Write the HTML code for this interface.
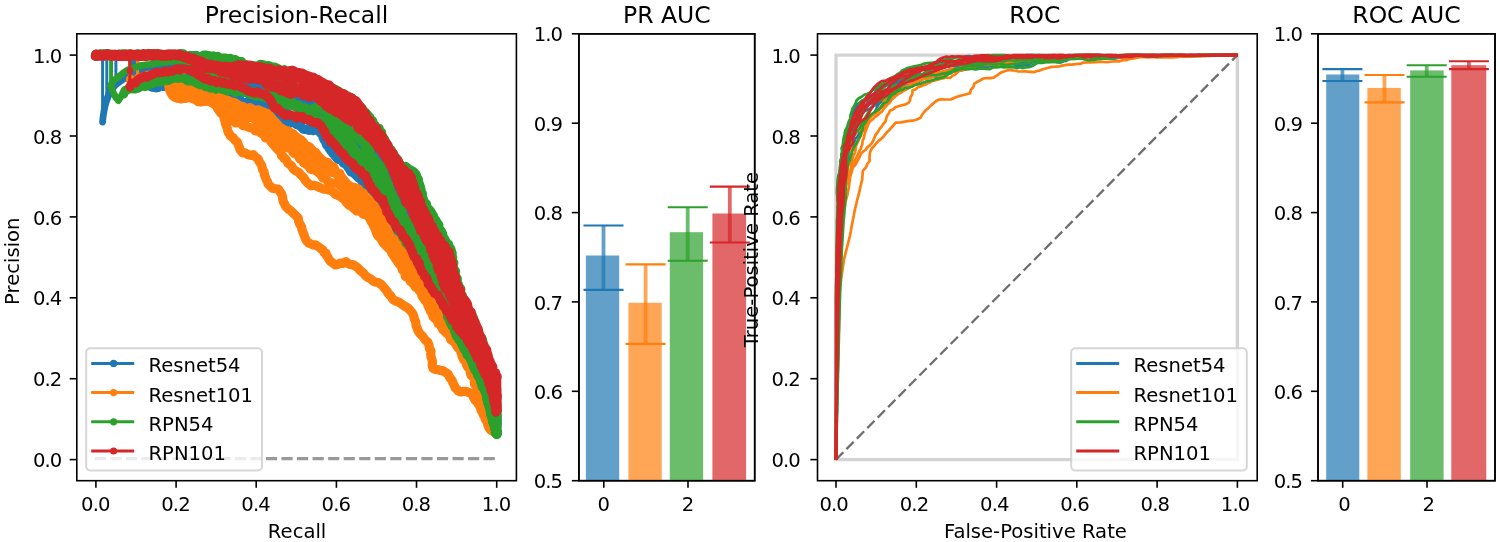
<!DOCTYPE html>
<html lang="en"><head><meta charset="utf-8"><title>PR / ROC curves</title>
<style>html,body{margin:0;padding:0;background:#fff}svg{display:block}</style></head>
<body>
<svg width="1500" height="542" viewBox="0 0 1500 542" font-family="'DejaVu Sans','Liberation Sans',sans-serif" font-size="19.6" fill="#000">
<rect width="1500" height="542" fill="#fff"/>
<filter id="soft" x="0" y="0" width="100%" height="100%" filterUnits="userSpaceOnUse" color-interpolation-filters="sRGB"><feGaussianBlur stdDeviation="0.55"/></filter>
<g filter="url(#soft)">
<rect width="1500" height="542" fill="#fff"/>
<clipPath id="c1"><rect x="76.8" y="33.8" width="439.59999999999997" height="446.9"/></clipPath>
<g clip-path="url(#c1)">
<line x1="94.85" y1="458.6" x2="496.7" y2="458.6" stroke="#999" stroke-width="3.4" stroke-dasharray="11.2 4.35"/>
<g fill="none" stroke="#1f77b4" stroke-linejoin="round" stroke-linecap="round">
<path stroke-width="3" d="M95.9 55.1 L96.4 56.3 L98.1 55.4 L101.5 55.0 L104.0 55.7 L105.6 56.1 L108.5 54.1 L111.0 56.0 L113.4 55.1 L115.8 56.1 L118.7 54.3 L120.7 54.7 L124.1 55.6 L125.3 56.2 L127.7 55.3 L130.8 57.1 L132.0 57.7 L133.4 61.7 L135.1 62.8 L135.5 66.2 L137.6 67.2 L139.0 71.6 L139.5 72.0 L141.2 75.5 L141.7 75.9 L143.1 79.0 L144.2 80.4 L145.9 82.6 L146.6 85.2 L149.2 85.9 L151.4 87.0 L154.0 87.4 L156.3 87.8 L158.2 87.5 L160.4 84.7 L163.4 86.5 L166.5 86.1 L168.4 85.3 L171.0 82.9 L173.6 84.5 L175.8 84.1 L178.0 83.3 L180.8 84.1 L183.4 83.0 L185.1 83.6 L188.7 84.6 L190.5 83.8 L193.4 84.8 L196.1 87.9 L197.9 88.1 L201.2 89.4 L203.7 89.8 L205.5 90.4 L209.1 88.5 L211.6 90.3 L212.8 90.6 L216.4 93.9 L217.8 95.1 L221.1 97.8 L223.1 97.6 L225.5 95.8 L227.9 95.7 L231.1 95.1 L232.9 95.2 L235.3 96.3 L238.1 98.8 L240.4 100.4 L243.3 102.8 L245.9 103.2 L248.4 101.4 L251.0 101.3 L252.9 101.5 L256.2 104.6 L258.2 104.0 L260.8 104.8 L263.7 105.2 L265.4 106.4 L268.5 105.9 L271.4 110.1 L273.2 112.8 L275.3 113.9 L275.8 115.3 L277.2 117.8 L278.8 120.2 L280.3 121.5 L283.9 124.4 L286.0 124.0 L288.2 124.2 L291.0 122.4 L292.9 121.8 L296.5 124.4 L297.7 124.6 L300.9 126.7 L303.2 129.2 L305.7 129.4 L309.1 130.3 L310.9 129.8 L313.2 130.6 L316.3 129.7 L318.2 130.2 L320.7 133.3 L322.2 133.9 L323.1 137.6 L324.1 139.7 L325.2 140.8 L326.5 144.9 L327.8 145.8 L329.0 148.1 L331.3 151.4 L334.0 154.7 L336.0 157.1 L337.8 159.3 L340.8 159.4 L343.8 163.4 L345.7 163.9 L349.0 168.5 L351.1 172.1 L352.7 172.4 L355.3 174.6 L358.7 178.1 L360.3 178.8 L362.9 182.1 L366.2 185.8 L366.5 187.8 L367.5 188.3 L368.0 189.9 L370.0 194.0 L370.4 194.0 L370.4 196.0 L371.9 199.6 L372.7 201.2 L376.2 202.0 L378.3 205.5 L381.0 205.8 L384.0 208.3 L384.4 210.5 L386.6 214.5 L387.4 215.8 L387.0 216.9 L388.2 220.4 L388.5 222.9 L390.5 224.3 L390.1 227.3 L392.0 229.9 L393.5 233.1 L394.5 235.4 L396.6 237.1 L398.6 238.1 L400.7 240.2 L404.0 244.1 L405.1 245.8 L406.7 247.2 L406.9 249.5 L408.0 251.3 L408.7 254.0 L410.0 254.6 L411.6 256.1 L412.4 259.9 L412.0 262.0 L413.5 264.4 L414.8 265.8 L416.6 267.6 L417.6 269.7 L418.1 271.8 L420.2 274.4 L421.3 275.6 L422.5 278.3 L422.8 279.6 L425.0 280.9 L426.1 283.1 L426.9 287.3 L429.1 290.0 L429.5 291.9 L431.4 295.4 L431.7 297.7 L432.4 300.0 L433.4 299.9 L435.0 301.7 L436.2 303.2 L439.2 305.3 L441.3 304.2 L443.6 304.5 L445.5 307.3 L446.4 309.2 L447.8 313.0 L449.8 312.8 L450.0 316.0 L451.2 318.7 L451.5 321.3 L452.1 321.3 L453.9 323.3 L453.7 326.3 L454.8 327.5 L456.6 330.3 L457.6 332.5 L459.0 335.2 L460.3 338.6 L461.6 341.4 L462.4 343.2 L464.0 345.5 L464.0 349.3 L466.4 351.3 L467.5 352.9 L468.3 357.3 L470.4 360.5 L470.4 362.9 L471.8 364.3 L472.0 365.6 L473.4 368.6 L474.3 371.3 L476.0 375.2 L477.3 376.4 L479.0 379.7 L480.4 383.9 L480.3 385.5 L482.9 387.8 L483.5 390.4 L483.5 392.3 L484.5 394.7 L486.1 397.7 L487.4 400.3 L487.4 403.3 L488.6 404.6 L489.8 407.3 L489.8 409.5 L490.6 412.8 L491.3 414.9 L491.9 414.4 L493.5 417.0 L494.7 419.6 L496.4 423.8 L497.0 426.2 L496.7 424.0"/>
<path stroke-width="9.2" d="M96.4 56.3h0L98.1 55.4L101.5 55.0L104.0 55.7L105.6 56.1L108.5 54.1L111.0 56.0L113.4 55.1L115.8 56.1L118.7 54.3L120.7 54.7L124.1 55.6L125.3 56.2L127.7 55.3L130.8 57.1L132.0 57.7L133.4 61.7L135.1 62.8L135.5 66.2L137.6 67.2L139.0 71.6L139.5 72.0L141.2 75.5L141.7 75.9L143.1 79.0L144.2 80.4L145.9 82.6L146.6 85.2L149.2 85.9L151.4 87.0L154.0 87.4L156.3 87.8L158.2 87.5L160.4 84.7L163.4 86.5L166.5 86.1L168.4 85.3L171.0 82.9L173.6 84.5L175.8 84.1L178.0 83.3L180.8 84.1L183.4 83.0L185.1 83.6L188.7 84.6L190.5 83.8L193.4 84.8L196.1 87.9L197.9 88.1L201.2 89.4L203.7 89.8L205.5 90.4L209.1 88.5L211.6 90.3L212.8 90.6L216.4 93.9L217.8 95.1L221.1 97.8L223.1 97.6L225.5 95.8L227.9 95.7L231.1 95.1L232.9 95.2L235.3 96.3L238.1 98.8L240.4 100.4L243.3 102.8L245.9 103.2L248.4 101.4L251.0 101.3L252.9 101.5L256.2 104.6L258.2 104.0L260.8 104.8L263.7 105.2L265.4 106.4L268.5 105.9L271.4 110.1L273.2 112.8L275.3 113.9L275.8 115.3L277.2 117.8L278.8 120.2L280.3 121.5L283.9 124.4L286.0 124.0L288.2 124.2L291.0 122.4L292.9 121.8L296.5 124.4L297.7 124.6L300.9 126.7L303.2 129.2L305.7 129.4L309.1 130.3L310.9 129.8L313.2 130.6L316.3 129.7L318.2 130.2L320.7 133.3L322.2 133.9L323.1 137.6L324.1 139.7L325.2 140.8L326.5 144.9L327.8 145.8L329.0 148.1L331.3 151.4L334.0 154.7L336.0 157.1L337.8 159.3L340.8 159.4L343.8 163.4L345.7 163.9L349.0 168.5L351.1 172.1L352.7 172.4L355.3 174.6L358.7 178.1L360.3 178.8L362.9 182.1L366.2 185.8L366.5 187.8L367.5 188.3L368.0 189.9L370.0 194.0L370.4 194.0L370.4 196.0L371.9 199.6L372.7 201.2L376.2 202.0L378.3 205.5L381.0 205.8L384.0 208.3L384.4 210.5L386.6 214.5L387.4 215.8L387.0 216.9L388.2 220.4L388.5 222.9L390.5 224.3L390.1 227.3L392.0 229.9L393.5 233.1L394.5 235.4L396.6 237.1L398.6 238.1L400.7 240.2L404.0 244.1L405.1 245.8L406.7 247.2L406.9 249.5L408.0 251.3L408.7 254.0L410.0 254.6L411.6 256.1L412.4 259.9L412.0 262.0L413.5 264.4L414.8 265.8L416.6 267.6L417.6 269.7L418.1 271.8L420.2 274.4L421.3 275.6L422.5 278.3L422.8 279.6L425.0 280.9L426.1 283.1L426.9 287.3L429.1 290.0L429.5 291.9L431.4 295.4L431.7 297.7L432.4 300.0L433.4 299.9L435.0 301.7L436.2 303.2L439.2 305.3L441.3 304.2L443.6 304.5L445.5 307.3L446.4 309.2L447.8 313.0L449.8 312.8L450.0 316.0L451.2 318.7L451.5 321.3L452.1 321.3L453.9 323.3L453.7 326.3L454.8 327.5L456.6 330.3L457.6 332.5L459.0 335.2L460.3 338.6L461.6 341.4L462.4 343.2L464.0 345.5L464.0 349.3L466.4 351.3L467.5 352.9L468.3 357.3L470.4 360.5L470.4 362.9L471.8 364.3L472.0 365.6L473.4 368.6L474.3 371.3L476.0 375.2L477.3 376.4L479.0 379.7L480.4 383.9L480.3 385.5L482.9 387.8L483.5 390.4L483.5 392.3L484.5 394.7L486.1 397.7L487.4 400.3L487.4 403.3L488.6 404.6L489.8 407.3L489.8 409.5L490.6 412.8L491.3 414.9L491.9 414.4L493.5 417.0L494.7 419.6L496.4 423.8L497.0 426.2L496.7 424.0"/>
<path stroke-width="3" d="M95.9 55.1 L99.2 55.1 L102.6 55.1 L105.9 55.1 L109.2 55.1 L112.6 55.1 L115.9 55.1 L115.9 80.0 L120.0 76.0 L122.7 74.7 L125.3 73.3 L128.0 72.0 L131.0 71.0 L134.0 70.0 L137.0 69.0 L140.0 68.0 L143.3 67.5 L146.7 67.0 L150.0 66.5 L153.3 66.0 L156.7 65.5 L160.0 65.0 L163.2 64.8 L166.5 64.5 L169.8 64.2 L173.0 64.0 L176.2 63.8 L179.5 63.5 L182.8 63.2 L186.0 63.0 L190.1 59.4 L191.7 58.6 L194.5 61.6 L196.9 63.5 L199.6 65.0 L202.5 64.8 L205.7 65.7 L207.8 65.6 L210.5 68.9 L211.9 70.0 L214.6 70.6 L217.3 74.4 L220.7 77.1 L223.3 77.4 L225.2 76.9 L227.9 78.9 L229.8 81.6 L232.1 82.3 L233.2 83.8 L235.1 87.0 L237.0 88.9 L240.1 90.7 L242.4 91.6 L244.2 91.0 L247.4 93.0 L250.4 95.6 L253.0 97.7 L254.4 100.0 L257.3 100.3 L260.4 99.4 L262.8 100.0 L264.9 98.8 L268.2 100.9 L268.3 101.3 L269.3 103.7 L270.6 106.3 L272.4 107.1 L275.0 111.1 L277.1 109.6 L279.7 109.9 L283.1 111.3 L284.9 110.8 L286.8 112.7 L290.5 116.4 L292.0 117.9 L294.3 117.8 L297.2 116.1 L300.4 117.0 L302.5 116.1 L305.3 118.6 L307.8 120.3 L310.6 122.2 L312.1 124.0 L314.5 122.8 L317.8 124.4 L319.7 122.6 L321.5 124.8 L322.3 128.4 L323.6 129.9 L324.3 133.7 L327.0 137.4 L326.9 139.1 L328.7 140.5 L330.3 143.4 L333.0 144.1 L335.7 145.9 L337.5 145.0 L340.0 147.1 L341.5 150.4 L342.6 152.8 L343.0 154.0 L345.5 154.3 L347.2 157.1 L350.1 160.4 L352.3 160.9 L354.8 161.6 L357.2 164.2 L358.7 163.3 L359.4 166.8 L361.8 168.6 L362.0 171.3 L364.1 171.2 L364.8 174.6 L365.5 175.1 L367.3 179.3 L369.5 179.8 L370.6 183.0 L371.8 184.1 L373.2 185.8 L375.7 187.6 L375.8 189.1 L377.5 190.3 L378.6 192.9 L380.1 194.3 L380.9 197.2 L382.5 199.1 L384.0 201.1 L385.0 204.0 L386.7 207.3 L387.9 209.1 L388.4 212.0 L390.0 212.5 L390.9 214.6 L392.8 217.8 L393.7 219.7 L394.6 221.0 L396.0 223.0 L397.3 226.7 L399.1 227.8 L399.6 231.8 L401.5 233.6 L402.7 235.7 L404.6 236.6 L407.3 238.0 L410.7 241.4 L411.5 244.4 L413.0 244.4 L413.5 246.7 L415.5 250.8 L416.2 252.8 L417.1 256.0 L418.7 259.1 L419.7 261.1 L419.9 262.0 L421.0 266.1 L422.0 266.5 L423.4 270.4 L425.6 270.6 L426.8 273.6 L427.4 273.3 L429.2 275.8 L429.4 279.1 L431.2 280.4 L432.6 282.7 L433.0 285.9 L434.8 287.7 L437.3 292.4 L439.7 294.0 L442.7 293.4 L444.3 294.5 L446.4 295.9 L447.0 299.7 L449.4 301.1 L450.1 305.0 L450.6 306.2 L451.4 310.3 L452.7 312.6 L452.5 314.1 L453.5 316.9 L454.2 320.4 L454.4 322.8 L455.4 324.9 L456.3 326.7 L457.3 327.6 L459.2 332.3 L459.6 334.9 L461.2 337.5 L461.8 338.1 L463.3 340.7 L465.4 343.3 L466.3 344.6 L468.0 346.4 L468.4 351.0 L469.9 354.6 L470.2 355.4 L471.2 356.4 L471.9 358.8 L473.1 361.8 L474.2 363.4 L475.3 366.1 L477.0 367.9 L477.5 371.4 L478.6 374.8 L479.5 377.3 L481.0 378.5 L482.7 381.6 L483.0 382.5 L484.9 385.4 L484.4 388.4 L485.9 389.9 L486.4 393.7 L487.2 395.0 L489.0 397.4 L489.0 399.4 L490.3 403.3 L490.7 405.1 L491.2 408.7 L492.4 411.3 L493.1 413.2 L493.4 414.0 L495.7 417.3 L496.1 419.0 L496.7 420.4 L496.7 424.0"/>
<path stroke-width="6.8" d="M99.2 55.1h0L102.6 55.1L105.9 55.1L109.2 55.1L112.6 55.1L115.9 55.1M115.9 80.0h0L120.0 76.0L122.7 74.7L125.3 73.3L128.0 72.0L131.0 71.0L134.0 70.0L137.0 69.0L140.0 68.0L143.3 67.5L146.7 67.0L150.0 66.5L153.3 66.0L156.7 65.5L160.0 65.0L163.2 64.8L166.5 64.5L169.8 64.2L173.0 64.0L176.2 63.8L179.5 63.5L182.8 63.2L186.0 63.0"/>
<path stroke-width="9.2" d="M190.1 59.4h0L191.7 58.6L194.5 61.6L196.9 63.5L199.6 65.0L202.5 64.8L205.7 65.7L207.8 65.6L210.5 68.9L211.9 70.0L214.6 70.6L217.3 74.4L220.7 77.1L223.3 77.4L225.2 76.9L227.9 78.9L229.8 81.6L232.1 82.3L233.2 83.8L235.1 87.0L237.0 88.9L240.1 90.7L242.4 91.6L244.2 91.0L247.4 93.0L250.4 95.6L253.0 97.7L254.4 100.0L257.3 100.3L260.4 99.4L262.8 100.0L264.9 98.8L268.2 100.9L268.3 101.3L269.3 103.7L270.6 106.3L272.4 107.1L275.0 111.1L277.1 109.6L279.7 109.9L283.1 111.3L284.9 110.8L286.8 112.7L290.5 116.4L292.0 117.9L294.3 117.8L297.2 116.1L300.4 117.0L302.5 116.1L305.3 118.6L307.8 120.3L310.6 122.2L312.1 124.0L314.5 122.8L317.8 124.4L319.7 122.6L321.5 124.8L322.3 128.4L323.6 129.9L324.3 133.7L327.0 137.4L326.9 139.1L328.7 140.5L330.3 143.4L333.0 144.1L335.7 145.9L337.5 145.0L340.0 147.1L341.5 150.4L342.6 152.8L343.0 154.0L345.5 154.3L347.2 157.1L350.1 160.4L352.3 160.9L354.8 161.6L357.2 164.2L358.7 163.3L359.4 166.8L361.8 168.6L362.0 171.3L364.1 171.2L364.8 174.6L365.5 175.1L367.3 179.3L369.5 179.8L370.6 183.0L371.8 184.1L373.2 185.8L375.7 187.6L375.8 189.1L377.5 190.3L378.6 192.9L380.1 194.3L380.9 197.2L382.5 199.1L384.0 201.1L385.0 204.0L386.7 207.3L387.9 209.1L388.4 212.0L390.0 212.5L390.9 214.6L392.8 217.8L393.7 219.7L394.6 221.0L396.0 223.0L397.3 226.7L399.1 227.8L399.6 231.8L401.5 233.6L402.7 235.7L404.6 236.6L407.3 238.0L410.7 241.4L411.5 244.4L413.0 244.4L413.5 246.7L415.5 250.8L416.2 252.8L417.1 256.0L418.7 259.1L419.7 261.1L419.9 262.0L421.0 266.1L422.0 266.5L423.4 270.4L425.6 270.6L426.8 273.6L427.4 273.3L429.2 275.8L429.4 279.1L431.2 280.4L432.6 282.7L433.0 285.9L434.8 287.7L437.3 292.4L439.7 294.0L442.7 293.4L444.3 294.5L446.4 295.9L447.0 299.7L449.4 301.1L450.1 305.0L450.6 306.2L451.4 310.3L452.7 312.6L452.5 314.1L453.5 316.9L454.2 320.4L454.4 322.8L455.4 324.9L456.3 326.7L457.3 327.6L459.2 332.3L459.6 334.9L461.2 337.5L461.8 338.1L463.3 340.7L465.4 343.3L466.3 344.6L468.0 346.4L468.4 351.0L469.9 354.6L470.2 355.4L471.2 356.4L471.9 358.8L473.1 361.8L474.2 363.4L475.3 366.1L477.0 367.9L477.5 371.4L478.6 374.8L479.5 377.3L481.0 378.5L482.7 381.6L483.0 382.5L484.9 385.4L484.4 388.4L485.9 389.9L486.4 393.7L487.2 395.0L489.0 397.4L489.0 399.4L490.3 403.3L490.7 405.1L491.2 408.7L492.4 411.3L493.1 413.2L493.4 414.0L495.7 417.3L496.1 419.0L496.7 420.4L496.7 424.0"/>
<path stroke-width="3" d="M95.9 55.1 L102.6 55.1 L102.6 122.0 L103.2 116.0 L104.2 110.0 L105.4 104.5 L106.8 99.5 L108.5 95.0 L110.5 91.0 L113.0 87.5 L116.0 84.5 L119.0 82.3 L122.0 80.2 L125.0 78.0 L128.2 76.5 L131.5 75.0 L134.8 73.5 L138.0 72.0 L141.1 71.4 L144.3 70.9 L147.4 70.3 L150.6 69.7 L153.7 69.1 L156.9 68.6 L160.0 68.0 L163.2 67.8 L166.5 67.5 L169.8 67.2 L173.0 67.0 L176.2 66.8 L179.5 66.5 L182.8 66.2 L186.0 66.0 L190.0 72.3 L191.9 72.2 L195.3 73.7 L197.7 75.2 L200.1 74.8 L202.4 77.2 L205.1 77.8 L207.3 77.4 L210.7 78.6 L212.7 76.8 L215.2 76.6 L218.2 79.2 L220.4 77.8 L223.0 78.3 L225.5 80.2 L226.7 82.3 L229.9 83.2 L232.8 83.4 L235.6 83.3 L238.1 84.2 L239.3 84.5 L241.8 84.1 L245.2 84.4 L247.0 85.3 L249.7 87.6 L253.1 88.4 L255.8 88.4 L258.0 89.0 L260.7 91.2 L262.9 90.1 L264.4 92.0 L267.6 91.7 L270.6 91.3 L272.8 93.1 L275.4 94.3 L277.0 96.8 L279.7 97.8 L283.0 98.6 L285.3 100.5 L287.1 101.5 L290.7 103.1 L292.5 104.5 L294.3 106.1 L297.9 107.4 L299.8 106.6 L302.3 108.8 L305.2 108.8 L307.5 108.8 L310.7 110.2 L312.5 111.3 L314.5 111.1 L317.3 111.5 L319.4 110.2 L322.7 113.5 L323.6 115.3 L324.6 116.5 L325.5 119.2 L327.1 121.0 L328.8 122.4 L330.2 123.0 L332.9 126.2 L335.6 130.2 L337.8 132.7 L339.9 134.3 L343.2 134.8 L344.4 137.0 L347.5 137.8 L349.6 141.3 L352.3 141.5 L354.5 145.2 L357.0 147.8 L358.8 149.3 L360.0 151.9 L360.5 153.6 L362.0 152.8 L364.2 155.9 L365.1 156.6 L366.7 158.8 L367.9 160.5 L368.9 163.6 L369.8 165.1 L370.6 167.1 L372.8 167.5 L375.1 170.5 L376.9 172.4 L380.6 172.6 L382.1 175.4 L383.4 178.0 L385.0 180.9 L385.9 184.4 L387.3 188.1 L388.7 188.4 L388.7 190.2 L389.7 192.4 L391.6 197.2 L393.3 198.6 L393.0 202.4 L394.9 205.2 L396.1 205.6 L396.8 209.2 L398.8 209.6 L399.9 212.1 L403.0 214.1 L404.5 215.9 L408.1 217.9 L410.3 221.0 L411.2 222.8 L412.1 224.6 L414.3 225.2 L414.8 229.3 L417.0 229.0 L417.7 232.6 L418.9 234.4 L418.6 236.1 L420.3 239.4 L420.4 241.5 L421.9 243.9 L421.8 245.7 L423.5 248.9 L424.7 250.5 L426.5 253.1 L428.0 255.3 L428.8 258.7 L429.4 260.7 L430.6 263.3 L431.8 264.9 L433.5 265.5 L434.8 268.3 L437.4 269.9 L440.0 273.2 L443.2 276.4 L444.9 278.6 L447.0 281.6 L447.7 285.7 L448.6 288.1 L449.7 289.0 L450.1 292.2 L452.3 293.8 L452.4 297.6 L452.8 298.3 L453.8 301.4 L455.1 305.0 L454.6 306.5 L455.7 307.4 L456.6 312.0 L457.2 313.4 L458.7 314.0 L459.8 316.2 L459.7 319.7 L460.1 320.9 L461.1 323.2 L461.7 324.4 L463.3 326.8 L464.4 329.7 L466.3 332.3 L468.0 335.7 L468.4 337.9 L470.5 340.0 L471.6 343.0 L473.2 346.6 L473.9 350.6 L474.4 351.4 L476.6 355.6 L477.8 357.6 L478.7 360.1 L479.9 363.1 L481.0 365.2 L481.3 368.1 L481.9 370.5 L483.3 371.4 L483.6 374.5 L485.0 377.3 L485.6 379.0 L487.3 381.0 L488.3 385.1 L489.1 387.9 L488.8 390.2 L490.2 391.3 L491.4 394.6 L491.7 396.6 L491.2 399.6 L492.0 400.2 L493.5 402.8 L494.1 407.0 L494.4 409.6 L495.2 412.2 L496.9 415.8 L496.7 418.5 L496.7 421.3 L496.7 424.0"/>
<path stroke-width="6.8" d="M102.6 55.1h0M102.6 122.0h0L103.2 116.0L104.2 110.0L105.4 104.5L106.8 99.5L108.5 95.0L110.5 91.0L113.0 87.5L116.0 84.5L119.0 82.3L122.0 80.2L125.0 78.0L128.2 76.5L131.5 75.0L134.8 73.5L138.0 72.0L141.1 71.4L144.3 70.9L147.4 70.3L150.6 69.7L153.7 69.1L156.9 68.6L160.0 68.0L163.2 67.8L166.5 67.5L169.8 67.2L173.0 67.0L176.2 66.8L179.5 66.5L182.8 66.2L186.0 66.0"/>
<path stroke-width="9.2" d="M190.0 72.3h0L191.9 72.2L195.3 73.7L197.7 75.2L200.1 74.8L202.4 77.2L205.1 77.8L207.3 77.4L210.7 78.6L212.7 76.8L215.2 76.6L218.2 79.2L220.4 77.8L223.0 78.3L225.5 80.2L226.7 82.3L229.9 83.2L232.8 83.4L235.6 83.3L238.1 84.2L239.3 84.5L241.8 84.1L245.2 84.4L247.0 85.3L249.7 87.6L253.1 88.4L255.8 88.4L258.0 89.0L260.7 91.2L262.9 90.1L264.4 92.0L267.6 91.7L270.6 91.3L272.8 93.1L275.4 94.3L277.0 96.8L279.7 97.8L283.0 98.6L285.3 100.5L287.1 101.5L290.7 103.1L292.5 104.5L294.3 106.1L297.9 107.4L299.8 106.6L302.3 108.8L305.2 108.8L307.5 108.8L310.7 110.2L312.5 111.3L314.5 111.1L317.3 111.5L319.4 110.2L322.7 113.5L323.6 115.3L324.6 116.5L325.5 119.2L327.1 121.0L328.8 122.4L330.2 123.0L332.9 126.2L335.6 130.2L337.8 132.7L339.9 134.3L343.2 134.8L344.4 137.0L347.5 137.8L349.6 141.3L352.3 141.5L354.5 145.2L357.0 147.8L358.8 149.3L360.0 151.9L360.5 153.6L362.0 152.8L364.2 155.9L365.1 156.6L366.7 158.8L367.9 160.5L368.9 163.6L369.8 165.1L370.6 167.1L372.8 167.5L375.1 170.5L376.9 172.4L380.6 172.6L382.1 175.4L383.4 178.0L385.0 180.9L385.9 184.4L387.3 188.1L388.7 188.4L388.7 190.2L389.7 192.4L391.6 197.2L393.3 198.6L393.0 202.4L394.9 205.2L396.1 205.6L396.8 209.2L398.8 209.6L399.9 212.1L403.0 214.1L404.5 215.9L408.1 217.9L410.3 221.0L411.2 222.8L412.1 224.6L414.3 225.2L414.8 229.3L417.0 229.0L417.7 232.6L418.9 234.4L418.6 236.1L420.3 239.4L420.4 241.5L421.9 243.9L421.8 245.7L423.5 248.9L424.7 250.5L426.5 253.1L428.0 255.3L428.8 258.7L429.4 260.7L430.6 263.3L431.8 264.9L433.5 265.5L434.8 268.3L437.4 269.9L440.0 273.2L443.2 276.4L444.9 278.6L447.0 281.6L447.7 285.7L448.6 288.1L449.7 289.0L450.1 292.2L452.3 293.8L452.4 297.6L452.8 298.3L453.8 301.4L455.1 305.0L454.6 306.5L455.7 307.4L456.6 312.0L457.2 313.4L458.7 314.0L459.8 316.2L459.7 319.7L460.1 320.9L461.1 323.2L461.7 324.4L463.3 326.8L464.4 329.7L466.3 332.3L468.0 335.7L468.4 337.9L470.5 340.0L471.6 343.0L473.2 346.6L473.9 350.6L474.4 351.4L476.6 355.6L477.8 357.6L478.7 360.1L479.9 363.1L481.0 365.2L481.3 368.1L481.9 370.5L483.3 371.4L483.6 374.5L485.0 377.3L485.6 379.0L487.3 381.0L488.3 385.1L489.1 387.9L488.8 390.2L490.2 391.3L491.4 394.6L491.7 396.6L491.2 399.6L492.0 400.2L493.5 402.8L494.1 407.0L494.4 409.6L495.2 412.2L496.9 415.8L496.7 418.5L496.7 421.3L496.7 424.0"/>
<path stroke-width="3" d="M95.9 55.1 L99.5 55.1 L103.2 55.1 L106.8 55.1 L106.8 100.0 L107.9 97.3 L108.9 94.7 L110.0 92.0 L112.0 89.0 L114.0 86.0 L116.0 83.0 L118.5 81.2 L121.0 79.5 L123.5 77.8 L126.0 76.0 L128.8 74.8 L131.6 73.6 L134.4 72.4 L137.2 71.2 L140.0 70.0 L143.3 69.3 L146.7 68.7 L150.0 68.0 L153.3 67.3 L156.7 66.7 L160.0 66.0 L163.2 65.8 L166.5 65.5 L169.8 65.2 L173.0 65.0 L176.2 64.8 L179.5 64.5 L182.8 64.2 L186.0 64.0 L189.5 69.7 L193.2 69.3 L195.8 68.6 L198.0 68.5 L200.4 70.2 L203.2 71.1 L205.6 70.0 L207.9 70.7 L209.7 70.6 L213.0 72.2 L215.5 72.5 L217.0 72.4 L220.1 73.9 L222.2 74.8 L224.5 77.1 L227.1 77.6 L229.7 77.4 L232.2 75.7 L234.8 75.4 L237.4 77.4 L239.2 80.0 L242.3 79.2 L245.7 80.6 L247.1 80.3 L249.4 82.1 L252.6 81.7 L254.6 81.7 L258.2 83.0 L260.8 85.5 L261.9 86.3 L264.3 86.1 L268.0 85.8 L270.1 85.8 L272.0 85.0 L274.6 85.2 L277.0 87.4 L280.1 89.6 L282.7 91.9 L285.7 94.6 L287.6 94.7 L290.7 95.9 L291.9 96.6 L295.3 99.3 L297.7 100.2 L300.7 102.3 L302.4 102.8 L305.4 102.9 L306.9 103.2 L310.5 101.2 L312.8 101.8 L314.4 99.3 L317.5 100.5 L320.7 103.7 L321.2 105.0 L322.7 105.2 L324.5 107.0 L324.3 109.4 L326.7 112.5 L329.9 116.2 L332.4 117.6 L335.4 118.8 L337.1 120.6 L340.0 123.6 L342.7 126.9 L344.7 129.5 L348.3 129.8 L349.7 130.1 L351.9 130.9 L354.9 134.1 L357.8 136.5 L360.5 138.3 L361.4 138.4 L362.3 140.6 L363.9 142.1 L365.1 144.8 L366.2 147.0 L366.9 149.8 L369.2 151.5 L369.4 153.5 L371.8 156.2 L372.9 155.5 L375.6 159.6 L375.9 161.8 L378.0 163.3 L378.4 164.2 L379.8 165.2 L381.7 167.8 L382.2 169.4 L384.4 171.6 L385.6 173.7 L387.0 174.3 L387.4 177.6 L389.1 180.3 L390.2 180.7 L391.5 182.5 L392.8 185.3 L393.0 185.3 L395.6 186.3 L396.7 188.3 L397.7 192.3 L398.3 193.7 L399.6 197.0 L401.3 199.3 L402.2 201.9 L404.5 204.4 L405.7 205.0 L406.3 207.0 L407.3 209.7 L409.5 211.9 L412.9 215.5 L414.2 216.3 L417.5 220.9 L417.8 222.9 L419.0 224.3 L420.7 225.3 L420.6 228.1 L421.1 231.0 L422.8 234.3 L423.2 237.7 L425.0 238.9 L426.7 242.5 L427.1 244.6 L429.2 244.3 L429.2 247.5 L431.8 247.1 L432.9 250.4 L434.0 252.1 L435.8 252.4 L436.8 255.6 L437.2 256.6 L439.0 259.2 L440.1 259.9 L440.9 263.0 L441.9 266.3 L444.4 266.9 L445.3 270.2 L445.7 273.4 L447.9 275.1 L448.1 277.6 L450.4 280.7 L451.3 282.2 L451.1 285.1 L453.1 286.9 L452.5 291.1 L453.1 293.6 L453.7 295.2 L455.3 299.5 L455.7 300.9 L455.9 303.1 L457.1 306.8 L458.7 309.1 L459.2 311.1 L459.4 312.6 L460.5 314.6 L462.0 316.8 L462.2 319.2 L464.3 322.8 L465.0 324.7 L466.9 328.5 L467.4 329.9 L469.3 331.2 L469.6 332.9 L471.3 337.0 L472.0 338.4 L474.5 341.1 L474.8 344.7 L476.9 346.4 L476.9 349.9 L478.7 352.8 L479.4 353.3 L480.0 355.4 L480.7 358.2 L482.3 361.7 L483.2 362.9 L484.1 364.6 L484.8 368.5 L485.6 370.5 L486.6 371.9 L487.2 376.5 L487.3 379.0 L487.9 381.5 L489.1 383.3 L489.5 387.0 L491.0 387.4 L492.0 390.1 L491.7 392.8 L492.6 396.4 L493.8 398.0 L493.5 398.9 L493.7 402.2 L495.1 404.3 L496.3 406.4 L495.9 408.7 L496.2 412.3 L496.7 414.6 L496.7 417.0 L496.7 419.3 L496.7 421.7 L496.7 424.0"/>
<path stroke-width="6.8" d="M99.5 55.1h0L103.2 55.1L106.8 55.1M106.8 100.0h0L107.9 97.3L108.9 94.7L110.0 92.0L112.0 89.0L114.0 86.0L116.0 83.0L118.5 81.2L121.0 79.5L123.5 77.8L126.0 76.0L128.8 74.8L131.6 73.6L134.4 72.4L137.2 71.2L140.0 70.0L143.3 69.3L146.7 68.7L150.0 68.0L153.3 67.3L156.7 66.7L160.0 66.0L163.2 65.8L166.5 65.5L169.8 65.2L173.0 65.0L176.2 64.8L179.5 64.5L182.8 64.2L186.0 64.0"/>
<path stroke-width="9.2" d="M189.5 69.7h0L193.2 69.3L195.8 68.6L198.0 68.5L200.4 70.2L203.2 71.1L205.6 70.0L207.9 70.7L209.7 70.6L213.0 72.2L215.5 72.5L217.0 72.4L220.1 73.9L222.2 74.8L224.5 77.1L227.1 77.6L229.7 77.4L232.2 75.7L234.8 75.4L237.4 77.4L239.2 80.0L242.3 79.2L245.7 80.6L247.1 80.3L249.4 82.1L252.6 81.7L254.6 81.7L258.2 83.0L260.8 85.5L261.9 86.3L264.3 86.1L268.0 85.8L270.1 85.8L272.0 85.0L274.6 85.2L277.0 87.4L280.1 89.6L282.7 91.9L285.7 94.6L287.6 94.7L290.7 95.9L291.9 96.6L295.3 99.3L297.7 100.2L300.7 102.3L302.4 102.8L305.4 102.9L306.9 103.2L310.5 101.2L312.8 101.8L314.4 99.3L317.5 100.5L320.7 103.7L321.2 105.0L322.7 105.2L324.5 107.0L324.3 109.4L326.7 112.5L329.9 116.2L332.4 117.6L335.4 118.8L337.1 120.6L340.0 123.6L342.7 126.9L344.7 129.5L348.3 129.8L349.7 130.1L351.9 130.9L354.9 134.1L357.8 136.5L360.5 138.3L361.4 138.4L362.3 140.6L363.9 142.1L365.1 144.8L366.2 147.0L366.9 149.8L369.2 151.5L369.4 153.5L371.8 156.2L372.9 155.5L375.6 159.6L375.9 161.8L378.0 163.3L378.4 164.2L379.8 165.2L381.7 167.8L382.2 169.4L384.4 171.6L385.6 173.7L387.0 174.3L387.4 177.6L389.1 180.3L390.2 180.7L391.5 182.5L392.8 185.3L393.0 185.3L395.6 186.3L396.7 188.3L397.7 192.3L398.3 193.7L399.6 197.0L401.3 199.3L402.2 201.9L404.5 204.4L405.7 205.0L406.3 207.0L407.3 209.7L409.5 211.9L412.9 215.5L414.2 216.3L417.5 220.9L417.8 222.9L419.0 224.3L420.7 225.3L420.6 228.1L421.1 231.0L422.8 234.3L423.2 237.7L425.0 238.9L426.7 242.5L427.1 244.6L429.2 244.3L429.2 247.5L431.8 247.1L432.9 250.4L434.0 252.1L435.8 252.4L436.8 255.6L437.2 256.6L439.0 259.2L440.1 259.9L440.9 263.0L441.9 266.3L444.4 266.9L445.3 270.2L445.7 273.4L447.9 275.1L448.1 277.6L450.4 280.7L451.3 282.2L451.1 285.1L453.1 286.9L452.5 291.1L453.1 293.6L453.7 295.2L455.3 299.5L455.7 300.9L455.9 303.1L457.1 306.8L458.7 309.1L459.2 311.1L459.4 312.6L460.5 314.6L462.0 316.8L462.2 319.2L464.3 322.8L465.0 324.7L466.9 328.5L467.4 329.9L469.3 331.2L469.6 332.9L471.3 337.0L472.0 338.4L474.5 341.1L474.8 344.7L476.9 346.4L476.9 349.9L478.7 352.8L479.4 353.3L480.0 355.4L480.7 358.2L482.3 361.7L483.2 362.9L484.1 364.6L484.8 368.5L485.6 370.5L486.6 371.9L487.2 376.5L487.3 379.0L487.9 381.5L489.1 383.3L489.5 387.0L491.0 387.4L492.0 390.1L491.7 392.8L492.6 396.4L493.8 398.0L493.5 398.9L493.7 402.2L495.1 404.3L496.3 406.4L495.9 408.7L496.2 412.3L496.7 414.6L496.7 417.0L496.7 419.3L496.7 421.7L496.7 424.0"/>
<path stroke-width="3" d="M95.9 55.1 L95.7 55.8 L99.0 54.4 L101.3 54.9 L103.5 55.2 L105.2 54.0 L108.7 55.6 L110.7 56.2 L113.9 54.6 L115.2 55.2 L118.6 54.4 L120.2 55.1 L122.7 55.7 L126.1 54.5 L128.3 54.4 L130.4 54.3 L133.9 55.0 L136.2 54.7 L138.9 55.3 L141.1 54.8 L143.5 54.3 L146.6 55.5 L148.5 55.5 L150.3 54.7 L153.0 56.0 L155.1 54.9 L159.0 55.7 L161.2 54.4 L163.0 55.4 L165.6 55.5 L168.2 55.6 L171.0 56.0 L174.2 55.3 L176.7 54.8 L179.0 55.3 L181.0 56.5 L183.8 56.5 L185.4 57.7 L188.5 57.5 L190.9 55.5 L193.8 56.0 L195.9 55.4 L198.0 57.4 L201.3 57.7 L203.3 58.6 L206.2 58.1 L208.5 60.2 L211.3 60.2 L213.1 61.5 L215.3 62.3 L218.8 63.7 L220.4 64.7 L222.8 65.4 L225.4 64.3 L228.0 66.1 L230.5 67.8 L234.1 67.1 L236.3 69.4 L238.5 69.5 L241.6 72.5 L242.6 71.8 L245.6 72.0 L248.3 74.3 L250.2 74.5 L253.1 72.6 L256.5 73.6 L258.0 73.7 L260.7 74.2 L262.9 75.1 L266.0 76.1 L268.1 77.3 L271.3 78.8 L273.2 80.2 L276.4 80.0 L278.4 80.0 L280.3 82.2 L283.6 81.4 L286.6 84.6 L287.7 85.2 L290.5 85.9 L293.9 86.3 L295.9 88.0 L297.9 88.8 L300.8 90.5 L302.9 90.5 L305.2 90.0 L307.8 90.3 L310.9 91.0 L313.9 91.4 L316.1 94.1 L317.8 93.4 L321.3 95.4 L324.1 97.1 L325.7 100.9 L328.2 103.2 L331.5 103.3 L333.5 107.0 L335.3 108.5 L338.8 109.8 L341.1 109.8 L344.1 111.5 L346.3 114.6 L348.1 115.8 L350.8 117.3 L352.7 119.1 L355.7 120.3 L358.4 122.1 L360.6 123.6 L362.7 126.3 L364.0 129.3 L366.2 130.2 L367.9 134.0 L369.1 134.2 L370.0 138.2 L371.1 138.8 L372.8 142.0 L373.5 145.1 L374.3 144.8 L376.6 147.2 L376.4 148.4 L379.2 151.6 L380.4 152.9 L384.0 157.0 L384.8 157.3 L385.8 161.1 L386.4 161.4 L387.7 164.6 L389.0 166.2 L391.4 167.4 L391.4 169.3 L393.4 170.7 L394.1 172.6 L396.4 173.6 L397.7 176.3 L398.0 177.9 L399.6 181.0 L401.0 183.7 L402.2 184.3 L404.2 185.2 L405.1 187.9 L408.1 189.8 L410.8 192.2 L414.1 196.0 L416.5 199.3 L417.5 201.3 L418.1 203.2 L418.6 204.9 L419.8 207.7 L419.8 208.8 L421.4 212.2 L422.3 212.7 L421.7 214.9 L423.1 218.8 L423.6 221.1 L424.7 223.2 L426.6 226.1 L427.4 228.3 L428.4 231.1 L429.8 231.7 L430.8 234.7 L432.0 237.1 L433.2 238.7 L434.5 240.4 L436.6 241.3 L436.4 244.6 L438.2 245.5 L439.8 246.8 L440.5 247.4 L442.7 251.3 L443.1 251.6 L444.4 252.0 L446.5 255.6 L446.7 256.2 L448.7 259.8 L449.6 261.1 L450.5 264.6 L452.0 267.2 L451.3 268.9 L453.2 271.6 L452.8 272.4 L452.7 276.4 L453.2 279.2 L454.7 281.0 L455.5 284.9 L455.6 285.4 L456.0 288.9 L456.3 293.1 L457.9 293.9 L458.0 297.3 L459.3 300.0 L460.0 304.0 L460.4 306.6 L461.5 309.5 L463.3 310.2 L463.6 312.0 L464.5 316.0 L466.1 317.9 L466.4 319.8 L468.5 322.3 L469.3 325.7 L471.5 327.8 L471.8 330.4 L473.1 333.3 L474.1 334.5 L475.8 338.8 L476.6 339.6 L477.8 342.4 L479.4 345.7 L481.3 348.6 L481.7 350.9 L483.0 354.6 L483.3 357.1 L483.8 359.8 L485.1 361.5 L485.7 363.0 L486.2 367.1 L487.3 369.2 L488.3 371.3 L488.6 372.8 L489.4 376.6 L490.3 377.3 L491.2 380.9 L490.9 383.0 L491.7 387.0 L492.9 388.3 L493.0 390.7 L493.7 393.7 L495.1 397.7 L495.6 400.8 L496.1 401.7 L496.0 405.5 L496.7 408.2 L496.7 410.8 L496.7 413.5 L496.7 416.1 L496.7 418.7 L496.7 421.4 L496.7 424.0"/>
<path stroke-width="9.2" d="M95.7 55.8h0L99.0 54.4L101.3 54.9L103.5 55.2L105.2 54.0L108.7 55.6L110.7 56.2L113.9 54.6L115.2 55.2L118.6 54.4L120.2 55.1L122.7 55.7L126.1 54.5L128.3 54.4L130.4 54.3L133.9 55.0L136.2 54.7L138.9 55.3L141.1 54.8L143.5 54.3L146.6 55.5L148.5 55.5L150.3 54.7L153.0 56.0L155.1 54.9L159.0 55.7L161.2 54.4L163.0 55.4L165.6 55.5L168.2 55.6L171.0 56.0L174.2 55.3L176.7 54.8L179.0 55.3L181.0 56.5L183.8 56.5L185.4 57.7L188.5 57.5L190.9 55.5L193.8 56.0L195.9 55.4L198.0 57.4L201.3 57.7L203.3 58.6L206.2 58.1L208.5 60.2L211.3 60.2L213.1 61.5L215.3 62.3L218.8 63.7L220.4 64.7L222.8 65.4L225.4 64.3L228.0 66.1L230.5 67.8L234.1 67.1L236.3 69.4L238.5 69.5L241.6 72.5L242.6 71.8L245.6 72.0L248.3 74.3L250.2 74.5L253.1 72.6L256.5 73.6L258.0 73.7L260.7 74.2L262.9 75.1L266.0 76.1L268.1 77.3L271.3 78.8L273.2 80.2L276.4 80.0L278.4 80.0L280.3 82.2L283.6 81.4L286.6 84.6L287.7 85.2L290.5 85.9L293.9 86.3L295.9 88.0L297.9 88.8L300.8 90.5L302.9 90.5L305.2 90.0L307.8 90.3L310.9 91.0L313.9 91.4L316.1 94.1L317.8 93.4L321.3 95.4L324.1 97.1L325.7 100.9L328.2 103.2L331.5 103.3L333.5 107.0L335.3 108.5L338.8 109.8L341.1 109.8L344.1 111.5L346.3 114.6L348.1 115.8L350.8 117.3L352.7 119.1L355.7 120.3L358.4 122.1L360.6 123.6L362.7 126.3L364.0 129.3L366.2 130.2L367.9 134.0L369.1 134.2L370.0 138.2L371.1 138.8L372.8 142.0L373.5 145.1L374.3 144.8L376.6 147.2L376.4 148.4L379.2 151.6L380.4 152.9L384.0 157.0L384.8 157.3L385.8 161.1L386.4 161.4L387.7 164.6L389.0 166.2L391.4 167.4L391.4 169.3L393.4 170.7L394.1 172.6L396.4 173.6L397.7 176.3L398.0 177.9L399.6 181.0L401.0 183.7L402.2 184.3L404.2 185.2L405.1 187.9L408.1 189.8L410.8 192.2L414.1 196.0L416.5 199.3L417.5 201.3L418.1 203.2L418.6 204.9L419.8 207.7L419.8 208.8L421.4 212.2L422.3 212.7L421.7 214.9L423.1 218.8L423.6 221.1L424.7 223.2L426.6 226.1L427.4 228.3L428.4 231.1L429.8 231.7L430.8 234.7L432.0 237.1L433.2 238.7L434.5 240.4L436.6 241.3L436.4 244.6L438.2 245.5L439.8 246.8L440.5 247.4L442.7 251.3L443.1 251.6L444.4 252.0L446.5 255.6L446.7 256.2L448.7 259.8L449.6 261.1L450.5 264.6L452.0 267.2L451.3 268.9L453.2 271.6L452.8 272.4L452.7 276.4L453.2 279.2L454.7 281.0L455.5 284.9L455.6 285.4L456.0 288.9L456.3 293.1L457.9 293.9L458.0 297.3L459.3 300.0L460.0 304.0L460.4 306.6L461.5 309.5L463.3 310.2L463.6 312.0L464.5 316.0L466.1 317.9L466.4 319.8L468.5 322.3L469.3 325.7L471.5 327.8L471.8 330.4L473.1 333.3L474.1 334.5L475.8 338.8L476.6 339.6L477.8 342.4L479.4 345.7L481.3 348.6L481.7 350.9L483.0 354.6L483.3 357.1L483.8 359.8L485.1 361.5L485.7 363.0L486.2 367.1L487.3 369.2L488.3 371.3L488.6 372.8L489.4 376.6L490.3 377.3L491.2 380.9L490.9 383.0L491.7 387.0L492.9 388.3L493.0 390.7L493.7 393.7L495.1 397.7L495.6 400.8L496.1 401.7L496.0 405.5L496.7 408.2L496.7 410.8L496.7 413.5L496.7 416.1L496.7 418.7L496.7 421.4L496.7 424.0"/>
</g>
<g fill="none" stroke="#ff7f0e" stroke-linejoin="round" stroke-linecap="round">
<path stroke-width="3" d="M95.9 55.1 L99.3 55.1 L102.6 55.1 L106.0 55.1 L109.3 55.1 L112.7 55.1 L116.1 55.1 L119.4 55.1 L122.8 55.1 L126.1 55.1 L129.5 55.1 L129.5 80.0 L130.8 79.5 L133.1 80.3 L135.9 80.6 L137.6 79.6 L140.8 79.8 L143.1 78.2 L145.3 76.5 L147.6 77.1 L150.1 76.0 L152.9 74.8 L155.4 75.4 L157.8 73.6 L160.6 73.9 L163.0 72.8 L165.9 72.5 L166.0 74.8 L167.2 77.2 L168.1 79.7 L168.9 82.0 L168.6 85.2 L169.0 87.1 L169.7 90.2 L170.8 92.1 L172.8 96.0 L175.7 97.6 L178.2 98.4 L180.4 96.2 L183.2 95.3 L185.1 93.9 L187.9 92.6 L190.4 94.7 L193.1 96.6 L195.8 98.2 L197.8 101.7 L200.8 102.0 L203.3 101.3 L205.8 101.4 L207.6 100.9 L210.1 101.6 L212.8 100.4 L215.5 102.2 L218.2 105.6 L220.8 108.2 L222.8 109.8 L223.8 113.2 L223.9 115.2 L224.2 118.6 L225.0 121.1 L225.3 122.9 L226.1 125.8 L227.1 127.4 L227.6 129.8 L228.3 132.6 L229.3 133.5 L230.3 135.8 L233.3 137.8 L235.1 140.4 L237.2 142.0 L238.3 144.7 L239.3 147.4 L240.4 150.2 L242.6 152.9 L245.1 152.9 L248.2 154.7 L250.8 155.4 L253.4 154.6 L255.0 156.5 L258.3 159.1 L259.3 161.8 L260.2 163.0 L261.7 165.5 L262.1 167.2 L262.8 170.1 L264.1 172.1 L264.5 174.7 L265.5 177.3 L266.2 179.6 L267.3 181.1 L268.1 183.9 L270.5 186.5 L272.5 188.2 L275.7 188.8 L278.3 189.1 L280.3 192.2 L281.6 194.0 L282.6 196.9 L282.6 198.4 L283.4 201.7 L284.5 203.7 L285.4 205.9 L288.4 209.2 L290.6 210.6 L292.8 212.8 L295.4 215.2 L297.2 217.0 L298.3 218.2 L298.5 220.8 L299.3 223.2 L301.0 226.0 L301.8 227.4 L301.9 229.3 L302.8 231.7 L303.9 234.4 L304.8 237.2 L305.6 239.1 L307.0 241.4 L308.2 242.7 L310.5 243.7 L312.6 244.8 L315.6 244.8 L318.3 246.7 L320.8 248.6 L323.0 250.1 L324.0 252.6 L326.0 253.2 L326.3 255.3 L327.9 257.4 L328.9 259.4 L330.3 261.2 L332.8 263.0 L335.2 265.0 L338.1 264.2 L340.1 263.1 L343.2 263.3 L345.9 261.7 L347.9 263.3 L350.5 264.6 L352.8 264.6 L355.9 266.4 L358.1 268.1 L360.6 270.9 L363.4 273.0 L365.3 275.4 L367.5 277.2 L370.9 279.0 L372.9 281.0 L375.2 282.0 L378.1 282.5 L380.9 284.2 L383.2 286.7 L385.2 289.0 L387.2 291.6 L388.0 293.2 L389.7 295.0 L390.5 295.5 L393.0 299.7 L395.7 301.0 L398.3 301.8 L400.6 303.4 L402.7 304.8 L405.0 306.4 L408.1 308.1 L410.9 311.1 L412.7 313.6 L413.9 316.5 L414.2 318.8 L415.7 321.8 L416.1 325.8 L417.5 328.8 L417.7 330.2 L419.5 333.0 L420.4 333.9 L422.9 336.6 L425.6 340.5 L427.7 342.0 L429.0 345.0 L429.4 348.4 L431.0 351.1 L430.7 354.1 L431.0 356.7 L431.9 359.3 L432.5 361.8 L432.2 365.2 L433.0 368.4 L435.1 369.4 L438.2 369.6 L440.1 370.4 L443.2 370.9 L445.5 372.5 L448.1 374.0 L448.9 376.0 L450.5 378.6 L452.2 380.6 L452.8 382.5 L454.4 385.7 L455.3 388.1 L457.2 389.3 L458.4 391.0 L460.6 392.0 L462.7 391.4 L466.0 391.3 L467.8 392.3 L470.7 393.0 L472.2 394.6 L472.5 395.2 L473.8 397.9 L475.0 400.1 L476.9 401.6 L478.3 403.9 L479.7 405.9 L480.6 408.3 L481.5 411.0 L482.5 412.6 L483.7 415.7 L484.7 416.4 L485.3 419.4 L486.6 420.7 L487.4 423.2 L488.0 425.4 L489.2 428.2 L490.9 430.1 L493.2 431.3 L495.2 431.8 L497.0 433.5 L496.7 434.0"/>
<path stroke-width="6.8" d="M99.3 55.1h0L102.6 55.1L106.0 55.1L109.3 55.1L112.7 55.1L116.1 55.1L119.4 55.1L122.8 55.1L126.1 55.1L129.5 55.1M129.5 80.0h0"/>
<path stroke-width="9.2" d="M130.8 79.5h0L133.1 80.3L135.9 80.6L137.6 79.6L140.8 79.8L143.1 78.2L145.3 76.5L147.6 77.1L150.1 76.0L152.9 74.8L155.4 75.4L157.8 73.6L160.6 73.9L163.0 72.8L165.9 72.5L166.0 74.8L167.2 77.2L168.1 79.7L168.9 82.0L168.6 85.2L169.0 87.1L169.7 90.2L170.8 92.1L172.8 96.0L175.7 97.6L178.2 98.4L180.4 96.2L183.2 95.3L185.1 93.9L187.9 92.6L190.4 94.7L193.1 96.6L195.8 98.2L197.8 101.7L200.8 102.0L203.3 101.3L205.8 101.4L207.6 100.9L210.1 101.6L212.8 100.4L215.5 102.2L218.2 105.6L220.8 108.2L222.8 109.8L223.8 113.2L223.9 115.2L224.2 118.6L225.0 121.1L225.3 122.9L226.1 125.8L227.1 127.4L227.6 129.8L228.3 132.6L229.3 133.5L230.3 135.8L233.3 137.8L235.1 140.4L237.2 142.0L238.3 144.7L239.3 147.4L240.4 150.2L242.6 152.9L245.1 152.9L248.2 154.7L250.8 155.4L253.4 154.6L255.0 156.5L258.3 159.1L259.3 161.8L260.2 163.0L261.7 165.5L262.1 167.2L262.8 170.1L264.1 172.1L264.5 174.7L265.5 177.3L266.2 179.6L267.3 181.1L268.1 183.9L270.5 186.5L272.5 188.2L275.7 188.8L278.3 189.1L280.3 192.2L281.6 194.0L282.6 196.9L282.6 198.4L283.4 201.7L284.5 203.7L285.4 205.9L288.4 209.2L290.6 210.6L292.8 212.8L295.4 215.2L297.2 217.0L298.3 218.2L298.5 220.8L299.3 223.2L301.0 226.0L301.8 227.4L301.9 229.3L302.8 231.7L303.9 234.4L304.8 237.2L305.6 239.1L307.0 241.4L308.2 242.7L310.5 243.7L312.6 244.8L315.6 244.8L318.3 246.7L320.8 248.6L323.0 250.1L324.0 252.6L326.0 253.2L326.3 255.3L327.9 257.4L328.9 259.4L330.3 261.2L332.8 263.0L335.2 265.0L338.1 264.2L340.1 263.1L343.2 263.3L345.9 261.7L347.9 263.3L350.5 264.6L352.8 264.6L355.9 266.4L358.1 268.1L360.6 270.9L363.4 273.0L365.3 275.4L367.5 277.2L370.9 279.0L372.9 281.0L375.2 282.0L378.1 282.5L380.9 284.2L383.2 286.7L385.2 289.0L387.2 291.6L388.0 293.2L389.7 295.0L390.5 295.5L393.0 299.7L395.7 301.0L398.3 301.8L400.6 303.4L402.7 304.8L405.0 306.4L408.1 308.1L410.9 311.1L412.7 313.6L413.9 316.5L414.2 318.8L415.7 321.8L416.1 325.8L417.5 328.8L417.7 330.2L419.5 333.0L420.4 333.9L422.9 336.6L425.6 340.5L427.7 342.0L429.0 345.0L429.4 348.4L431.0 351.1L430.7 354.1L431.0 356.7L431.9 359.3L432.5 361.8L432.2 365.2L433.0 368.4L435.1 369.4L438.2 369.6L440.1 370.4L443.2 370.9L445.5 372.5L448.1 374.0L448.9 376.0L450.5 378.6L452.2 380.6L452.8 382.5L454.4 385.7L455.3 388.1L457.2 389.3L458.4 391.0L460.6 392.0L462.7 391.4L466.0 391.3L467.8 392.3L470.7 393.0L472.2 394.6L472.5 395.2L473.8 397.9L475.0 400.1L476.9 401.6L478.3 403.9L479.7 405.9L480.6 408.3L481.5 411.0L482.5 412.6L483.7 415.7L484.7 416.4L485.3 419.4L486.6 420.7L487.4 423.2L488.0 425.4L489.2 428.2L490.9 430.1L493.2 431.3L495.2 431.8L497.0 433.5L496.7 434.0"/>
<path stroke-width="3" d="M95.9 55.1 L99.1 55.1 L102.3 55.1 L105.5 55.1 L108.7 55.1 L111.9 55.1 L115.1 55.1 L118.3 55.1 L121.5 55.1 L124.7 55.1 L127.9 55.1 L131.1 55.1 L134.3 55.1 L137.5 55.1 L137.5 79.0 L137.7 78.6 L140.4 78.7 L144.0 78.2 L146.5 75.8 L147.7 75.2 L151.5 76.6 L153.5 74.5 L156.6 73.7 L158.2 72.9 L161.8 73.6 L163.9 74.3 L166.1 74.5 L167.3 76.8 L168.4 77.1 L168.9 80.0 L168.7 82.8 L170.3 84.5 L169.9 87.2 L171.3 90.7 L171.3 93.2 L173.9 94.2 L175.9 96.6 L178.8 98.3 L180.7 99.0 L183.9 98.3 L185.9 98.4 L187.8 97.2 L190.7 97.3 L192.8 99.0 L196.4 98.9 L198.0 99.4 L201.5 99.4 L203.1 99.5 L205.8 99.0 L208.0 100.8 L211.2 102.2 L213.0 103.3 L216.0 105.5 L218.2 109.5 L221.0 113.2 L223.6 115.3 L226.1 118.5 L228.3 117.5 L231.7 120.7 L232.9 120.2 L235.6 122.9 L237.9 122.5 L241.0 123.6 L243.1 125.7 L245.5 125.6 L248.1 127.0 L250.7 127.9 L253.3 128.0 L255.2 130.8 L258.9 131.6 L260.2 132.6 L264.1 135.0 L265.5 137.9 L269.1 138.3 L271.0 141.9 L272.9 143.9 L276.2 147.7 L278.7 150.5 L280.8 152.0 L281.5 155.6 L284.1 157.3 L284.1 158.4 L285.5 158.8 L288.0 163.1 L291.5 165.9 L293.3 169.0 L295.6 170.8 L298.8 172.6 L300.8 174.9 L304.0 177.8 L305.4 180.6 L308.7 183.9 L311.0 185.9 L313.9 185.2 L316.1 186.0 L318.1 186.7 L320.3 187.8 L324.1 189.2 L325.4 188.7 L328.6 190.2 L330.3 190.0 L333.6 192.4 L335.3 194.3 L338.1 195.5 L341.0 196.9 L344.2 199.2 L345.9 201.8 L349.0 205.2 L351.4 206.1 L353.8 208.4 L356.7 211.0 L358.9 210.4 L361.1 212.1 L363.1 214.0 L365.6 214.8 L368.5 215.8 L370.1 219.2 L371.8 222.6 L372.7 223.3 L373.8 226.6 L375.4 229.1 L375.8 230.8 L377.2 234.6 L378.2 235.9 L381.0 238.7 L383.0 242.6 L385.8 245.6 L388.5 248.1 L390.4 249.8 L392.3 254.0 L393.2 254.2 L394.5 257.2 L396.0 259.4 L396.5 259.7 L398.0 262.4 L399.6 264.5 L401.7 266.6 L402.4 270.1 L403.7 271.2 L405.3 272.7 L405.3 276.4 L408.6 278.0 L410.3 281.2 L413.3 283.7 L415.7 287.4 L417.0 287.3 L419.1 288.6 L419.4 290.8 L421.8 291.4 L421.8 295.7 L422.8 297.2 L425.2 300.6 L426.5 301.8 L427.9 305.0 L429.0 307.9 L430.4 310.1 L430.6 311.4 L432.2 312.9 L433.0 316.7 L434.9 318.4 L435.5 319.1 L437.2 319.8 L438.1 323.6 L440.1 324.1 L441.2 326.7 L443.0 327.6 L442.8 329.9 L444.2 329.9 L445.4 332.2 L447.4 333.7 L448.5 334.5 L450.1 337.1 L450.7 339.5 L452.9 341.2 L454.3 340.6 L455.8 344.5 L458.1 348.0 L460.4 348.6 L461.0 352.9 L462.4 353.8 L462.0 356.1 L463.5 359.2 L463.8 360.0 L465.9 361.5 L466.2 363.8 L467.6 366.9 L469.2 368.5 L470.3 370.8 L470.3 372.7 L471.2 375.5 L473.4 377.4 L473.8 378.6 L474.4 382.0 L474.5 384.2 L475.9 385.7 L477.3 388.9 L477.1 389.6 L477.8 392.3 L479.5 396.5 L480.9 398.6 L480.4 400.7 L482.2 402.2 L483.4 404.9 L482.9 406.3 L483.8 409.8 L485.4 412.9 L485.2 413.2 L487.6 416.5 L487.3 420.7 L487.9 423.2 L490.0 424.8 L490.3 425.6 L491.2 429.4 L493.9 431.6 L495.4 433.2 L496.9 433.5 L496.7 434.0"/>
<path stroke-width="6.8" d="M99.1 55.1h0L102.3 55.1L105.5 55.1L108.7 55.1L111.9 55.1L115.1 55.1L118.3 55.1L121.5 55.1L124.7 55.1L127.9 55.1L131.1 55.1L134.3 55.1L137.5 55.1M137.5 79.0h0"/>
<path stroke-width="9.2" d="M137.7 78.6h0L140.4 78.7L144.0 78.2L146.5 75.8L147.7 75.2L151.5 76.6L153.5 74.5L156.6 73.7L158.2 72.9L161.8 73.6L163.9 74.3L166.1 74.5L167.3 76.8L168.4 77.1L168.9 80.0L168.7 82.8L170.3 84.5L169.9 87.2L171.3 90.7L171.3 93.2L173.9 94.2L175.9 96.6L178.8 98.3L180.7 99.0L183.9 98.3L185.9 98.4L187.8 97.2L190.7 97.3L192.8 99.0L196.4 98.9L198.0 99.4L201.5 99.4L203.1 99.5L205.8 99.0L208.0 100.8L211.2 102.2L213.0 103.3L216.0 105.5L218.2 109.5L221.0 113.2L223.6 115.3L226.1 118.5L228.3 117.5L231.7 120.7L232.9 120.2L235.6 122.9L237.9 122.5L241.0 123.6L243.1 125.7L245.5 125.6L248.1 127.0L250.7 127.9L253.3 128.0L255.2 130.8L258.9 131.6L260.2 132.6L264.1 135.0L265.5 137.9L269.1 138.3L271.0 141.9L272.9 143.9L276.2 147.7L278.7 150.5L280.8 152.0L281.5 155.6L284.1 157.3L284.1 158.4L285.5 158.8L288.0 163.1L291.5 165.9L293.3 169.0L295.6 170.8L298.8 172.6L300.8 174.9L304.0 177.8L305.4 180.6L308.7 183.9L311.0 185.9L313.9 185.2L316.1 186.0L318.1 186.7L320.3 187.8L324.1 189.2L325.4 188.7L328.6 190.2L330.3 190.0L333.6 192.4L335.3 194.3L338.1 195.5L341.0 196.9L344.2 199.2L345.9 201.8L349.0 205.2L351.4 206.1L353.8 208.4L356.7 211.0L358.9 210.4L361.1 212.1L363.1 214.0L365.6 214.8L368.5 215.8L370.1 219.2L371.8 222.6L372.7 223.3L373.8 226.6L375.4 229.1L375.8 230.8L377.2 234.6L378.2 235.9L381.0 238.7L383.0 242.6L385.8 245.6L388.5 248.1L390.4 249.8L392.3 254.0L393.2 254.2L394.5 257.2L396.0 259.4L396.5 259.7L398.0 262.4L399.6 264.5L401.7 266.6L402.4 270.1L403.7 271.2L405.3 272.7L405.3 276.4L408.6 278.0L410.3 281.2L413.3 283.7L415.7 287.4L417.0 287.3L419.1 288.6L419.4 290.8L421.8 291.4L421.8 295.7L422.8 297.2L425.2 300.6L426.5 301.8L427.9 305.0L429.0 307.9L430.4 310.1L430.6 311.4L432.2 312.9L433.0 316.7L434.9 318.4L435.5 319.1L437.2 319.8L438.1 323.6L440.1 324.1L441.2 326.7L443.0 327.6L442.8 329.9L444.2 329.9L445.4 332.2L447.4 333.7L448.5 334.5L450.1 337.1L450.7 339.5L452.9 341.2L454.3 340.6L455.8 344.5L458.1 348.0L460.4 348.6L461.0 352.9L462.4 353.8L462.0 356.1L463.5 359.2L463.8 360.0L465.9 361.5L466.2 363.8L467.6 366.9L469.2 368.5L470.3 370.8L470.3 372.7L471.2 375.5L473.4 377.4L473.8 378.6L474.4 382.0L474.5 384.2L475.9 385.7L477.3 388.9L477.1 389.6L477.8 392.3L479.5 396.5L480.9 398.6L480.4 400.7L482.2 402.2L483.4 404.9L482.9 406.3L483.8 409.8L485.4 412.9L485.2 413.2L487.6 416.5L487.3 420.7L487.9 423.2L490.0 424.8L490.3 425.6L491.2 429.4L493.9 431.6L495.4 433.2L496.9 433.5L496.7 434.0"/>
<path stroke-width="3" d="M95.9 55.1 L99.1 55.1 L102.3 55.1 L105.5 55.1 L108.7 55.1 L111.9 55.1 L115.1 55.1 L118.3 55.1 L121.5 55.1 L124.7 55.1 L127.9 55.1 L131.1 55.1 L134.3 55.1 L137.5 55.1 L137.5 79.0 L138.6 80.5 L141.2 77.6 L143.6 77.1 L146.0 77.3 L147.8 76.3 L150.7 76.0 L154.0 75.0 L156.2 74.0 L158.1 74.0 L161.1 72.9 L163.9 73.4 L165.8 72.6 L167.8 76.2 L169.2 76.5 L168.7 79.9 L169.4 82.8 L171.3 83.8 L173.4 86.2 L175.5 86.9 L178.9 89.4 L181.1 89.4 L183.1 90.9 L185.3 92.9 L188.6 94.6 L191.1 95.3 L193.5 94.8 L195.7 95.2 L199.2 95.7 L200.2 95.7 L203.0 96.5 L206.0 96.5 L209.2 97.6 L210.4 96.7 L213.8 99.9 L216.2 101.3 L217.8 102.9 L221.5 105.2 L222.8 106.2 L226.6 109.7 L228.0 111.8 L231.7 113.9 L233.7 115.3 L235.4 115.5 L239.0 115.8 L240.4 117.5 L243.8 115.3 L245.3 116.9 L249.2 117.6 L251.6 117.1 L253.6 118.4 L255.7 120.2 L258.4 121.8 L261.2 124.9 L264.1 126.5 L265.3 127.9 L268.6 129.8 L271.0 129.7 L273.8 132.6 L276.8 136.5 L277.9 137.9 L278.2 139.9 L281.3 142.2 L283.1 144.5 L286.3 145.9 L288.0 148.0 L291.2 148.4 L293.1 152.5 L295.6 154.2 L298.2 155.1 L299.7 158.7 L301.4 158.1 L302.6 161.1 L303.5 162.7 L306.0 164.1 L308.8 166.3 L310.7 169.5 L313.6 169.7 L316.3 170.8 L318.3 172.5 L320.3 173.9 L322.8 177.8 L326.6 179.1 L328.0 181.5 L330.7 182.8 L333.7 183.2 L336.4 182.9 L339.0 184.7 L341.4 187.1 L343.1 188.1 L345.8 190.0 L347.8 193.1 L348.5 194.2 L351.6 195.8 L353.3 199.6 L356.1 200.9 L358.1 201.5 L361.3 202.9 L364.2 205.7 L366.7 205.8 L368.5 208.2 L369.5 210.5 L371.0 215.2 L372.7 216.1 L373.2 219.9 L374.1 221.9 L376.6 222.0 L378.0 225.3 L378.3 226.5 L381.2 229.2 L382.8 231.7 L383.2 231.0 L385.2 234.2 L386.2 234.3 L386.6 238.2 L388.3 238.9 L390.5 240.2 L391.2 242.0 L392.3 245.5 L393.0 247.4 L395.5 249.7 L396.5 252.1 L397.6 253.1 L399.0 255.9 L400.0 257.5 L400.5 258.6 L402.0 261.7 L403.9 261.9 L405.5 262.9 L405.3 265.2 L407.8 269.3 L410.8 270.6 L412.8 272.6 L413.7 274.0 L414.7 277.1 L415.7 277.8 L417.2 278.8 L417.9 281.7 L420.2 283.3 L420.3 286.5 L421.7 288.7 L422.8 290.5 L424.2 291.6 L425.9 295.1 L427.1 296.1 L428.3 298.3 L429.4 301.0 L430.5 300.5 L433.6 303.8 L435.1 304.6 L436.3 307.0 L437.9 308.7 L438.4 310.7 L439.8 312.7 L441.3 315.0 L442.6 316.9 L443.4 319.7 L445.1 321.9 L445.9 322.5 L446.6 324.5 L448.0 326.4 L450.0 328.5 L451.6 329.8 L453.1 332.6 L455.4 336.8 L457.4 337.3 L459.0 340.0 L459.6 342.2 L461.2 344.1 L461.2 346.1 L463.4 348.3 L463.7 349.7 L464.8 353.9 L465.0 354.8 L466.0 356.7 L466.8 359.1 L468.8 362.7 L470.5 366.4 L471.6 368.8 L472.8 369.1 L472.9 374.3 L475.3 376.0 L476.2 378.1 L477.1 380.2 L478.6 383.3 L479.2 387.8 L481.1 390.8 L481.5 392.1 L482.3 394.8 L483.0 396.4 L484.4 397.7 L484.5 400.3 L486.0 403.4 L486.4 404.2 L487.4 408.3 L488.1 410.3 L488.4 411.1 L490.1 414.4 L489.8 416.6 L491.7 418.6 L491.9 420.9 L492.7 422.1 L494.1 425.6 L494.1 427.0 L494.7 430.8 L496.5 431.5 L496.9 433.7 L496.7 434.0"/>
<path stroke-width="6.8" d="M99.1 55.1h0L102.3 55.1L105.5 55.1L108.7 55.1L111.9 55.1L115.1 55.1L118.3 55.1L121.5 55.1L124.7 55.1L127.9 55.1L131.1 55.1L134.3 55.1L137.5 55.1M137.5 79.0h0"/>
<path stroke-width="9.2" d="M138.6 80.5h0L141.2 77.6L143.6 77.1L146.0 77.3L147.8 76.3L150.7 76.0L154.0 75.0L156.2 74.0L158.1 74.0L161.1 72.9L163.9 73.4L165.8 72.6L167.8 76.2L169.2 76.5L168.7 79.9L169.4 82.8L171.3 83.8L173.4 86.2L175.5 86.9L178.9 89.4L181.1 89.4L183.1 90.9L185.3 92.9L188.6 94.6L191.1 95.3L193.5 94.8L195.7 95.2L199.2 95.7L200.2 95.7L203.0 96.5L206.0 96.5L209.2 97.6L210.4 96.7L213.8 99.9L216.2 101.3L217.8 102.9L221.5 105.2L222.8 106.2L226.6 109.7L228.0 111.8L231.7 113.9L233.7 115.3L235.4 115.5L239.0 115.8L240.4 117.5L243.8 115.3L245.3 116.9L249.2 117.6L251.6 117.1L253.6 118.4L255.7 120.2L258.4 121.8L261.2 124.9L264.1 126.5L265.3 127.9L268.6 129.8L271.0 129.7L273.8 132.6L276.8 136.5L277.9 137.9L278.2 139.9L281.3 142.2L283.1 144.5L286.3 145.9L288.0 148.0L291.2 148.4L293.1 152.5L295.6 154.2L298.2 155.1L299.7 158.7L301.4 158.1L302.6 161.1L303.5 162.7L306.0 164.1L308.8 166.3L310.7 169.5L313.6 169.7L316.3 170.8L318.3 172.5L320.3 173.9L322.8 177.8L326.6 179.1L328.0 181.5L330.7 182.8L333.7 183.2L336.4 182.9L339.0 184.7L341.4 187.1L343.1 188.1L345.8 190.0L347.8 193.1L348.5 194.2L351.6 195.8L353.3 199.6L356.1 200.9L358.1 201.5L361.3 202.9L364.2 205.7L366.7 205.8L368.5 208.2L369.5 210.5L371.0 215.2L372.7 216.1L373.2 219.9L374.1 221.9L376.6 222.0L378.0 225.3L378.3 226.5L381.2 229.2L382.8 231.7L383.2 231.0L385.2 234.2L386.2 234.3L386.6 238.2L388.3 238.9L390.5 240.2L391.2 242.0L392.3 245.5L393.0 247.4L395.5 249.7L396.5 252.1L397.6 253.1L399.0 255.9L400.0 257.5L400.5 258.6L402.0 261.7L403.9 261.9L405.5 262.9L405.3 265.2L407.8 269.3L410.8 270.6L412.8 272.6L413.7 274.0L414.7 277.1L415.7 277.8L417.2 278.8L417.9 281.7L420.2 283.3L420.3 286.5L421.7 288.7L422.8 290.5L424.2 291.6L425.9 295.1L427.1 296.1L428.3 298.3L429.4 301.0L430.5 300.5L433.6 303.8L435.1 304.6L436.3 307.0L437.9 308.7L438.4 310.7L439.8 312.7L441.3 315.0L442.6 316.9L443.4 319.7L445.1 321.9L445.9 322.5L446.6 324.5L448.0 326.4L450.0 328.5L451.6 329.8L453.1 332.6L455.4 336.8L457.4 337.3L459.0 340.0L459.6 342.2L461.2 344.1L461.2 346.1L463.4 348.3L463.7 349.7L464.8 353.9L465.0 354.8L466.0 356.7L466.8 359.1L468.8 362.7L470.5 366.4L471.6 368.8L472.8 369.1L472.9 374.3L475.3 376.0L476.2 378.1L477.1 380.2L478.6 383.3L479.2 387.8L481.1 390.8L481.5 392.1L482.3 394.8L483.0 396.4L484.4 397.7L484.5 400.3L486.0 403.4L486.4 404.2L487.4 408.3L488.1 410.3L488.4 411.1L490.1 414.4L489.8 416.6L491.7 418.6L491.9 420.9L492.7 422.1L494.1 425.6L494.1 427.0L494.7 430.8L496.5 431.5L496.9 433.7L496.7 434.0"/>
<path stroke-width="3" d="M95.9 55.1 L99.3 55.1 L102.6 55.1 L106.0 55.1 L109.3 55.1 L112.7 55.1 L116.1 55.1 L119.4 55.1 L122.8 55.1 L126.1 55.1 L129.5 55.1 L129.5 80.0 L138.5 78.3 L141.7 78.6 L144.1 76.4 L146.5 76.7 L148.1 76.0 L150.3 75.9 L153.1 75.8 L155.5 75.2 L158.7 74.7 L161.7 73.2 L163.8 73.1 L166.6 74.0 L168.9 75.2 L169.4 77.9 L171.7 79.9 L173.2 81.3 L176.3 83.0 L179.0 83.3 L180.8 85.3 L183.7 85.5 L186.6 85.2 L187.7 87.6 L190.4 90.1 L192.9 92.0 L195.6 91.7 L198.9 94.8 L200.9 95.8 L203.6 97.3 L206.0 96.9 L208.4 97.1 L211.3 96.8 L213.8 99.5 L216.4 98.7 L218.3 98.1 L220.4 100.4 L224.1 102.9 L225.5 104.8 L229.0 105.9 L231.6 106.5 L233.2 108.1 L236.4 108.0 L238.2 109.0 L240.8 108.0 L243.1 108.9 L246.3 110.1 L248.8 112.3 L250.2 115.3 L253.2 115.6 L256.7 116.0 L257.8 117.2 L260.5 120.1 L263.5 119.4 L265.6 122.0 L268.0 123.1 L271.6 124.6 L273.1 125.7 L275.4 126.4 L278.7 126.9 L281.1 130.1 L282.6 132.5 L284.1 134.0 L284.3 134.6 L286.3 137.8 L287.8 139.4 L290.7 141.3 L294.1 142.7 L296.4 144.4 L298.2 145.7 L300.8 147.9 L302.3 150.1 L303.0 152.1 L304.2 152.5 L306.5 155.9 L307.0 157.4 L307.8 158.9 L310.5 158.6 L313.9 160.3 L316.4 161.2 L317.9 163.5 L320.4 165.6 L323.3 168.2 L326.0 170.4 L329.0 169.5 L331.7 172.3 L333.6 172.2 L335.5 173.2 L338.1 175.7 L339.9 178.0 L341.4 180.5 L342.8 181.2 L344.0 184.2 L345.0 185.2 L346.3 187.3 L348.8 190.4 L350.4 191.3 L353.9 191.6 L356.2 194.4 L358.8 195.9 L361.0 198.8 L363.9 200.2 L366.0 202.7 L368.6 204.8 L370.5 207.2 L374.1 210.1 L376.6 214.0 L376.9 215.1 L377.7 217.8 L380.0 217.6 L381.0 220.6 L382.5 222.6 L384.1 226.1 L384.1 229.0 L386.6 230.0 L387.6 233.6 L389.1 233.7 L390.3 236.4 L391.5 239.7 L393.4 242.9 L395.2 244.9 L396.7 245.7 L397.6 248.1 L398.3 249.8 L399.8 251.2 L400.6 255.1 L402.8 256.6 L403.8 258.1 L404.9 260.0 L405.2 261.0 L409.2 262.7 L410.9 264.6 L413.1 269.1 L414.0 270.6 L416.5 272.3 L416.9 274.2 L418.3 274.7 L420.5 276.7 L421.3 277.4 L421.5 279.8 L422.9 283.2 L424.4 285.4 L426.3 285.3 L427.6 287.4 L428.5 288.5 L430.3 292.1 L431.1 293.5 L432.0 294.0 L433.2 297.4 L434.8 298.0 L435.6 300.9 L436.5 302.1 L438.4 304.6 L440.4 306.7 L441.4 310.6 L442.0 311.7 L444.3 313.7 L444.6 316.2 L445.6 317.8 L447.0 318.0 L448.2 320.3 L450.3 322.3 L450.5 325.1 L452.6 326.3 L454.0 327.7 L454.9 332.2 L456.4 334.6 L456.6 336.9 L458.1 340.0 L459.6 342.2 L461.1 345.1 L462.9 346.7 L463.1 348.8 L464.1 352.6 L466.7 352.7 L467.0 356.5 L469.1 358.4 L470.5 358.6 L470.3 360.3 L472.3 362.1 L473.1 365.7 L475.0 367.4 L475.4 370.5 L476.6 372.8 L477.9 377.5 L480.3 378.5 L481.5 383.5 L482.5 385.0 L484.0 387.3 L484.0 392.5 L485.6 395.3 L487.2 395.3 L487.0 399.2 L487.9 401.6 L489.4 403.0 L489.7 405.6 L491.0 409.2 L491.3 411.8 L490.9 414.8 L492.7 416.2 L493.0 418.5 L493.9 420.9 L493.8 423.2 L494.3 424.2 L495.4 428.7 L496.3 429.3 L496.7 432.9 L496.7 434.0"/>
<path stroke-width="6.8" d="M99.3 55.1h0L102.6 55.1L106.0 55.1L109.3 55.1L112.7 55.1L116.1 55.1L119.4 55.1L122.8 55.1L126.1 55.1L129.5 55.1M129.5 80.0h0"/>
<path stroke-width="9.2" d="M138.5 78.3h0L141.7 78.6L144.1 76.4L146.5 76.7L148.1 76.0L150.3 75.9L153.1 75.8L155.5 75.2L158.7 74.7L161.7 73.2L163.8 73.1L166.6 74.0L168.9 75.2L169.4 77.9L171.7 79.9L173.2 81.3L176.3 83.0L179.0 83.3L180.8 85.3L183.7 85.5L186.6 85.2L187.7 87.6L190.4 90.1L192.9 92.0L195.6 91.7L198.9 94.8L200.9 95.8L203.6 97.3L206.0 96.9L208.4 97.1L211.3 96.8L213.8 99.5L216.4 98.7L218.3 98.1L220.4 100.4L224.1 102.9L225.5 104.8L229.0 105.9L231.6 106.5L233.2 108.1L236.4 108.0L238.2 109.0L240.8 108.0L243.1 108.9L246.3 110.1L248.8 112.3L250.2 115.3L253.2 115.6L256.7 116.0L257.8 117.2L260.5 120.1L263.5 119.4L265.6 122.0L268.0 123.1L271.6 124.6L273.1 125.7L275.4 126.4L278.7 126.9L281.1 130.1L282.6 132.5L284.1 134.0L284.3 134.6L286.3 137.8L287.8 139.4L290.7 141.3L294.1 142.7L296.4 144.4L298.2 145.7L300.8 147.9L302.3 150.1L303.0 152.1L304.2 152.5L306.5 155.9L307.0 157.4L307.8 158.9L310.5 158.6L313.9 160.3L316.4 161.2L317.9 163.5L320.4 165.6L323.3 168.2L326.0 170.4L329.0 169.5L331.7 172.3L333.6 172.2L335.5 173.2L338.1 175.7L339.9 178.0L341.4 180.5L342.8 181.2L344.0 184.2L345.0 185.2L346.3 187.3L348.8 190.4L350.4 191.3L353.9 191.6L356.2 194.4L358.8 195.9L361.0 198.8L363.9 200.2L366.0 202.7L368.6 204.8L370.5 207.2L374.1 210.1L376.6 214.0L376.9 215.1L377.7 217.8L380.0 217.6L381.0 220.6L382.5 222.6L384.1 226.1L384.1 229.0L386.6 230.0L387.6 233.6L389.1 233.7L390.3 236.4L391.5 239.7L393.4 242.9L395.2 244.9L396.7 245.7L397.6 248.1L398.3 249.8L399.8 251.2L400.6 255.1L402.8 256.6L403.8 258.1L404.9 260.0L405.2 261.0L409.2 262.7L410.9 264.6L413.1 269.1L414.0 270.6L416.5 272.3L416.9 274.2L418.3 274.7L420.5 276.7L421.3 277.4L421.5 279.8L422.9 283.2L424.4 285.4L426.3 285.3L427.6 287.4L428.5 288.5L430.3 292.1L431.1 293.5L432.0 294.0L433.2 297.4L434.8 298.0L435.6 300.9L436.5 302.1L438.4 304.6L440.4 306.7L441.4 310.6L442.0 311.7L444.3 313.7L444.6 316.2L445.6 317.8L447.0 318.0L448.2 320.3L450.3 322.3L450.5 325.1L452.6 326.3L454.0 327.7L454.9 332.2L456.4 334.6L456.6 336.9L458.1 340.0L459.6 342.2L461.1 345.1L462.9 346.7L463.1 348.8L464.1 352.6L466.7 352.7L467.0 356.5L469.1 358.4L470.5 358.6L470.3 360.3L472.3 362.1L473.1 365.7L475.0 367.4L475.4 370.5L476.6 372.8L477.9 377.5L480.3 378.5L481.5 383.5L482.5 385.0L484.0 387.3L484.0 392.5L485.6 395.3L487.2 395.3L487.0 399.2L487.9 401.6L489.4 403.0L489.7 405.6L491.0 409.2L491.3 411.8L490.9 414.8L492.7 416.2L493.0 418.5L493.9 420.9L493.8 423.2L494.3 424.2L495.4 428.7L496.3 429.3L496.7 432.9L496.7 434.0"/>
<path stroke-width="3" d="M95.9 55.1 L99.3 55.1 L102.6 55.1 L106.0 55.1 L109.3 55.1 L112.7 55.1 L116.1 55.1 L119.4 55.1 L122.8 55.1 L126.1 55.1 L129.5 55.1 L129.5 80.0 L130.5 79.6 L133.8 81.1 L135.3 81.4 L138.7 79.2 L140.7 80.2 L142.8 78.9 L146.0 76.4 L147.4 77.2 L150.4 75.4 L152.9 75.9 L156.1 75.8 L158.4 73.3 L160.3 72.5 L162.5 73.1 L165.0 73.2 L167.4 73.4 L170.4 72.5 L173.3 74.4 L174.8 77.5 L178.4 79.4 L180.2 79.6 L183.3 81.0 L186.2 84.0 L188.1 84.1 L190.2 86.6 L193.7 87.7 L195.6 89.2 L198.7 92.6 L201.0 94.0 L202.5 92.9 L204.8 93.9 L207.3 93.4 L210.0 95.8 L213.5 94.7 L216.2 95.0 L217.4 96.5 L221.0 97.0 L223.5 99.3 L226.0 99.7 L227.3 100.1 L230.8 102.0 L233.4 102.1 L235.2 103.0 L238.5 105.1 L240.0 106.1 L242.3 106.3 L245.1 108.0 L248.3 108.6 L250.0 107.6 L253.2 109.8 L254.7 110.6 L258.6 109.9 L260.5 111.2 L263.7 112.0 L265.5 113.4 L268.0 113.6 L270.6 117.0 L272.7 119.5 L275.1 121.8 L278.4 125.6 L280.4 127.7 L282.4 128.7 L285.9 131.0 L287.8 130.8 L291.2 133.1 L293.2 133.6 L294.9 135.7 L297.9 138.1 L300.8 139.7 L303.1 141.8 L304.9 144.9 L308.1 146.3 L310.0 147.4 L313.3 151.4 L315.8 152.5 L318.0 155.9 L320.7 158.4 L322.4 160.1 L324.7 161.7 L328.1 162.4 L330.4 166.1 L333.6 166.7 L335.5 170.8 L337.4 173.6 L339.9 173.7 L340.0 174.7 L342.6 178.3 L345.8 182.3 L348.1 184.9 L350.4 186.3 L352.2 186.9 L354.8 187.5 L358.5 189.0 L360.2 191.9 L363.0 192.8 L364.9 196.9 L366.6 196.9 L368.0 199.1 L370.0 199.9 L370.0 201.5 L371.8 205.4 L373.4 204.7 L375.6 208.3 L378.7 211.9 L379.4 212.3 L380.4 214.6 L381.6 217.5 L382.4 220.0 L385.0 222.7 L385.5 226.4 L387.2 229.1 L387.8 231.8 L388.8 234.4 L389.7 236.1 L391.2 238.0 L393.4 238.7 L396.1 241.3 L398.7 246.1 L400.7 248.5 L403.7 250.1 L406.1 251.6 L408.4 256.0 L409.7 256.2 L409.8 258.8 L411.9 260.8 L412.5 262.0 L415.0 262.7 L416.0 266.1 L417.0 266.2 L417.9 267.9 L418.7 268.4 L420.2 270.3 L422.4 272.7 L423.6 275.1 L424.9 277.9 L425.8 278.8 L426.4 281.2 L427.7 284.0 L428.5 285.6 L430.2 287.2 L431.8 290.8 L433.8 291.4 L435.0 295.0 L435.5 296.1 L436.3 298.9 L438.0 301.1 L439.9 302.9 L440.8 304.9 L441.2 306.7 L442.3 308.1 L445.0 310.6 L444.9 312.8 L446.1 315.2 L447.6 316.2 L449.5 320.0 L449.7 321.5 L451.9 322.9 L452.9 323.7 L454.0 327.2 L455.2 330.5 L456.5 332.3 L458.5 334.4 L459.2 335.9 L461.0 337.1 L461.3 339.1 L463.0 342.5 L465.0 346.1 L465.4 347.3 L466.1 350.2 L468.0 351.0 L469.8 352.9 L470.0 356.3 L472.5 357.6 L472.6 361.5 L474.0 364.0 L474.7 364.4 L476.5 368.3 L477.4 370.2 L479.9 373.6 L481.0 373.8 L481.7 377.0 L482.4 379.7 L484.6 383.4 L484.9 385.4 L486.1 389.8 L488.4 391.5 L489.2 395.1 L488.5 395.6 L489.0 398.9 L490.1 400.9 L490.9 403.3 L490.7 406.0 L492.2 406.7 L492.0 409.3 L492.9 412.4 L493.5 415.3 L494.2 417.4 L494.1 420.8 L495.0 421.4 L494.4 425.3 L494.8 427.6 L496.8 429.7 L497.4 432.4 L496.7 434.0"/>
<path stroke-width="6.8" d="M99.3 55.1h0L102.6 55.1L106.0 55.1L109.3 55.1L112.7 55.1L116.1 55.1L119.4 55.1L122.8 55.1L126.1 55.1L129.5 55.1M129.5 80.0h0"/>
<path stroke-width="9.2" d="M130.5 79.6h0L133.8 81.1L135.3 81.4L138.7 79.2L140.7 80.2L142.8 78.9L146.0 76.4L147.4 77.2L150.4 75.4L152.9 75.9L156.1 75.8L158.4 73.3L160.3 72.5L162.5 73.1L165.0 73.2L167.4 73.4L170.4 72.5L173.3 74.4L174.8 77.5L178.4 79.4L180.2 79.6L183.3 81.0L186.2 84.0L188.1 84.1L190.2 86.6L193.7 87.7L195.6 89.2L198.7 92.6L201.0 94.0L202.5 92.9L204.8 93.9L207.3 93.4L210.0 95.8L213.5 94.7L216.2 95.0L217.4 96.5L221.0 97.0L223.5 99.3L226.0 99.7L227.3 100.1L230.8 102.0L233.4 102.1L235.2 103.0L238.5 105.1L240.0 106.1L242.3 106.3L245.1 108.0L248.3 108.6L250.0 107.6L253.2 109.8L254.7 110.6L258.6 109.9L260.5 111.2L263.7 112.0L265.5 113.4L268.0 113.6L270.6 117.0L272.7 119.5L275.1 121.8L278.4 125.6L280.4 127.7L282.4 128.7L285.9 131.0L287.8 130.8L291.2 133.1L293.2 133.6L294.9 135.7L297.9 138.1L300.8 139.7L303.1 141.8L304.9 144.9L308.1 146.3L310.0 147.4L313.3 151.4L315.8 152.5L318.0 155.9L320.7 158.4L322.4 160.1L324.7 161.7L328.1 162.4L330.4 166.1L333.6 166.7L335.5 170.8L337.4 173.6L339.9 173.7L340.0 174.7L342.6 178.3L345.8 182.3L348.1 184.9L350.4 186.3L352.2 186.9L354.8 187.5L358.5 189.0L360.2 191.9L363.0 192.8L364.9 196.9L366.6 196.9L368.0 199.1L370.0 199.9L370.0 201.5L371.8 205.4L373.4 204.7L375.6 208.3L378.7 211.9L379.4 212.3L380.4 214.6L381.6 217.5L382.4 220.0L385.0 222.7L385.5 226.4L387.2 229.1L387.8 231.8L388.8 234.4L389.7 236.1L391.2 238.0L393.4 238.7L396.1 241.3L398.7 246.1L400.7 248.5L403.7 250.1L406.1 251.6L408.4 256.0L409.7 256.2L409.8 258.8L411.9 260.8L412.5 262.0L415.0 262.7L416.0 266.1L417.0 266.2L417.9 267.9L418.7 268.4L420.2 270.3L422.4 272.7L423.6 275.1L424.9 277.9L425.8 278.8L426.4 281.2L427.7 284.0L428.5 285.6L430.2 287.2L431.8 290.8L433.8 291.4L435.0 295.0L435.5 296.1L436.3 298.9L438.0 301.1L439.9 302.9L440.8 304.9L441.2 306.7L442.3 308.1L445.0 310.6L444.9 312.8L446.1 315.2L447.6 316.2L449.5 320.0L449.7 321.5L451.9 322.9L452.9 323.7L454.0 327.2L455.2 330.5L456.5 332.3L458.5 334.4L459.2 335.9L461.0 337.1L461.3 339.1L463.0 342.5L465.0 346.1L465.4 347.3L466.1 350.2L468.0 351.0L469.8 352.9L470.0 356.3L472.5 357.6L472.6 361.5L474.0 364.0L474.7 364.4L476.5 368.3L477.4 370.2L479.9 373.6L481.0 373.8L481.7 377.0L482.4 379.7L484.6 383.4L484.9 385.4L486.1 389.8L488.4 391.5L489.2 395.1L488.5 395.6L489.0 398.9L490.1 400.9L490.9 403.3L490.7 406.0L492.2 406.7L492.0 409.3L492.9 412.4L493.5 415.3L494.2 417.4L494.1 420.8L495.0 421.4L494.4 425.3L494.8 427.6L496.8 429.7L497.4 432.4L496.7 434.0"/>
</g>
<g fill="none" stroke="#2ca02c" stroke-linejoin="round" stroke-linecap="round">
<path stroke-width="3" d="M95.9 55.1 L99.0 55.1 L102.1 55.1 L105.3 55.1 L108.4 55.1 L111.5 55.1 L111.5 88.0 L113.0 92.0 L115.5 97.0 L118.4 100.6 L121.0 96.0 L123.6 94.0 L125.3 90.3 L128.2 89.3 L131.1 88.4 L133.0 88.9 L135.1 89.0 L137.8 88.1 L140.6 86.6 L142.8 85.3 L145.0 86.5 L147.7 85.3 L149.9 84.2 L152.8 83.3 L155.2 81.5 L157.7 81.2 L159.9 81.9 L162.7 80.4 L166.1 80.7 L168.6 80.4 L169.9 78.3 L172.3 78.8 L175.8 77.4 L177.9 78.4 L180.8 77.7 L183.5 78.4 L185.7 78.5 L187.4 80.8 L190.9 80.8 L192.3 80.2 L195.0 81.9 L197.7 83.7 L199.8 84.7 L203.2 85.0 L206.0 86.7 L208.3 86.5 L210.4 88.2 L212.8 86.9 L216.0 89.2 L217.7 87.4 L221.1 89.0 L222.3 88.3 L224.9 90.1 L227.5 90.9 L230.9 89.4 L233.3 90.7 L235.9 92.2 L237.7 90.4 L241.2 91.2 L243.7 91.6 L245.9 91.8 L248.2 90.9 L249.8 91.9 L252.9 92.1 L256.2 92.2 L258.4 93.3 L260.8 96.5 L262.6 96.9 L266.2 97.9 L268.1 97.3 L269.8 98.0 L272.9 98.4 L275.2 99.1 L278.3 101.3 L280.1 101.0 L283.0 102.3 L286.2 102.8 L287.7 104.7 L289.9 104.4 L292.7 105.7 L295.6 106.4 L297.5 107.5 L300.7 108.7 L303.4 112.0 L304.9 113.0 L307.8 115.1 L309.8 117.3 L312.5 120.0 L315.4 119.6 L317.7 121.4 L320.3 121.6 L322.3 122.9 L326.3 126.9 L327.4 129.3 L331.2 131.8 L331.1 133.1 L332.9 133.8 L335.6 136.3 L338.7 140.8 L340.7 144.1 L343.2 145.2 L343.9 146.7 L344.8 150.0 L347.3 150.5 L347.5 153.1 L349.8 155.5 L350.0 156.7 L353.5 159.0 L355.2 159.9 L358.5 162.3 L360.3 164.8 L362.8 167.1 L365.1 166.6 L368.1 170.7 L369.7 172.4 L371.1 174.6 L371.7 175.2 L372.5 176.4 L374.4 177.8 L375.8 179.9 L376.7 184.2 L377.4 183.9 L379.2 186.7 L380.8 188.6 L381.9 193.0 L382.6 193.9 L382.7 196.6 L383.9 198.1 L384.4 200.1 L385.8 203.2 L387.4 204.4 L387.7 208.0 L389.3 210.5 L390.0 212.6 L391.5 216.3 L393.7 220.1 L394.8 222.7 L396.2 224.2 L397.2 224.9 L398.3 228.5 L398.9 230.6 L401.2 232.6 L402.0 234.1 L402.8 237.6 L403.5 237.9 L405.8 240.6 L406.1 243.1 L407.8 244.7 L409.1 246.2 L410.6 247.5 L412.4 249.9 L416.1 253.5 L417.4 256.7 L420.1 257.3 L421.8 259.7 L423.0 262.5 L423.8 264.9 L424.9 267.2 L426.9 268.6 L427.9 271.1 L429.2 275.8 L430.6 278.0 L432.2 279.1 L433.8 283.3 L433.6 286.2 L435.3 287.1 L437.5 290.7 L438.4 292.2 L439.7 294.6 L440.1 298.0 L441.0 301.4 L442.6 303.4 L444.6 306.7 L446.1 310.1 L446.9 312.0 L447.8 314.8 L447.5 316.5 L448.6 318.6 L449.9 320.8 L449.9 321.7 L452.1 326.0 L453.3 326.5 L454.4 329.0 L455.6 333.2 L456.1 335.7 L458.3 336.2 L458.8 338.8 L461.0 341.2 L461.1 341.7 L462.4 345.6 L463.8 347.0 L465.2 349.3 L466.6 350.2 L468.6 353.5 L469.5 356.7 L471.2 357.0 L471.5 360.0 L473.0 364.4 L474.7 365.0 L475.0 369.8 L477.0 371.7 L478.0 374.0 L479.8 377.5 L481.1 381.1 L481.1 383.2 L482.6 387.5 L484.4 388.0 L485.0 391.5 L486.1 394.3 L486.6 396.0 L486.6 398.8 L487.7 399.6 L488.6 404.5 L488.5 404.8 L490.1 407.6 L490.1 410.7 L490.8 413.5 L491.8 417.2 L493.1 417.5 L493.1 422.0 L494.2 424.4 L494.5 426.4 L494.7 427.9 L496.0 431.8 L497.4 432.6 L496.7 434.0"/>
<path stroke-width="6.8" d="M99.0 55.1h0L102.1 55.1L105.3 55.1L108.4 55.1L111.5 55.1M111.5 88.0h0L113.0 92.0L115.5 97.0L118.4 100.6L121.0 96.0"/>
<path stroke-width="9.2" d="M123.6 94.0h0L125.3 90.3L128.2 89.3L131.1 88.4L133.0 88.9L135.1 89.0L137.8 88.1L140.6 86.6L142.8 85.3L145.0 86.5L147.7 85.3L149.9 84.2L152.8 83.3L155.2 81.5L157.7 81.2L159.9 81.9L162.7 80.4L166.1 80.7L168.6 80.4L169.9 78.3L172.3 78.8L175.8 77.4L177.9 78.4L180.8 77.7L183.5 78.4L185.7 78.5L187.4 80.8L190.9 80.8L192.3 80.2L195.0 81.9L197.7 83.7L199.8 84.7L203.2 85.0L206.0 86.7L208.3 86.5L210.4 88.2L212.8 86.9L216.0 89.2L217.7 87.4L221.1 89.0L222.3 88.3L224.9 90.1L227.5 90.9L230.9 89.4L233.3 90.7L235.9 92.2L237.7 90.4L241.2 91.2L243.7 91.6L245.9 91.8L248.2 90.9L249.8 91.9L252.9 92.1L256.2 92.2L258.4 93.3L260.8 96.5L262.6 96.9L266.2 97.9L268.1 97.3L269.8 98.0L272.9 98.4L275.2 99.1L278.3 101.3L280.1 101.0L283.0 102.3L286.2 102.8L287.7 104.7L289.9 104.4L292.7 105.7L295.6 106.4L297.5 107.5L300.7 108.7L303.4 112.0L304.9 113.0L307.8 115.1L309.8 117.3L312.5 120.0L315.4 119.6L317.7 121.4L320.3 121.6L322.3 122.9L326.3 126.9L327.4 129.3L331.2 131.8L331.1 133.1L332.9 133.8L335.6 136.3L338.7 140.8L340.7 144.1L343.2 145.2L343.9 146.7L344.8 150.0L347.3 150.5L347.5 153.1L349.8 155.5L350.0 156.7L353.5 159.0L355.2 159.9L358.5 162.3L360.3 164.8L362.8 167.1L365.1 166.6L368.1 170.7L369.7 172.4L371.1 174.6L371.7 175.2L372.5 176.4L374.4 177.8L375.8 179.9L376.7 184.2L377.4 183.9L379.2 186.7L380.8 188.6L381.9 193.0L382.6 193.9L382.7 196.6L383.9 198.1L384.4 200.1L385.8 203.2L387.4 204.4L387.7 208.0L389.3 210.5L390.0 212.6L391.5 216.3L393.7 220.1L394.8 222.7L396.2 224.2L397.2 224.9L398.3 228.5L398.9 230.6L401.2 232.6L402.0 234.1L402.8 237.6L403.5 237.9L405.8 240.6L406.1 243.1L407.8 244.7L409.1 246.2L410.6 247.5L412.4 249.9L416.1 253.5L417.4 256.7L420.1 257.3L421.8 259.7L423.0 262.5L423.8 264.9L424.9 267.2L426.9 268.6L427.9 271.1L429.2 275.8L430.6 278.0L432.2 279.1L433.8 283.3L433.6 286.2L435.3 287.1L437.5 290.7L438.4 292.2L439.7 294.6L440.1 298.0L441.0 301.4L442.6 303.4L444.6 306.7L446.1 310.1L446.9 312.0L447.8 314.8L447.5 316.5L448.6 318.6L449.9 320.8L449.9 321.7L452.1 326.0L453.3 326.5L454.4 329.0L455.6 333.2L456.1 335.7L458.3 336.2L458.8 338.8L461.0 341.2L461.1 341.7L462.4 345.6L463.8 347.0L465.2 349.3L466.6 350.2L468.6 353.5L469.5 356.7L471.2 357.0L471.5 360.0L473.0 364.4L474.7 365.0L475.0 369.8L477.0 371.7L478.0 374.0L479.8 377.5L481.1 381.1L481.1 383.2L482.6 387.5L484.4 388.0L485.0 391.5L486.1 394.3L486.6 396.0L486.6 398.8L487.7 399.6L488.6 404.5L488.5 404.8L490.1 407.6L490.1 410.7L490.8 413.5L491.8 417.2L493.1 417.5L493.1 422.0L494.2 424.4L494.5 426.4L494.7 427.9L496.0 431.8L497.4 432.6L496.7 434.0"/>
<path stroke-width="3" d="M95.9 55.1 L95.9 54.8 L98.0 54.4 L100.7 54.2 L102.6 56.1 L105.8 55.0 L108.5 54.6 L110.4 54.0 L113.1 54.6 L116.3 55.2 L119.1 54.7 L121.6 55.3 L122.7 54.3 L126.0 56.4 L128.2 55.8 L130.8 56.1 L132.7 55.1 L136.5 54.5 L138.0 53.9 L140.4 54.5 L143.7 54.4 L145.7 54.3 L148.6 56.0 L151.1 54.3 L153.8 56.3 L156.1 54.0 L158.9 56.0 L160.7 54.1 L162.9 55.1 L166.5 55.4 L169.1 54.3 L170.6 56.1 L173.6 56.0 L176.2 56.6 L177.7 57.6 L180.2 58.9 L183.1 59.3 L186.1 59.4 L188.3 59.4 L191.6 61.5 L194.2 61.2 L196.1 64.1 L198.1 63.7 L200.4 65.3 L203.8 66.6 L206.4 69.0 L208.5 71.1 L211.0 73.0 L213.6 73.7 L216.3 74.9 L218.7 77.5 L221.3 77.4 L223.8 80.1 L225.8 79.2 L228.4 81.9 L230.3 80.7 L233.4 83.7 L236.3 84.6 L239.2 86.1 L241.3 87.8 L242.7 89.9 L245.2 92.6 L248.5 93.4 L251.6 94.8 L252.9 94.4 L256.3 96.0 L257.9 93.2 L261.3 93.3 L264.2 93.5 L266.1 93.0 L268.9 93.6 L270.6 95.7 L272.8 96.9 L275.2 98.5 L278.2 101.0 L280.2 101.9 L283.3 104.3 L286.6 104.6 L288.0 104.3 L290.5 105.0 L293.0 104.6 L296.3 105.8 L298.1 107.0 L300.5 106.5 L302.9 108.3 L306.5 108.3 L308.8 111.6 L310.6 112.4 L313.4 115.9 L315.4 117.2 L318.6 118.2 L321.0 120.6 L322.9 122.0 L325.7 122.7 L329.0 122.0 L331.5 125.0 L333.1 123.6 L335.3 127.5 L337.6 129.1 L340.4 130.9 L341.5 131.0 L343.7 132.4 L344.4 136.5 L346.2 138.3 L347.9 138.0 L348.0 141.9 L349.9 141.6 L350.9 143.8 L353.3 146.2 L355.2 150.7 L358.1 152.3 L360.3 152.9 L362.8 154.3 L365.4 156.6 L366.6 158.4 L368.4 158.3 L369.4 161.1 L371.6 162.5 L371.7 166.1 L374.0 167.5 L374.3 168.3 L375.5 170.2 L376.4 173.7 L378.3 176.1 L379.4 177.4 L381.2 181.8 L381.8 183.7 L382.9 187.0 L384.0 188.4 L384.1 189.5 L384.9 193.2 L385.7 193.7 L387.0 196.0 L389.2 198.4 L389.8 203.5 L390.5 205.2 L392.0 206.7 L392.9 208.8 L395.2 212.4 L396.5 212.4 L397.5 214.7 L398.6 216.9 L399.4 219.6 L400.1 220.7 L402.7 221.7 L403.5 224.7 L404.2 225.7 L406.3 226.9 L407.5 229.0 L408.4 231.7 L409.9 233.1 L411.1 235.9 L411.7 238.4 L413.0 241.5 L414.6 243.4 L415.9 245.1 L416.7 246.5 L419.1 249.8 L419.7 252.1 L421.4 253.7 L421.6 257.8 L423.3 260.0 L425.2 263.3 L426.5 263.7 L427.0 268.1 L428.9 268.7 L429.1 271.2 L430.3 273.7 L432.6 276.3 L433.3 277.4 L434.5 282.0 L436.2 282.8 L437.1 286.2 L438.8 286.9 L439.9 290.2 L440.9 292.7 L441.5 295.1 L442.4 296.4 L442.9 300.0 L443.5 301.3 L445.4 303.8 L445.6 306.0 L447.3 308.1 L447.8 312.5 L447.9 313.8 L449.7 316.8 L449.9 317.8 L450.8 321.1 L452.1 323.0 L452.4 326.1 L453.9 327.5 L454.5 330.8 L456.6 332.5 L457.9 336.4 L458.2 338.8 L459.4 339.5 L461.3 342.5 L462.2 344.8 L464.0 347.5 L463.9 349.0 L465.8 350.7 L467.7 352.6 L468.4 355.9 L469.6 357.1 L470.9 360.1 L472.4 362.2 L473.2 362.6 L474.9 366.5 L476.3 369.6 L476.6 370.9 L477.7 375.3 L479.0 376.3 L481.3 380.4 L481.5 383.6 L483.7 386.0 L484.0 389.4 L485.8 392.0 L487.3 395.1 L487.7 395.8 L487.5 399.3 L487.6 403.0 L488.7 403.7 L489.4 406.3 L490.8 409.7 L490.9 411.9 L490.8 414.3 L492.7 418.4 L493.3 419.7 L492.9 422.0 L494.1 425.1 L494.6 427.7 L495.4 429.7 L496.4 431.6 L497.4 432.5 L496.7 432.0"/>
<path stroke-width="9.2" d="M95.9 54.8h0L98.0 54.4L100.7 54.2L102.6 56.1L105.8 55.0L108.5 54.6L110.4 54.0L113.1 54.6L116.3 55.2L119.1 54.7L121.6 55.3L122.7 54.3L126.0 56.4L128.2 55.8L130.8 56.1L132.7 55.1L136.5 54.5L138.0 53.9L140.4 54.5L143.7 54.4L145.7 54.3L148.6 56.0L151.1 54.3L153.8 56.3L156.1 54.0L158.9 56.0L160.7 54.1L162.9 55.1L166.5 55.4L169.1 54.3L170.6 56.1L173.6 56.0L176.2 56.6L177.7 57.6L180.2 58.9L183.1 59.3L186.1 59.4L188.3 59.4L191.6 61.5L194.2 61.2L196.1 64.1L198.1 63.7L200.4 65.3L203.8 66.6L206.4 69.0L208.5 71.1L211.0 73.0L213.6 73.7L216.3 74.9L218.7 77.5L221.3 77.4L223.8 80.1L225.8 79.2L228.4 81.9L230.3 80.7L233.4 83.7L236.3 84.6L239.2 86.1L241.3 87.8L242.7 89.9L245.2 92.6L248.5 93.4L251.6 94.8L252.9 94.4L256.3 96.0L257.9 93.2L261.3 93.3L264.2 93.5L266.1 93.0L268.9 93.6L270.6 95.7L272.8 96.9L275.2 98.5L278.2 101.0L280.2 101.9L283.3 104.3L286.6 104.6L288.0 104.3L290.5 105.0L293.0 104.6L296.3 105.8L298.1 107.0L300.5 106.5L302.9 108.3L306.5 108.3L308.8 111.6L310.6 112.4L313.4 115.9L315.4 117.2L318.6 118.2L321.0 120.6L322.9 122.0L325.7 122.7L329.0 122.0L331.5 125.0L333.1 123.6L335.3 127.5L337.6 129.1L340.4 130.9L341.5 131.0L343.7 132.4L344.4 136.5L346.2 138.3L347.9 138.0L348.0 141.9L349.9 141.6L350.9 143.8L353.3 146.2L355.2 150.7L358.1 152.3L360.3 152.9L362.8 154.3L365.4 156.6L366.6 158.4L368.4 158.3L369.4 161.1L371.6 162.5L371.7 166.1L374.0 167.5L374.3 168.3L375.5 170.2L376.4 173.7L378.3 176.1L379.4 177.4L381.2 181.8L381.8 183.7L382.9 187.0L384.0 188.4L384.1 189.5L384.9 193.2L385.7 193.7L387.0 196.0L389.2 198.4L389.8 203.5L390.5 205.2L392.0 206.7L392.9 208.8L395.2 212.4L396.5 212.4L397.5 214.7L398.6 216.9L399.4 219.6L400.1 220.7L402.7 221.7L403.5 224.7L404.2 225.7L406.3 226.9L407.5 229.0L408.4 231.7L409.9 233.1L411.1 235.9L411.7 238.4L413.0 241.5L414.6 243.4L415.9 245.1L416.7 246.5L419.1 249.8L419.7 252.1L421.4 253.7L421.6 257.8L423.3 260.0L425.2 263.3L426.5 263.7L427.0 268.1L428.9 268.7L429.1 271.2L430.3 273.7L432.6 276.3L433.3 277.4L434.5 282.0L436.2 282.8L437.1 286.2L438.8 286.9L439.9 290.2L440.9 292.7L441.5 295.1L442.4 296.4L442.9 300.0L443.5 301.3L445.4 303.8L445.6 306.0L447.3 308.1L447.8 312.5L447.9 313.8L449.7 316.8L449.9 317.8L450.8 321.1L452.1 323.0L452.4 326.1L453.9 327.5L454.5 330.8L456.6 332.5L457.9 336.4L458.2 338.8L459.4 339.5L461.3 342.5L462.2 344.8L464.0 347.5L463.9 349.0L465.8 350.7L467.7 352.6L468.4 355.9L469.6 357.1L470.9 360.1L472.4 362.2L473.2 362.6L474.9 366.5L476.3 369.6L476.6 370.9L477.7 375.3L479.0 376.3L481.3 380.4L481.5 383.6L483.7 386.0L484.0 389.4L485.8 392.0L487.3 395.1L487.7 395.8L487.5 399.3L487.6 403.0L488.7 403.7L489.4 406.3L490.8 409.7L490.9 411.9L490.8 414.3L492.7 418.4L493.3 419.7L492.9 422.0L494.1 425.1L494.6 427.7L495.4 429.7L496.4 431.6L497.4 432.5L496.7 432.0"/>
<path stroke-width="3" d="M95.9 55.1 L95.8 56.2 L98.3 56.1 L100.2 54.9 L103.6 53.9 L106.5 54.0 L108.6 54.3 L111.6 55.3 L113.9 55.1 L116.2 55.6 L118.1 54.3 L121.4 54.2 L124.1 54.3 L125.3 54.0 L128.8 56.3 L130.8 55.5 L133.0 56.2 L136.2 54.2 L137.7 55.6 L140.2 56.0 L143.1 54.4 L146.0 54.6 L148.5 54.2 L151.5 54.6 L153.9 54.2 L156.4 56.2 L158.2 53.7 L160.7 55.3 L163.0 55.1 L165.3 54.9 L168.8 54.8 L171.2 54.2 L173.9 55.0 L176.6 58.1 L179.1 57.9 L180.6 58.4 L183.8 59.8 L186.6 59.5 L188.4 62.1 L191.1 61.9 L192.8 61.7 L195.5 64.8 L198.9 64.4 L201.6 65.5 L203.6 69.2 L205.7 70.5 L208.6 69.4 L210.6 71.4 L213.0 73.2 L215.4 74.5 L218.1 74.2 L221.0 76.0 L223.5 79.7 L226.0 80.6 L227.7 82.2 L230.3 83.8 L232.8 84.8 L235.7 85.6 L238.7 86.7 L240.4 90.5 L243.1 92.0 L246.5 92.4 L247.9 92.4 L251.5 92.8 L253.4 93.5 L255.3 93.2 L257.9 93.7 L260.9 94.1 L262.9 95.2 L265.4 95.4 L268.0 97.7 L270.9 97.6 L272.6 97.6 L275.9 97.1 L278.5 97.2 L280.5 98.2 L282.9 98.3 L285.2 100.2 L288.4 101.4 L291.5 102.0 L293.5 103.4 L296.0 105.8 L298.7 105.2 L300.5 108.0 L304.2 107.9 L306.1 110.6 L308.9 110.0 L311.4 110.0 L314.1 107.9 L316.6 108.1 L318.3 106.8 L320.5 109.1 L323.7 109.4 L325.7 111.5 L327.9 114.0 L330.6 117.8 L334.2 118.8 L335.9 119.3 L338.8 121.5 L341.3 122.2 L342.9 124.5 L346.4 127.9 L347.8 130.4 L350.7 131.1 L354.1 134.3 L356.3 134.6 L358.9 138.6 L361.5 140.6 L362.7 142.2 L363.5 142.8 L365.2 145.4 L366.5 145.8 L367.9 148.6 L369.1 149.7 L370.4 153.4 L370.5 155.6 L371.7 155.6 L373.3 157.3 L375.9 161.9 L378.7 164.2 L379.5 166.3 L381.4 168.0 L382.8 171.1 L383.3 172.0 L384.5 176.0 L384.8 177.4 L386.4 180.0 L386.0 181.3 L386.8 182.5 L388.9 185.4 L389.4 187.5 L389.8 189.0 L390.7 192.7 L392.3 194.2 L392.8 197.0 L395.0 199.9 L396.2 203.2 L396.6 205.0 L397.7 207.4 L399.2 208.1 L401.6 210.5 L401.7 214.3 L403.6 216.7 L404.5 218.2 L406.6 220.7 L407.9 222.3 L408.9 224.6 L409.7 226.4 L410.4 231.0 L412.1 232.6 L413.0 233.3 L414.0 235.5 L416.5 237.0 L417.0 239.7 L419.0 240.6 L419.0 242.1 L420.8 244.6 L421.9 246.7 L423.6 248.9 L424.3 251.7 L425.7 253.4 L425.7 256.7 L426.0 258.5 L427.9 259.9 L428.3 262.6 L429.8 264.6 L430.5 264.9 L430.6 267.3 L432.9 272.2 L432.8 274.4 L434.8 275.7 L435.7 280.2 L437.4 281.6 L438.8 284.2 L439.7 287.3 L441.6 290.6 L442.2 292.8 L442.4 295.7 L443.7 297.1 L443.9 298.1 L445.2 302.2 L446.4 303.4 L446.2 306.3 L448.2 308.0 L448.8 310.6 L448.9 312.9 L449.8 316.3 L451.6 320.4 L451.2 321.0 L453.3 322.9 L453.1 325.7 L454.0 328.0 L455.7 331.1 L457.9 333.3 L457.9 337.4 L459.6 339.6 L461.1 341.9 L461.9 342.6 L463.8 345.9 L464.7 348.8 L466.3 350.3 L466.9 354.5 L468.4 355.4 L469.9 357.7 L471.3 359.6 L472.7 363.3 L473.2 366.6 L474.3 367.1 L475.2 370.2 L477.5 372.9 L478.3 375.6 L479.0 376.9 L481.1 381.1 L482.4 383.1 L483.8 385.0 L485.3 388.7 L485.7 390.7 L487.0 393.1 L486.7 397.0 L487.8 398.7 L488.7 402.2 L488.5 403.3 L489.0 406.1 L490.3 409.9 L491.2 411.7 L491.2 414.0 L491.5 417.0 L492.9 419.3 L492.4 421.2 L493.8 423.0 L494.6 426.4 L495.0 428.6 L495.5 431.1 L495.3 433.0 L497.0 434.6 L496.7 430.0"/>
<path stroke-width="9.2" d="M95.8 56.2h0L98.3 56.1L100.2 54.9L103.6 53.9L106.5 54.0L108.6 54.3L111.6 55.3L113.9 55.1L116.2 55.6L118.1 54.3L121.4 54.2L124.1 54.3L125.3 54.0L128.8 56.3L130.8 55.5L133.0 56.2L136.2 54.2L137.7 55.6L140.2 56.0L143.1 54.4L146.0 54.6L148.5 54.2L151.5 54.6L153.9 54.2L156.4 56.2L158.2 53.7L160.7 55.3L163.0 55.1L165.3 54.9L168.8 54.8L171.2 54.2L173.9 55.0L176.6 58.1L179.1 57.9L180.6 58.4L183.8 59.8L186.6 59.5L188.4 62.1L191.1 61.9L192.8 61.7L195.5 64.8L198.9 64.4L201.6 65.5L203.6 69.2L205.7 70.5L208.6 69.4L210.6 71.4L213.0 73.2L215.4 74.5L218.1 74.2L221.0 76.0L223.5 79.7L226.0 80.6L227.7 82.2L230.3 83.8L232.8 84.8L235.7 85.6L238.7 86.7L240.4 90.5L243.1 92.0L246.5 92.4L247.9 92.4L251.5 92.8L253.4 93.5L255.3 93.2L257.9 93.7L260.9 94.1L262.9 95.2L265.4 95.4L268.0 97.7L270.9 97.6L272.6 97.6L275.9 97.1L278.5 97.2L280.5 98.2L282.9 98.3L285.2 100.2L288.4 101.4L291.5 102.0L293.5 103.4L296.0 105.8L298.7 105.2L300.5 108.0L304.2 107.9L306.1 110.6L308.9 110.0L311.4 110.0L314.1 107.9L316.6 108.1L318.3 106.8L320.5 109.1L323.7 109.4L325.7 111.5L327.9 114.0L330.6 117.8L334.2 118.8L335.9 119.3L338.8 121.5L341.3 122.2L342.9 124.5L346.4 127.9L347.8 130.4L350.7 131.1L354.1 134.3L356.3 134.6L358.9 138.6L361.5 140.6L362.7 142.2L363.5 142.8L365.2 145.4L366.5 145.8L367.9 148.6L369.1 149.7L370.4 153.4L370.5 155.6L371.7 155.6L373.3 157.3L375.9 161.9L378.7 164.2L379.5 166.3L381.4 168.0L382.8 171.1L383.3 172.0L384.5 176.0L384.8 177.4L386.4 180.0L386.0 181.3L386.8 182.5L388.9 185.4L389.4 187.5L389.8 189.0L390.7 192.7L392.3 194.2L392.8 197.0L395.0 199.9L396.2 203.2L396.6 205.0L397.7 207.4L399.2 208.1L401.6 210.5L401.7 214.3L403.6 216.7L404.5 218.2L406.6 220.7L407.9 222.3L408.9 224.6L409.7 226.4L410.4 231.0L412.1 232.6L413.0 233.3L414.0 235.5L416.5 237.0L417.0 239.7L419.0 240.6L419.0 242.1L420.8 244.6L421.9 246.7L423.6 248.9L424.3 251.7L425.7 253.4L425.7 256.7L426.0 258.5L427.9 259.9L428.3 262.6L429.8 264.6L430.5 264.9L430.6 267.3L432.9 272.2L432.8 274.4L434.8 275.7L435.7 280.2L437.4 281.6L438.8 284.2L439.7 287.3L441.6 290.6L442.2 292.8L442.4 295.7L443.7 297.1L443.9 298.1L445.2 302.2L446.4 303.4L446.2 306.3L448.2 308.0L448.8 310.6L448.9 312.9L449.8 316.3L451.6 320.4L451.2 321.0L453.3 322.9L453.1 325.7L454.0 328.0L455.7 331.1L457.9 333.3L457.9 337.4L459.6 339.6L461.1 341.9L461.9 342.6L463.8 345.9L464.7 348.8L466.3 350.3L466.9 354.5L468.4 355.4L469.9 357.7L471.3 359.6L472.7 363.3L473.2 366.6L474.3 367.1L475.2 370.2L477.5 372.9L478.3 375.6L479.0 376.9L481.1 381.1L482.4 383.1L483.8 385.0L485.3 388.7L485.7 390.7L487.0 393.1L486.7 397.0L487.8 398.7L488.7 402.2L488.5 403.3L489.0 406.1L490.3 409.9L491.2 411.7L491.2 414.0L491.5 417.0L492.9 419.3L492.4 421.2L493.8 423.0L494.6 426.4L495.0 428.6L495.5 431.1L495.3 433.0L497.0 434.6L496.7 430.0"/>
<path stroke-width="3" d="M95.9 55.1 L98.8 55.1 L101.8 55.1 L104.7 55.1 L107.7 55.1 L110.6 55.1 L110.6 86.0 L112.0 83.0 L115.0 79.5 L119.2 76.5 L123.0 73.0 L127.5 70.0 L130.8 68.9 L134.2 67.8 L137.5 66.8 L140.8 65.7 L143.8 65.2 L146.8 64.7 L149.8 64.3 L152.8 63.8 L155.8 63.3 L159.1 62.9 L162.4 62.5 L165.7 62.0 L169.0 61.6 L172.4 61.3 L175.8 61.0 L179.2 60.6 L182.6 60.3 L186.0 60.0 L190.3 62.6 L193.0 63.5 L194.2 64.7 L196.9 64.2 L199.3 65.1 L202.6 66.2 L204.3 66.4 L206.9 65.2 L210.2 65.9 L212.2 66.8 L214.6 67.6 L217.0 68.2 L220.5 67.8 L221.8 69.1 L224.3 69.1 L227.4 68.9 L230.2 71.6 L232.6 71.8 L235.0 73.4 L237.1 75.1 L240.8 75.6 L243.2 74.8 L245.8 74.0 L247.5 73.8 L249.9 74.8 L252.8 74.0 L254.8 73.4 L257.3 73.9 L259.5 75.6 L262.5 75.4 L264.5 76.7 L267.0 75.9 L270.1 77.3 L273.2 77.5 L275.7 77.8 L277.8 77.2 L279.3 75.9 L281.7 78.6 L285.3 79.4 L287.1 80.5 L289.5 83.4 L293.3 84.6 L294.3 86.2 L297.3 89.6 L300.5 89.6 L301.9 89.1 L304.5 90.9 L307.5 91.2 L310.6 90.4 L312.5 90.4 L314.4 88.9 L317.6 90.9 L319.5 91.5 L321.8 95.0 L325.3 96.8 L328.2 97.1 L330.4 98.1 L333.0 100.1 L334.4 98.3 L337.1 100.0 L339.8 98.7 L343.0 101.8 L344.9 101.8 L348.1 105.5 L349.3 107.9 L351.4 111.0 L352.5 112.0 L353.3 112.6 L355.6 114.6 L355.6 116.7 L356.9 117.3 L359.9 121.0 L362.7 123.5 L364.9 124.6 L367.9 127.2 L370.0 130.7 L372.8 134.2 L374.6 137.0 L376.5 138.3 L376.9 141.1 L378.9 140.9 L379.6 145.2 L380.8 146.1 L382.9 149.6 L384.0 151.9 L384.3 152.7 L387.0 157.0 L386.8 157.5 L388.3 162.1 L389.6 163.8 L391.9 165.8 L393.2 166.9 L393.2 168.3 L395.4 170.5 L397.0 173.7 L397.0 175.6 L398.2 176.4 L399.4 178.7 L401.9 180.6 L401.7 181.9 L405.1 184.1 L407.5 186.2 L408.9 188.2 L409.3 187.8 L411.3 190.1 L412.3 191.1 L414.1 193.0 L415.5 196.8 L416.2 196.9 L417.7 198.9 L418.2 201.1 L419.9 204.8 L419.8 206.1 L421.2 210.9 L422.2 211.8 L422.3 215.1 L423.7 216.9 L424.3 221.2 L425.4 220.9 L425.6 223.4 L427.8 226.9 L428.8 228.6 L429.9 231.1 L431.5 234.0 L432.9 235.7 L434.4 238.0 L435.3 238.1 L436.5 242.8 L437.4 245.6 L438.3 248.5 L439.9 250.7 L440.4 251.7 L441.4 253.8 L441.9 256.1 L444.5 259.5 L445.7 262.6 L446.8 265.9 L447.9 266.8 L448.4 269.9 L449.3 272.1 L451.4 276.5 L451.4 278.8 L452.9 281.7 L453.5 283.1 L452.9 286.2 L453.7 288.0 L454.3 290.1 L455.7 291.5 L455.9 295.2 L456.7 298.4 L457.4 300.8 L458.6 303.1 L458.5 303.2 L459.7 307.0 L460.1 307.4 L462.0 311.4 L462.0 312.1 L464.0 315.1 L465.4 317.7 L465.9 318.9 L466.8 322.6 L468.3 324.1 L470.7 327.8 L471.4 330.6 L472.7 333.5 L473.4 334.8 L474.3 337.7 L475.6 340.0 L476.1 343.0 L478.2 345.5 L478.4 348.7 L479.5 349.9 L480.5 352.9 L482.0 355.1 L482.9 356.4 L484.0 359.3 L484.7 360.8 L485.5 363.5 L486.4 367.6 L486.9 368.8 L486.7 371.1 L488.8 373.3 L489.0 376.8 L489.6 378.1 L489.4 380.2 L491.4 383.7 L491.5 387.0 L491.4 388.5 L491.7 393.3 L492.4 396.0 L493.3 397.8 L493.4 400.3 L494.1 401.6 L495.0 403.4 L495.2 407.6 L495.8 409.1 L497.1 411.2 L496.7 413.9 L496.7 416.5 L496.7 419.2 L496.7 421.9 L496.7 424.6 L496.7 427.3 L496.7 430.0"/>
<path stroke-width="6.8" d="M98.8 55.1h0L101.8 55.1L104.7 55.1L107.7 55.1L110.6 55.1M110.6 86.0h0L112.0 83.0L115.0 79.5L119.2 76.5L123.0 73.0L127.5 70.0L130.8 68.9L134.2 67.8L137.5 66.8L140.8 65.7L143.8 65.2L146.8 64.7L149.8 64.3L152.8 63.8L155.8 63.3L159.1 62.9L162.4 62.5L165.7 62.0L169.0 61.6L172.4 61.3L175.8 61.0L179.2 60.6L182.6 60.3L186.0 60.0"/>
<path stroke-width="9.2" d="M190.3 62.6h0L193.0 63.5L194.2 64.7L196.9 64.2L199.3 65.1L202.6 66.2L204.3 66.4L206.9 65.2L210.2 65.9L212.2 66.8L214.6 67.6L217.0 68.2L220.5 67.8L221.8 69.1L224.3 69.1L227.4 68.9L230.2 71.6L232.6 71.8L235.0 73.4L237.1 75.1L240.8 75.6L243.2 74.8L245.8 74.0L247.5 73.8L249.9 74.8L252.8 74.0L254.8 73.4L257.3 73.9L259.5 75.6L262.5 75.4L264.5 76.7L267.0 75.9L270.1 77.3L273.2 77.5L275.7 77.8L277.8 77.2L279.3 75.9L281.7 78.6L285.3 79.4L287.1 80.5L289.5 83.4L293.3 84.6L294.3 86.2L297.3 89.6L300.5 89.6L301.9 89.1L304.5 90.9L307.5 91.2L310.6 90.4L312.5 90.4L314.4 88.9L317.6 90.9L319.5 91.5L321.8 95.0L325.3 96.8L328.2 97.1L330.4 98.1L333.0 100.1L334.4 98.3L337.1 100.0L339.8 98.7L343.0 101.8L344.9 101.8L348.1 105.5L349.3 107.9L351.4 111.0L352.5 112.0L353.3 112.6L355.6 114.6L355.6 116.7L356.9 117.3L359.9 121.0L362.7 123.5L364.9 124.6L367.9 127.2L370.0 130.7L372.8 134.2L374.6 137.0L376.5 138.3L376.9 141.1L378.9 140.9L379.6 145.2L380.8 146.1L382.9 149.6L384.0 151.9L384.3 152.7L387.0 157.0L386.8 157.5L388.3 162.1L389.6 163.8L391.9 165.8L393.2 166.9L393.2 168.3L395.4 170.5L397.0 173.7L397.0 175.6L398.2 176.4L399.4 178.7L401.9 180.6L401.7 181.9L405.1 184.1L407.5 186.2L408.9 188.2L409.3 187.8L411.3 190.1L412.3 191.1L414.1 193.0L415.5 196.8L416.2 196.9L417.7 198.9L418.2 201.1L419.9 204.8L419.8 206.1L421.2 210.9L422.2 211.8L422.3 215.1L423.7 216.9L424.3 221.2L425.4 220.9L425.6 223.4L427.8 226.9L428.8 228.6L429.9 231.1L431.5 234.0L432.9 235.7L434.4 238.0L435.3 238.1L436.5 242.8L437.4 245.6L438.3 248.5L439.9 250.7L440.4 251.7L441.4 253.8L441.9 256.1L444.5 259.5L445.7 262.6L446.8 265.9L447.9 266.8L448.4 269.9L449.3 272.1L451.4 276.5L451.4 278.8L452.9 281.7L453.5 283.1L452.9 286.2L453.7 288.0L454.3 290.1L455.7 291.5L455.9 295.2L456.7 298.4L457.4 300.8L458.6 303.1L458.5 303.2L459.7 307.0L460.1 307.4L462.0 311.4L462.0 312.1L464.0 315.1L465.4 317.7L465.9 318.9L466.8 322.6L468.3 324.1L470.7 327.8L471.4 330.6L472.7 333.5L473.4 334.8L474.3 337.7L475.6 340.0L476.1 343.0L478.2 345.5L478.4 348.7L479.5 349.9L480.5 352.9L482.0 355.1L482.9 356.4L484.0 359.3L484.7 360.8L485.5 363.5L486.4 367.6L486.9 368.8L486.7 371.1L488.8 373.3L489.0 376.8L489.6 378.1L489.4 380.2L491.4 383.7L491.5 387.0L491.4 388.5L491.7 393.3L492.4 396.0L493.3 397.8L493.4 400.3L494.1 401.6L495.0 403.4L495.2 407.6L495.8 409.1L497.1 411.2L496.7 413.9L496.7 416.5L496.7 419.2L496.7 421.9L496.7 424.6L496.7 427.3L496.7 430.0"/>
<path stroke-width="3" d="M95.9 55.1 L95.8 54.1 L98.3 55.6 L100.3 54.1 L103.4 54.3 L105.5 54.9 L107.8 54.0 L110.7 55.0 L114.1 55.2 L115.2 54.4 L118.8 55.3 L121.5 56.3 L124.0 54.1 L126.6 55.2 L128.0 54.2 L131.5 54.4 L132.7 54.5 L136.6 55.0 L138.8 54.0 L140.8 54.6 L142.9 55.5 L145.7 54.1 L149.2 55.1 L150.4 53.8 L153.6 55.1 L155.2 54.9 L158.8 55.1 L160.5 55.0 L163.6 55.4 L165.3 55.9 L169.1 55.8 L171.5 54.9 L174.0 54.4 L175.5 55.4 L179.0 53.9 L180.5 53.7 L183.3 53.9 L185.4 55.5 L188.5 56.1 L190.7 55.6 L192.6 56.6 L195.5 55.6 L198.4 57.0 L200.9 57.2 L203.6 55.1 L206.4 55.1 L209.2 55.8 L210.5 57.2 L213.1 55.9 L215.7 56.8 L217.7 56.4 L220.4 58.1 L222.6 58.0 L225.5 58.0 L228.5 59.1 L230.3 58.3 L232.8 60.7 L235.4 59.6 L238.4 61.8 L241.5 61.7 L243.0 63.3 L246.0 64.8 L248.3 66.6 L251.2 67.0 L254.1 65.7 L256.6 66.0 L257.7 67.0 L260.3 64.4 L263.1 64.8 L266.6 66.2 L268.3 65.5 L271.4 67.0 L273.6 67.1 L275.3 67.4 L278.6 69.0 L281.4 70.7 L284.1 69.8 L285.2 72.3 L288.5 70.9 L291.2 71.4 L293.0 71.8 L295.9 73.1 L297.7 74.1 L301.1 74.6 L303.7 77.0 L305.1 77.9 L308.7 80.1 L311.1 80.1 L314.1 82.8 L315.5 82.8 L319.1 83.1 L320.8 85.9 L324.0 84.7 L326.3 85.9 L328.7 87.9 L330.3 87.5 L333.0 88.7 L335.2 89.4 L338.3 91.1 L340.2 92.7 L344.1 94.2 L345.7 96.0 L348.3 96.2 L350.9 97.6 L353.7 99.9 L355.7 104.0 L358.8 105.8 L361.1 107.3 L363.7 110.8 L364.2 112.0 L365.6 112.4 L367.7 114.9 L368.9 117.3 L369.8 117.1 L370.1 119.6 L372.5 120.5 L372.7 121.3 L374.1 124.8 L375.1 125.3 L376.8 128.3 L379.2 128.4 L379.0 132.7 L381.6 132.7 L381.9 135.7 L383.1 137.6 L384.6 139.3 L385.2 141.1 L386.6 143.2 L388.6 147.0 L389.3 149.3 L391.3 150.1 L392.1 151.7 L394.1 154.7 L393.9 155.5 L396.2 157.9 L397.5 159.2 L398.9 162.3 L399.0 163.3 L400.4 165.1 L403.9 167.2 L405.5 166.4 L408.7 169.0 L410.3 169.8 L413.5 171.7 L416.1 174.5 L416.8 176.9 L418.5 179.6 L418.3 182.1 L419.2 183.6 L420.5 187.2 L421.1 190.3 L421.1 191.3 L422.4 193.7 L422.2 196.1 L423.8 200.2 L425.0 203.0 L426.4 203.9 L426.9 207.0 L427.7 208.8 L429.0 209.3 L430.9 211.5 L432.8 215.3 L433.3 215.5 L434.1 218.5 L435.9 220.3 L437.5 223.3 L438.8 224.8 L439.0 228.3 L440.9 230.6 L442.4 233.2 L443.1 236.6 L445.0 239.5 L445.7 240.9 L447.8 244.4 L448.6 244.4 L449.6 247.9 L450.6 248.5 L452.2 253.4 L451.3 254.8 L452.6 257.0 L452.2 260.7 L453.8 262.5 L453.2 264.7 L453.6 268.6 L453.9 269.2 L455.5 271.2 L454.9 273.4 L455.4 277.0 L457.3 278.6 L457.1 282.7 L458.3 284.2 L458.6 286.5 L460.8 288.7 L460.5 292.9 L462.3 295.6 L462.5 298.0 L463.6 298.5 L464.6 302.2 L466.3 303.3 L466.7 308.1 L467.8 310.4 L469.4 311.6 L470.5 314.8 L472.9 316.7 L474.0 320.0 L474.1 323.9 L475.7 325.4 L477.0 329.8 L479.0 332.0 L478.9 335.3 L481.1 338.5 L482.4 339.4 L483.1 343.1 L483.0 344.4 L484.0 346.8 L484.9 348.7 L485.5 353.2 L486.6 355.0 L488.2 357.8 L488.0 360.8 L489.5 363.6 L490.0 365.7 L490.8 367.0 L491.1 370.0 L491.9 371.7 L492.0 374.5 L492.9 376.9 L493.4 380.5 L494.0 381.0 L494.6 385.3 L494.7 387.7 L494.2 391.0 L495.5 392.6 L495.6 396.2 L496.7 398.6 L496.3 399.5 L496.7 402.2 L496.7 404.8 L496.7 407.5 L496.7 410.1 L496.7 412.8 L496.7 415.4 L496.7 418.1 L496.7 420.7 L496.7 423.4 L496.7 426.0 L496.7 428.7 L496.7 431.3 L496.7 434.0"/>
<path stroke-width="9.2" d="M95.8 54.1h0L98.3 55.6L100.3 54.1L103.4 54.3L105.5 54.9L107.8 54.0L110.7 55.0L114.1 55.2L115.2 54.4L118.8 55.3L121.5 56.3L124.0 54.1L126.6 55.2L128.0 54.2L131.5 54.4L132.7 54.5L136.6 55.0L138.8 54.0L140.8 54.6L142.9 55.5L145.7 54.1L149.2 55.1L150.4 53.8L153.6 55.1L155.2 54.9L158.8 55.1L160.5 55.0L163.6 55.4L165.3 55.9L169.1 55.8L171.5 54.9L174.0 54.4L175.5 55.4L179.0 53.9L180.5 53.7L183.3 53.9L185.4 55.5L188.5 56.1L190.7 55.6L192.6 56.6L195.5 55.6L198.4 57.0L200.9 57.2L203.6 55.1L206.4 55.1L209.2 55.8L210.5 57.2L213.1 55.9L215.7 56.8L217.7 56.4L220.4 58.1L222.6 58.0L225.5 58.0L228.5 59.1L230.3 58.3L232.8 60.7L235.4 59.6L238.4 61.8L241.5 61.7L243.0 63.3L246.0 64.8L248.3 66.6L251.2 67.0L254.1 65.7L256.6 66.0L257.7 67.0L260.3 64.4L263.1 64.8L266.6 66.2L268.3 65.5L271.4 67.0L273.6 67.1L275.3 67.4L278.6 69.0L281.4 70.7L284.1 69.8L285.2 72.3L288.5 70.9L291.2 71.4L293.0 71.8L295.9 73.1L297.7 74.1L301.1 74.6L303.7 77.0L305.1 77.9L308.7 80.1L311.1 80.1L314.1 82.8L315.5 82.8L319.1 83.1L320.8 85.9L324.0 84.7L326.3 85.9L328.7 87.9L330.3 87.5L333.0 88.7L335.2 89.4L338.3 91.1L340.2 92.7L344.1 94.2L345.7 96.0L348.3 96.2L350.9 97.6L353.7 99.9L355.7 104.0L358.8 105.8L361.1 107.3L363.7 110.8L364.2 112.0L365.6 112.4L367.7 114.9L368.9 117.3L369.8 117.1L370.1 119.6L372.5 120.5L372.7 121.3L374.1 124.8L375.1 125.3L376.8 128.3L379.2 128.4L379.0 132.7L381.6 132.7L381.9 135.7L383.1 137.6L384.6 139.3L385.2 141.1L386.6 143.2L388.6 147.0L389.3 149.3L391.3 150.1L392.1 151.7L394.1 154.7L393.9 155.5L396.2 157.9L397.5 159.2L398.9 162.3L399.0 163.3L400.4 165.1L403.9 167.2L405.5 166.4L408.7 169.0L410.3 169.8L413.5 171.7L416.1 174.5L416.8 176.9L418.5 179.6L418.3 182.1L419.2 183.6L420.5 187.2L421.1 190.3L421.1 191.3L422.4 193.7L422.2 196.1L423.8 200.2L425.0 203.0L426.4 203.9L426.9 207.0L427.7 208.8L429.0 209.3L430.9 211.5L432.8 215.3L433.3 215.5L434.1 218.5L435.9 220.3L437.5 223.3L438.8 224.8L439.0 228.3L440.9 230.6L442.4 233.2L443.1 236.6L445.0 239.5L445.7 240.9L447.8 244.4L448.6 244.4L449.6 247.9L450.6 248.5L452.2 253.4L451.3 254.8L452.6 257.0L452.2 260.7L453.8 262.5L453.2 264.7L453.6 268.6L453.9 269.2L455.5 271.2L454.9 273.4L455.4 277.0L457.3 278.6L457.1 282.7L458.3 284.2L458.6 286.5L460.8 288.7L460.5 292.9L462.3 295.6L462.5 298.0L463.6 298.5L464.6 302.2L466.3 303.3L466.7 308.1L467.8 310.4L469.4 311.6L470.5 314.8L472.9 316.7L474.0 320.0L474.1 323.9L475.7 325.4L477.0 329.8L479.0 332.0L478.9 335.3L481.1 338.5L482.4 339.4L483.1 343.1L483.0 344.4L484.0 346.8L484.9 348.7L485.5 353.2L486.6 355.0L488.2 357.8L488.0 360.8L489.5 363.6L490.0 365.7L490.8 367.0L491.1 370.0L491.9 371.7L492.0 374.5L492.9 376.9L493.4 380.5L494.0 381.0L494.6 385.3L494.7 387.7L494.2 391.0L495.5 392.6L495.6 396.2L496.7 398.6L496.3 399.5L496.7 402.2L496.7 404.8L496.7 407.5L496.7 410.1L496.7 412.8L496.7 415.4L496.7 418.1L496.7 420.7L496.7 423.4L496.7 426.0L496.7 428.7L496.7 431.3L496.7 434.0"/>
</g>
<g fill="none" stroke="#d62728" stroke-linejoin="round" stroke-linecap="round">
<path stroke-width="3" d="M95.9 55.1 L100.0 55.1 L105.0 55.1 L110.0 55.1 L115.0 55.1 L120.0 55.1 L125.0 55.1 L129.5 55.1 L130.0 70.7 L129.5 86.5 L129.9 86.9 L131.9 83.2 L135.2 83.0 L137.6 80.1 L140.7 78.0 L143.1 77.6 L144.4 76.0 L147.2 77.1 L149.5 75.8 L152.7 74.5 L155.1 72.9 L156.8 72.6 L160.3 72.5 L162.2 72.5 L164.9 71.3 L168.0 71.9 L169.6 71.0 L172.5 71.2 L175.4 69.3 L178.2 68.6 L179.9 70.0 L182.0 69.0 L184.3 69.2 L187.9 69.5 L190.6 69.9 L192.8 71.6 L195.1 72.3 L198.0 74.8 L200.0 75.6 L201.8 77.0 L205.2 79.1 L208.0 78.6 L209.8 80.7 L211.8 81.0 L214.5 80.6 L216.8 82.6 L219.4 81.3 L222.3 83.1 L224.3 82.4 L227.6 84.0 L230.5 84.5 L232.2 83.9 L234.8 85.8 L238.2 84.7 L239.5 85.9 L242.1 87.7 L245.1 88.4 L246.7 90.1 L249.8 91.5 L253.2 92.7 L255.0 93.0 L257.8 91.8 L260.6 93.8 L263.1 94.2 L264.8 93.9 L266.9 96.5 L268.1 96.8 L269.5 98.8 L271.0 100.4 L271.7 102.4 L273.1 104.7 L274.3 107.8 L277.7 108.3 L279.6 111.1 L282.3 112.5 L285.5 115.7 L287.4 115.1 L289.4 114.7 L292.3 115.6 L295.5 115.8 L296.8 118.2 L300.0 116.5 L302.6 116.5 L305.0 119.5 L308.1 119.6 L309.6 119.7 L312.0 121.9 L315.1 123.0 L317.2 122.5 L320.5 125.3 L321.8 127.0 L323.0 129.0 L323.3 130.5 L324.8 131.3 L325.5 134.0 L327.1 137.1 L329.5 138.5 L330.7 141.9 L333.2 142.5 L334.6 144.6 L337.0 147.2 L340.2 151.8 L343.0 153.5 L345.2 157.1 L346.9 159.3 L350.6 162.1 L352.9 163.6 L354.5 166.8 L357.2 169.2 L360.7 170.6 L362.3 174.6 L365.4 175.0 L365.7 177.1 L368.1 180.9 L368.2 183.6 L370.7 185.8 L371.0 187.8 L371.9 188.8 L375.7 192.7 L377.5 196.0 L379.9 198.5 L383.0 199.5 L383.4 202.3 L384.6 205.7 L385.9 208.0 L386.9 212.1 L388.5 213.5 L390.1 217.2 L391.1 219.7 L392.5 221.1 L393.8 221.4 L394.9 223.4 L396.7 227.8 L398.2 228.6 L400.4 230.4 L401.0 232.1 L402.6 234.7 L403.1 236.1 L404.6 237.4 L406.7 240.1 L407.6 242.8 L409.4 244.4 L410.2 246.9 L411.3 250.1 L412.4 252.3 L413.7 255.8 L415.3 258.1 L416.9 258.8 L417.6 263.0 L419.3 263.2 L419.4 266.3 L420.6 268.2 L421.8 271.7 L424.2 274.7 L424.5 276.6 L426.5 277.6 L428.1 282.1 L428.3 284.4 L429.8 285.5 L432.0 288.6 L432.0 289.8 L433.8 291.4 L434.5 293.3 L437.8 295.1 L440.1 299.0 L440.5 300.3 L442.7 302.5 L443.1 305.6 L445.4 307.5 L445.6 307.8 L446.8 311.3 L448.4 311.8 L449.9 315.9 L451.7 316.2 L452.0 319.9 L453.9 321.3 L454.4 321.5 L456.5 324.3 L456.8 327.4 L459.0 328.6 L459.4 330.3 L460.6 331.9 L462.4 332.1 L463.8 335.3 L464.6 335.0 L466.3 337.3 L466.9 339.0 L468.0 341.5 L469.7 344.0 L471.7 346.4 L472.5 348.4 L473.5 350.3 L474.6 352.6 L476.6 356.3 L477.0 358.3 L479.4 359.6 L480.5 362.7 L481.2 366.2 L482.3 367.8 L484.0 371.8 L484.8 374.1 L486.6 376.3 L487.4 378.3 L488.1 380.4 L489.3 384.8 L490.5 385.9 L491.0 390.4 L493.1 392.6 L492.7 393.8 L493.2 396.7 L493.5 399.1 L494.1 402.8 L495.7 404.0 L495.2 408.0 L495.8 409.3 L495.9 412.2 L496.7 411.0"/>
<path stroke-width="6.8" d="M100.0 55.1h0L105.0 55.1L110.0 55.1L115.0 55.1L120.0 55.1L125.0 55.1L129.5 55.1M130.0 70.7h0M129.5 86.5h0"/>
<path stroke-width="9.2" d="M129.9 86.9h0L131.9 83.2L135.2 83.0L137.6 80.1L140.7 78.0L143.1 77.6L144.4 76.0L147.2 77.1L149.5 75.8L152.7 74.5L155.1 72.9L156.8 72.6L160.3 72.5L162.2 72.5L164.9 71.3L168.0 71.9L169.6 71.0L172.5 71.2L175.4 69.3L178.2 68.6L179.9 70.0L182.0 69.0L184.3 69.2L187.9 69.5L190.6 69.9L192.8 71.6L195.1 72.3L198.0 74.8L200.0 75.6L201.8 77.0L205.2 79.1L208.0 78.6L209.8 80.7L211.8 81.0L214.5 80.6L216.8 82.6L219.4 81.3L222.3 83.1L224.3 82.4L227.6 84.0L230.5 84.5L232.2 83.9L234.8 85.8L238.2 84.7L239.5 85.9L242.1 87.7L245.1 88.4L246.7 90.1L249.8 91.5L253.2 92.7L255.0 93.0L257.8 91.8L260.6 93.8L263.1 94.2L264.8 93.9L266.9 96.5L268.1 96.8L269.5 98.8L271.0 100.4L271.7 102.4L273.1 104.7L274.3 107.8L277.7 108.3L279.6 111.1L282.3 112.5L285.5 115.7L287.4 115.1L289.4 114.7L292.3 115.6L295.5 115.8L296.8 118.2L300.0 116.5L302.6 116.5L305.0 119.5L308.1 119.6L309.6 119.7L312.0 121.9L315.1 123.0L317.2 122.5L320.5 125.3L321.8 127.0L323.0 129.0L323.3 130.5L324.8 131.3L325.5 134.0L327.1 137.1L329.5 138.5L330.7 141.9L333.2 142.5L334.6 144.6L337.0 147.2L340.2 151.8L343.0 153.5L345.2 157.1L346.9 159.3L350.6 162.1L352.9 163.6L354.5 166.8L357.2 169.2L360.7 170.6L362.3 174.6L365.4 175.0L365.7 177.1L368.1 180.9L368.2 183.6L370.7 185.8L371.0 187.8L371.9 188.8L375.7 192.7L377.5 196.0L379.9 198.5L383.0 199.5L383.4 202.3L384.6 205.7L385.9 208.0L386.9 212.1L388.5 213.5L390.1 217.2L391.1 219.7L392.5 221.1L393.8 221.4L394.9 223.4L396.7 227.8L398.2 228.6L400.4 230.4L401.0 232.1L402.6 234.7L403.1 236.1L404.6 237.4L406.7 240.1L407.6 242.8L409.4 244.4L410.2 246.9L411.3 250.1L412.4 252.3L413.7 255.8L415.3 258.1L416.9 258.8L417.6 263.0L419.3 263.2L419.4 266.3L420.6 268.2L421.8 271.7L424.2 274.7L424.5 276.6L426.5 277.6L428.1 282.1L428.3 284.4L429.8 285.5L432.0 288.6L432.0 289.8L433.8 291.4L434.5 293.3L437.8 295.1L440.1 299.0L440.5 300.3L442.7 302.5L443.1 305.6L445.4 307.5L445.6 307.8L446.8 311.3L448.4 311.8L449.9 315.9L451.7 316.2L452.0 319.9L453.9 321.3L454.4 321.5L456.5 324.3L456.8 327.4L459.0 328.6L459.4 330.3L460.6 331.9L462.4 332.1L463.8 335.3L464.6 335.0L466.3 337.3L466.9 339.0L468.0 341.5L469.7 344.0L471.7 346.4L472.5 348.4L473.5 350.3L474.6 352.6L476.6 356.3L477.0 358.3L479.4 359.6L480.5 362.7L481.2 366.2L482.3 367.8L484.0 371.8L484.8 374.1L486.6 376.3L487.4 378.3L488.1 380.4L489.3 384.8L490.5 385.9L491.0 390.4L493.1 392.6L492.7 393.8L493.2 396.7L493.5 399.1L494.1 402.8L495.7 404.0L495.2 408.0L495.8 409.3L495.9 412.2L496.7 411.0"/>
<path stroke-width="3" d="M95.9 55.1 L96.0 55.2 L98.8 55.5 L101.2 56.1 L103.2 54.6 L106.7 54.2 L108.7 55.5 L110.2 56.0 L114.0 55.4 L116.3 55.9 L117.8 55.2 L120.9 56.0 L123.9 55.9 L126.0 56.1 L128.7 55.6 L130.5 53.9 L132.8 54.7 L135.3 56.0 L138.5 55.4 L141.1 55.6 L143.4 53.8 L146.4 55.7 L148.4 55.2 L151.1 54.0 L153.8 54.5 L155.2 54.5 L158.8 54.4 L161.3 56.3 L163.4 54.7 L165.9 55.4 L168.8 55.3 L171.1 54.0 L172.8 54.5 L176.3 54.7 L178.5 54.1 L180.2 55.3 L183.7 57.4 L186.2 57.4 L188.4 59.1 L190.8 59.4 L194.0 60.8 L196.6 63.9 L197.6 63.9 L201.4 66.3 L203.3 65.7 L205.4 68.6 L207.9 68.4 L210.3 68.7 L214.1 68.1 L216.4 69.5 L219.0 70.6 L220.5 72.0 L223.4 70.7 L225.1 73.0 L228.3 73.3 L230.3 74.0 L233.1 75.7 L235.1 76.0 L238.9 75.1 L241.6 77.6 L244.0 77.5 L245.7 78.5 L249.2 79.3 L250.7 78.7 L253.0 77.3 L255.3 79.1 L258.1 79.7 L260.5 78.9 L263.4 80.2 L265.7 83.7 L269.0 85.2 L271.1 86.9 L274.1 87.1 L276.2 86.7 L278.8 88.9 L281.3 91.0 L283.1 91.1 L286.6 92.4 L288.4 93.4 L290.6 94.4 L294.1 92.7 L296.1 92.4 L298.5 92.6 L300.4 92.5 L302.9 95.3 L305.9 94.5 L309.0 97.3 L310.8 95.7 L312.9 96.1 L315.7 96.8 L318.0 98.1 L321.0 101.5 L323.8 103.0 L325.8 105.8 L328.2 107.4 L330.2 108.9 L334.1 109.7 L335.9 112.4 L339.0 112.8 L340.5 114.4 L343.2 116.4 L346.6 119.0 L349.0 118.0 L350.2 121.1 L354.0 122.2 L356.0 123.2 L358.2 128.2 L361.4 130.3 L364.1 130.9 L365.3 132.7 L368.4 136.4 L371.6 139.0 L373.6 141.5 L375.8 143.5 L377.7 146.8 L379.2 148.8 L381.1 148.8 L381.6 150.7 L383.6 154.0 L384.0 154.4 L385.9 157.9 L387.0 159.0 L388.6 160.4 L389.3 163.9 L391.6 166.6 L392.7 168.9 L393.0 171.2 L395.0 174.4 L394.8 174.7 L395.9 178.5 L396.6 179.6 L397.8 183.6 L398.0 183.5 L399.0 186.7 L400.4 188.3 L401.4 191.8 L402.2 193.1 L404.1 196.1 L405.1 197.9 L405.5 201.3 L408.1 204.5 L409.6 204.4 L410.5 206.9 L412.4 211.1 L412.8 212.5 L413.8 216.0 L414.5 215.6 L415.2 218.5 L417.8 222.7 L418.8 226.0 L420.3 226.7 L420.4 230.6 L422.5 230.8 L423.7 234.3 L424.5 236.6 L425.4 238.1 L426.8 241.3 L429.1 243.0 L430.4 245.9 L430.7 250.2 L432.7 252.1 L432.7 255.2 L434.5 259.2 L435.4 260.7 L437.4 262.5 L437.4 267.3 L438.8 267.9 L438.5 270.3 L440.7 273.1 L441.3 277.1 L441.5 277.6 L443.3 280.7 L443.0 283.2 L444.4 284.8 L445.1 288.8 L447.8 290.4 L449.1 290.7 L449.2 294.4 L451.6 298.1 L451.6 298.6 L452.5 301.4 L454.1 302.9 L454.7 306.5 L455.6 308.9 L456.1 309.9 L456.9 312.8 L458.8 314.8 L459.2 319.1 L460.5 319.8 L461.4 323.2 L463.1 326.5 L465.2 328.5 L465.5 328.2 L466.5 331.5 L468.7 333.6 L469.2 335.9 L471.1 339.1 L472.5 342.1 L473.7 342.8 L475.2 345.9 L476.0 348.7 L477.5 350.7 L478.0 353.3 L479.1 357.4 L481.0 358.3 L482.0 362.7 L483.4 363.3 L485.1 367.2 L486.7 368.6 L487.1 373.3 L488.9 376.5 L488.9 377.8 L490.3 380.5 L492.3 383.9 L492.8 385.8 L493.3 388.4 L493.0 391.7 L494.7 392.6 L494.8 396.7 L494.8 398.7 L495.3 401.0 L495.9 404.0 L496.9 405.0 L496.7 408.0 L496.7 411.0"/>
<path stroke-width="9.2" d="M96.0 55.2h0L98.8 55.5L101.2 56.1L103.2 54.6L106.7 54.2L108.7 55.5L110.2 56.0L114.0 55.4L116.3 55.9L117.8 55.2L120.9 56.0L123.9 55.9L126.0 56.1L128.7 55.6L130.5 53.9L132.8 54.7L135.3 56.0L138.5 55.4L141.1 55.6L143.4 53.8L146.4 55.7L148.4 55.2L151.1 54.0L153.8 54.5L155.2 54.5L158.8 54.4L161.3 56.3L163.4 54.7L165.9 55.4L168.8 55.3L171.1 54.0L172.8 54.5L176.3 54.7L178.5 54.1L180.2 55.3L183.7 57.4L186.2 57.4L188.4 59.1L190.8 59.4L194.0 60.8L196.6 63.9L197.6 63.9L201.4 66.3L203.3 65.7L205.4 68.6L207.9 68.4L210.3 68.7L214.1 68.1L216.4 69.5L219.0 70.6L220.5 72.0L223.4 70.7L225.1 73.0L228.3 73.3L230.3 74.0L233.1 75.7L235.1 76.0L238.9 75.1L241.6 77.6L244.0 77.5L245.7 78.5L249.2 79.3L250.7 78.7L253.0 77.3L255.3 79.1L258.1 79.7L260.5 78.9L263.4 80.2L265.7 83.7L269.0 85.2L271.1 86.9L274.1 87.1L276.2 86.7L278.8 88.9L281.3 91.0L283.1 91.1L286.6 92.4L288.4 93.4L290.6 94.4L294.1 92.7L296.1 92.4L298.5 92.6L300.4 92.5L302.9 95.3L305.9 94.5L309.0 97.3L310.8 95.7L312.9 96.1L315.7 96.8L318.0 98.1L321.0 101.5L323.8 103.0L325.8 105.8L328.2 107.4L330.2 108.9L334.1 109.7L335.9 112.4L339.0 112.8L340.5 114.4L343.2 116.4L346.6 119.0L349.0 118.0L350.2 121.1L354.0 122.2L356.0 123.2L358.2 128.2L361.4 130.3L364.1 130.9L365.3 132.7L368.4 136.4L371.6 139.0L373.6 141.5L375.8 143.5L377.7 146.8L379.2 148.8L381.1 148.8L381.6 150.7L383.6 154.0L384.0 154.4L385.9 157.9L387.0 159.0L388.6 160.4L389.3 163.9L391.6 166.6L392.7 168.9L393.0 171.2L395.0 174.4L394.8 174.7L395.9 178.5L396.6 179.6L397.8 183.6L398.0 183.5L399.0 186.7L400.4 188.3L401.4 191.8L402.2 193.1L404.1 196.1L405.1 197.9L405.5 201.3L408.1 204.5L409.6 204.4L410.5 206.9L412.4 211.1L412.8 212.5L413.8 216.0L414.5 215.6L415.2 218.5L417.8 222.7L418.8 226.0L420.3 226.7L420.4 230.6L422.5 230.8L423.7 234.3L424.5 236.6L425.4 238.1L426.8 241.3L429.1 243.0L430.4 245.9L430.7 250.2L432.7 252.1L432.7 255.2L434.5 259.2L435.4 260.7L437.4 262.5L437.4 267.3L438.8 267.9L438.5 270.3L440.7 273.1L441.3 277.1L441.5 277.6L443.3 280.7L443.0 283.2L444.4 284.8L445.1 288.8L447.8 290.4L449.1 290.7L449.2 294.4L451.6 298.1L451.6 298.6L452.5 301.4L454.1 302.9L454.7 306.5L455.6 308.9L456.1 309.9L456.9 312.8L458.8 314.8L459.2 319.1L460.5 319.8L461.4 323.2L463.1 326.5L465.2 328.5L465.5 328.2L466.5 331.5L468.7 333.6L469.2 335.9L471.1 339.1L472.5 342.1L473.7 342.8L475.2 345.9L476.0 348.7L477.5 350.7L478.0 353.3L479.1 357.4L481.0 358.3L482.0 362.7L483.4 363.3L485.1 367.2L486.7 368.6L487.1 373.3L488.9 376.5L488.9 377.8L490.3 380.5L492.3 383.9L492.8 385.8L493.3 388.4L493.0 391.7L494.7 392.6L494.8 396.7L494.8 398.7L495.3 401.0L495.9 404.0L496.9 405.0L496.7 408.0L496.7 411.0"/>
<path stroke-width="3" d="M95.9 55.1 L96.1 54.0 L97.9 55.6 L100.8 54.5 L103.1 56.3 L105.6 55.3 L108.2 54.9 L111.5 56.4 L113.2 54.3 L116.3 54.3 L117.6 56.1 L120.8 55.9 L123.3 56.1 L125.8 54.2 L127.6 55.2 L131.1 56.2 L132.8 55.4 L135.7 55.1 L137.8 54.5 L140.9 56.2 L142.8 55.1 L146.4 56.3 L147.9 54.1 L151.6 56.3 L153.4 53.9 L156.6 54.8 L159.0 55.5 L161.4 54.4 L163.8 54.6 L165.8 56.3 L168.9 54.4 L170.5 54.7 L173.4 54.4 L175.3 54.1 L178.8 56.1 L180.2 56.1 L183.8 55.9 L186.4 57.0 L188.6 58.9 L191.1 58.8 L193.3 60.3 L195.8 61.6 L198.3 62.5 L200.2 64.6 L203.4 65.0 L206.3 67.4 L208.3 66.3 L210.9 66.2 L212.8 67.4 L215.3 68.2 L218.4 68.2 L221.1 69.2 L223.8 71.7 L225.9 70.0 L228.4 70.7 L231.6 70.1 L234.0 72.6 L236.3 72.8 L237.9 74.0 L240.9 74.6 L244.0 72.8 L246.3 74.9 L247.7 73.6 L251.3 73.6 L254.0 74.7 L256.4 75.0 L258.4 77.3 L260.4 75.4 L263.4 75.2 L265.2 75.0 L267.9 78.6 L271.2 81.0 L272.9 83.5 L275.3 84.9 L278.6 85.0 L281.5 85.0 L283.5 84.7 L285.3 84.2 L288.6 82.9 L291.4 84.0 L294.2 86.9 L295.7 89.1 L298.3 88.3 L301.3 87.8 L303.9 87.7 L306.1 89.2 L308.5 88.6 L310.6 87.7 L312.7 89.4 L316.1 91.2 L318.4 93.3 L320.3 92.7 L323.6 94.3 L325.1 97.5 L327.8 100.1 L330.5 102.8 L333.5 103.2 L336.1 104.8 L337.8 106.8 L340.5 105.7 L342.8 109.0 L346.5 112.2 L348.2 113.5 L350.1 116.6 L353.5 117.1 L356.1 118.1 L359.1 119.6 L360.5 121.3 L362.7 123.0 L364.5 124.0 L365.2 127.2 L366.4 128.6 L369.1 129.5 L369.2 132.4 L370.9 134.0 L373.9 134.9 L375.6 136.8 L377.7 140.2 L380.1 141.4 L380.1 143.4 L382.5 145.0 L383.8 147.6 L383.8 148.7 L384.6 150.5 L385.6 154.4 L387.5 157.4 L388.7 158.8 L389.7 161.6 L391.3 164.1 L391.8 166.5 L394.1 167.5 L395.2 168.9 L395.5 171.3 L397.5 175.2 L398.8 175.6 L400.2 178.1 L400.5 182.0 L402.4 183.9 L403.7 187.2 L404.6 189.3 L406.2 191.8 L407.1 193.5 L408.5 194.4 L409.2 197.5 L410.2 200.6 L411.6 201.1 L412.8 206.3 L414.4 207.0 L415.2 209.5 L417.5 213.6 L418.7 216.5 L419.0 218.2 L420.7 220.9 L422.6 223.5 L422.7 225.9 L425.3 228.6 L425.3 229.1 L426.5 231.1 L428.9 235.5 L429.9 238.3 L431.1 239.7 L431.1 241.3 L433.0 243.6 L433.1 246.2 L433.5 247.9 L434.7 251.2 L435.7 252.2 L437.5 255.4 L438.1 258.3 L437.7 260.5 L439.1 263.5 L439.8 265.4 L441.0 266.3 L442.7 268.5 L443.9 271.4 L443.9 273.3 L446.3 277.2 L447.6 277.8 L449.6 280.5 L450.4 281.6 L451.5 285.0 L452.2 287.8 L453.1 288.4 L454.5 292.0 L454.5 295.1 L455.2 298.3 L457.0 300.9 L457.8 302.4 L458.2 305.1 L459.8 306.9 L460.7 309.3 L460.4 312.5 L462.8 316.1 L463.2 320.0 L464.2 320.9 L465.9 323.7 L467.5 325.2 L468.2 326.1 L469.1 329.3 L471.2 330.8 L471.6 332.3 L473.8 335.0 L474.1 337.4 L476.5 339.6 L476.7 342.7 L478.7 347.1 L479.1 348.2 L480.5 351.5 L482.2 353.9 L483.1 356.8 L485.4 361.1 L485.3 364.7 L486.5 366.0 L489.2 370.0 L490.0 372.0 L490.4 375.4 L491.1 377.1 L492.4 379.5 L493.2 384.2 L494.3 385.8 L494.9 388.0 L494.7 390.7 L495.8 393.4 L497.3 395.9 L496.7 398.5 L496.7 401.0 L496.7 403.5 L496.7 406.0 L496.7 408.5 L496.7 411.0"/>
<path stroke-width="9.2" d="M96.1 54.0h0L97.9 55.6L100.8 54.5L103.1 56.3L105.6 55.3L108.2 54.9L111.5 56.4L113.2 54.3L116.3 54.3L117.6 56.1L120.8 55.9L123.3 56.1L125.8 54.2L127.6 55.2L131.1 56.2L132.8 55.4L135.7 55.1L137.8 54.5L140.9 56.2L142.8 55.1L146.4 56.3L147.9 54.1L151.6 56.3L153.4 53.9L156.6 54.8L159.0 55.5L161.4 54.4L163.8 54.6L165.8 56.3L168.9 54.4L170.5 54.7L173.4 54.4L175.3 54.1L178.8 56.1L180.2 56.1L183.8 55.9L186.4 57.0L188.6 58.9L191.1 58.8L193.3 60.3L195.8 61.6L198.3 62.5L200.2 64.6L203.4 65.0L206.3 67.4L208.3 66.3L210.9 66.2L212.8 67.4L215.3 68.2L218.4 68.2L221.1 69.2L223.8 71.7L225.9 70.0L228.4 70.7L231.6 70.1L234.0 72.6L236.3 72.8L237.9 74.0L240.9 74.6L244.0 72.8L246.3 74.9L247.7 73.6L251.3 73.6L254.0 74.7L256.4 75.0L258.4 77.3L260.4 75.4L263.4 75.2L265.2 75.0L267.9 78.6L271.2 81.0L272.9 83.5L275.3 84.9L278.6 85.0L281.5 85.0L283.5 84.7L285.3 84.2L288.6 82.9L291.4 84.0L294.2 86.9L295.7 89.1L298.3 88.3L301.3 87.8L303.9 87.7L306.1 89.2L308.5 88.6L310.6 87.7L312.7 89.4L316.1 91.2L318.4 93.3L320.3 92.7L323.6 94.3L325.1 97.5L327.8 100.1L330.5 102.8L333.5 103.2L336.1 104.8L337.8 106.8L340.5 105.7L342.8 109.0L346.5 112.2L348.2 113.5L350.1 116.6L353.5 117.1L356.1 118.1L359.1 119.6L360.5 121.3L362.7 123.0L364.5 124.0L365.2 127.2L366.4 128.6L369.1 129.5L369.2 132.4L370.9 134.0L373.9 134.9L375.6 136.8L377.7 140.2L380.1 141.4L380.1 143.4L382.5 145.0L383.8 147.6L383.8 148.7L384.6 150.5L385.6 154.4L387.5 157.4L388.7 158.8L389.7 161.6L391.3 164.1L391.8 166.5L394.1 167.5L395.2 168.9L395.5 171.3L397.5 175.2L398.8 175.6L400.2 178.1L400.5 182.0L402.4 183.9L403.7 187.2L404.6 189.3L406.2 191.8L407.1 193.5L408.5 194.4L409.2 197.5L410.2 200.6L411.6 201.1L412.8 206.3L414.4 207.0L415.2 209.5L417.5 213.6L418.7 216.5L419.0 218.2L420.7 220.9L422.6 223.5L422.7 225.9L425.3 228.6L425.3 229.1L426.5 231.1L428.9 235.5L429.9 238.3L431.1 239.7L431.1 241.3L433.0 243.6L433.1 246.2L433.5 247.9L434.7 251.2L435.7 252.2L437.5 255.4L438.1 258.3L437.7 260.5L439.1 263.5L439.8 265.4L441.0 266.3L442.7 268.5L443.9 271.4L443.9 273.3L446.3 277.2L447.6 277.8L449.6 280.5L450.4 281.6L451.5 285.0L452.2 287.8L453.1 288.4L454.5 292.0L454.5 295.1L455.2 298.3L457.0 300.9L457.8 302.4L458.2 305.1L459.8 306.9L460.7 309.3L460.4 312.5L462.8 316.1L463.2 320.0L464.2 320.9L465.9 323.7L467.5 325.2L468.2 326.1L469.1 329.3L471.2 330.8L471.6 332.3L473.8 335.0L474.1 337.4L476.5 339.6L476.7 342.7L478.7 347.1L479.1 348.2L480.5 351.5L482.2 353.9L483.1 356.8L485.4 361.1L485.3 364.7L486.5 366.0L489.2 370.0L490.0 372.0L490.4 375.4L491.1 377.1L492.4 379.5L493.2 384.2L494.3 385.8L494.9 388.0L494.7 390.7L495.8 393.4L497.3 395.9L496.7 398.5L496.7 401.0L496.7 403.5L496.7 406.0L496.7 408.5L496.7 411.0"/>
<path stroke-width="3" d="M95.9 55.1 L95.6 55.4 L97.8 54.9 L101.3 55.7 L103.6 54.5 L105.8 55.0 L108.6 54.9 L111.2 56.2 L112.9 55.5 L116.3 54.8 L118.4 56.3 L120.2 55.2 L122.9 55.8 L126.6 55.1 L127.8 55.3 L131.0 55.7 L133.4 55.5 L136.4 55.2 L138.3 56.3 L140.4 55.6 L143.2 55.8 L145.3 56.4 L148.2 53.9 L150.5 54.8 L152.6 54.9 L155.8 55.6 L158.2 54.5 L160.5 55.8 L164.1 55.3 L165.5 56.0 L168.2 54.4 L170.3 55.8 L173.9 55.2 L175.9 54.9 L178.0 55.9 L180.7 55.4 L183.9 56.8 L185.9 56.4 L188.5 57.2 L191.4 59.0 L193.9 60.0 L195.7 61.1 L198.3 62.1 L200.1 64.4 L203.1 64.0 L205.6 65.4 L208.3 66.3 L211.1 65.8 L214.1 67.4 L215.2 67.8 L219.0 68.1 L220.3 68.6 L223.6 66.8 L225.1 69.3 L228.6 67.5 L230.3 67.0 L233.0 68.5 L235.7 66.8 L239.0 68.6 L240.4 69.3 L243.6 69.7 L246.2 70.9 L248.8 71.8 L250.4 72.5 L253.4 73.5 L255.8 74.6 L258.5 73.3 L260.5 73.0 L263.4 72.5 L265.8 72.4 L268.4 73.2 L271.0 74.4 L272.6 74.9 L275.9 74.8 L278.7 76.2 L280.7 75.8 L284.1 75.5 L286.1 77.5 L287.7 77.7 L291.2 78.7 L293.1 79.1 L295.9 78.2 L299.0 77.6 L301.2 80.2 L303.1 82.2 L305.7 82.8 L308.4 85.2 L310.4 85.7 L313.3 87.1 L316.4 87.1 L318.9 87.6 L320.9 87.6 L323.4 90.1 L326.1 90.4 L328.1 90.2 L330.6 92.2 L333.6 94.2 L335.2 95.9 L339.0 97.4 L340.2 98.7 L342.6 100.8 L346.6 104.3 L348.6 106.8 L351.5 108.0 L353.6 109.6 L356.2 111.2 L358.7 111.9 L361.2 114.6 L363.8 116.5 L364.2 118.0 L366.3 122.0 L367.4 122.5 L368.9 125.4 L369.7 125.9 L370.6 128.1 L371.9 129.8 L373.6 132.7 L375.2 134.6 L377.7 135.9 L381.4 139.7 L382.8 140.9 L382.6 142.3 L384.8 145.5 L386.7 146.0 L387.0 146.9 L388.6 149.1 L389.1 150.7 L390.1 154.5 L391.6 157.7 L392.8 160.0 L394.1 160.6 L396.2 163.9 L397.5 166.5 L397.7 170.9 L400.0 173.8 L401.3 174.5 L402.4 178.2 L403.3 180.8 L404.3 182.6 L406.2 181.9 L407.6 186.3 L410.1 186.7 L410.6 190.3 L411.6 193.4 L413.4 194.1 L414.4 198.3 L415.8 201.4 L416.6 204.5 L418.2 206.9 L419.9 208.4 L420.7 211.5 L422.8 213.9 L423.5 215.0 L424.0 219.4 L426.2 221.5 L426.9 223.6 L429.1 226.9 L429.4 227.6 L430.0 231.1 L430.7 232.6 L431.9 235.3 L433.0 235.7 L432.6 237.8 L434.5 241.5 L436.4 245.3 L436.0 247.2 L438.1 249.4 L438.5 249.9 L440.2 253.4 L441.2 255.8 L441.9 255.4 L443.5 259.0 L444.2 260.5 L446.6 260.8 L448.6 264.8 L449.6 266.3 L450.5 270.5 L452.0 272.3 L451.5 275.7 L453.2 276.7 L453.5 281.0 L454.6 282.3 L454.6 284.8 L454.8 286.1 L455.4 289.8 L456.5 291.9 L457.4 294.2 L457.9 295.5 L460.0 298.7 L459.5 301.8 L461.3 302.9 L462.3 306.1 L463.4 308.0 L463.9 312.5 L466.5 313.3 L467.3 314.7 L468.8 317.1 L470.3 320.1 L471.4 322.6 L471.8 322.5 L472.9 325.2 L474.0 327.6 L476.0 332.4 L477.1 335.4 L479.0 335.9 L479.8 339.7 L480.3 344.1 L481.4 345.1 L482.8 348.2 L483.7 348.7 L484.2 350.4 L485.8 354.9 L485.5 354.7 L486.4 357.8 L488.2 361.6 L488.9 361.6 L489.7 365.6 L490.3 368.5 L490.2 368.6 L492.1 373.2 L492.8 374.1 L493.5 377.8 L493.6 379.3 L494.7 381.3 L495.9 384.1 L496.3 386.7 L496.7 389.4 L496.7 392.1 L496.7 394.8 L496.7 397.5 L496.7 400.2 L496.7 402.9 L496.7 405.6 L496.7 408.3 L496.7 411.0"/>
<path stroke-width="9.2" d="M95.6 55.4h0L97.8 54.9L101.3 55.7L103.6 54.5L105.8 55.0L108.6 54.9L111.2 56.2L112.9 55.5L116.3 54.8L118.4 56.3L120.2 55.2L122.9 55.8L126.6 55.1L127.8 55.3L131.0 55.7L133.4 55.5L136.4 55.2L138.3 56.3L140.4 55.6L143.2 55.8L145.3 56.4L148.2 53.9L150.5 54.8L152.6 54.9L155.8 55.6L158.2 54.5L160.5 55.8L164.1 55.3L165.5 56.0L168.2 54.4L170.3 55.8L173.9 55.2L175.9 54.9L178.0 55.9L180.7 55.4L183.9 56.8L185.9 56.4L188.5 57.2L191.4 59.0L193.9 60.0L195.7 61.1L198.3 62.1L200.1 64.4L203.1 64.0L205.6 65.4L208.3 66.3L211.1 65.8L214.1 67.4L215.2 67.8L219.0 68.1L220.3 68.6L223.6 66.8L225.1 69.3L228.6 67.5L230.3 67.0L233.0 68.5L235.7 66.8L239.0 68.6L240.4 69.3L243.6 69.7L246.2 70.9L248.8 71.8L250.4 72.5L253.4 73.5L255.8 74.6L258.5 73.3L260.5 73.0L263.4 72.5L265.8 72.4L268.4 73.2L271.0 74.4L272.6 74.9L275.9 74.8L278.7 76.2L280.7 75.8L284.1 75.5L286.1 77.5L287.7 77.7L291.2 78.7L293.1 79.1L295.9 78.2L299.0 77.6L301.2 80.2L303.1 82.2L305.7 82.8L308.4 85.2L310.4 85.7L313.3 87.1L316.4 87.1L318.9 87.6L320.9 87.6L323.4 90.1L326.1 90.4L328.1 90.2L330.6 92.2L333.6 94.2L335.2 95.9L339.0 97.4L340.2 98.7L342.6 100.8L346.6 104.3L348.6 106.8L351.5 108.0L353.6 109.6L356.2 111.2L358.7 111.9L361.2 114.6L363.8 116.5L364.2 118.0L366.3 122.0L367.4 122.5L368.9 125.4L369.7 125.9L370.6 128.1L371.9 129.8L373.6 132.7L375.2 134.6L377.7 135.9L381.4 139.7L382.8 140.9L382.6 142.3L384.8 145.5L386.7 146.0L387.0 146.9L388.6 149.1L389.1 150.7L390.1 154.5L391.6 157.7L392.8 160.0L394.1 160.6L396.2 163.9L397.5 166.5L397.7 170.9L400.0 173.8L401.3 174.5L402.4 178.2L403.3 180.8L404.3 182.6L406.2 181.9L407.6 186.3L410.1 186.7L410.6 190.3L411.6 193.4L413.4 194.1L414.4 198.3L415.8 201.4L416.6 204.5L418.2 206.9L419.9 208.4L420.7 211.5L422.8 213.9L423.5 215.0L424.0 219.4L426.2 221.5L426.9 223.6L429.1 226.9L429.4 227.6L430.0 231.1L430.7 232.6L431.9 235.3L433.0 235.7L432.6 237.8L434.5 241.5L436.4 245.3L436.0 247.2L438.1 249.4L438.5 249.9L440.2 253.4L441.2 255.8L441.9 255.4L443.5 259.0L444.2 260.5L446.6 260.8L448.6 264.8L449.6 266.3L450.5 270.5L452.0 272.3L451.5 275.7L453.2 276.7L453.5 281.0L454.6 282.3L454.6 284.8L454.8 286.1L455.4 289.8L456.5 291.9L457.4 294.2L457.9 295.5L460.0 298.7L459.5 301.8L461.3 302.9L462.3 306.1L463.4 308.0L463.9 312.5L466.5 313.3L467.3 314.7L468.8 317.1L470.3 320.1L471.4 322.6L471.8 322.5L472.9 325.2L474.0 327.6L476.0 332.4L477.1 335.4L479.0 335.9L479.8 339.7L480.3 344.1L481.4 345.1L482.8 348.2L483.7 348.7L484.2 350.4L485.8 354.9L485.5 354.7L486.4 357.8L488.2 361.6L488.9 361.6L489.7 365.6L490.3 368.5L490.2 368.6L492.1 373.2L492.8 374.1L493.5 377.8L493.6 379.3L494.7 381.3L495.9 384.1L496.3 386.7L496.7 389.4L496.7 392.1L496.7 394.8L496.7 397.5L496.7 400.2L496.7 402.9L496.7 405.6L496.7 408.3L496.7 411.0"/>
<path stroke-width="3" d="M95.9 55.1 L95.3 56.2 L98.9 55.4 L100.8 54.7 L103.9 55.0 L106.1 54.2 L108.0 53.9 L111.2 55.2 L112.8 56.1 L115.5 54.9 L117.9 54.5 L121.4 54.7 L122.9 55.1 L125.6 56.1 L127.8 56.3 L130.2 56.1 L133.7 54.3 L135.9 54.5 L138.0 54.3 L140.7 56.4 L144.2 56.2 L145.3 54.6 L149.0 53.9 L151.3 54.6 L154.1 53.8 L156.4 54.7 L157.8 53.8 L161.4 55.1 L162.9 54.8 L166.5 54.2 L168.5 54.1 L170.4 55.8 L173.7 54.4 L175.2 54.2 L178.6 55.4 L180.5 54.9 L183.6 57.0 L186.4 57.4 L187.9 56.7 L191.3 58.2 L193.7 58.1 L196.4 59.7 L198.9 62.0 L200.9 60.9 L204.0 63.1 L206.5 63.7 L207.9 65.7 L210.7 64.2 L213.2 65.5 L215.1 65.4 L218.3 65.5 L220.3 66.1 L223.9 66.6 L225.6 66.4 L228.2 66.7 L230.2 67.1 L234.1 66.2 L235.9 66.3 L238.5 64.9 L241.6 65.4 L242.9 65.0 L245.5 66.8 L247.7 65.0 L251.2 65.4 L252.6 66.8 L256.0 67.0 L258.7 66.4 L261.5 68.4 L262.7 67.3 L265.9 68.8 L268.1 68.2 L270.8 68.7 L273.5 71.0 L275.3 70.6 L278.8 69.8 L281.4 72.0 L283.2 70.6 L286.4 71.0 L288.2 72.1 L291.3 70.4 L293.0 70.4 L295.8 72.2 L298.9 72.5 L301.4 73.1 L302.7 73.3 L306.6 75.7 L308.0 75.7 L311.1 76.9 L313.4 77.2 L315.8 79.3 L317.7 79.3 L321.6 82.0 L324.1 83.1 L326.4 85.3 L329.0 84.8 L331.1 87.2 L333.7 89.0 L336.0 92.3 L338.6 91.7 L340.9 93.1 L344.1 93.7 L345.6 95.8 L347.8 96.8 L351.6 97.9 L353.0 99.5 L356.0 100.8 L357.8 103.3 L360.6 107.0 L361.8 108.4 L362.8 111.0 L365.2 113.3 L366.0 115.5 L366.7 117.6 L368.3 119.1 L369.8 120.7 L370.6 121.9 L371.7 124.2 L373.2 126.1 L373.9 127.1 L376.5 128.3 L377.2 130.5 L378.1 133.3 L379.3 134.4 L380.4 134.2 L382.7 136.9 L382.7 138.5 L384.6 141.3 L385.3 141.9 L387.9 145.3 L387.9 146.3 L389.4 149.2 L391.1 151.6 L392.7 153.0 L393.8 155.8 L395.1 157.3 L396.3 160.2 L397.8 160.7 L399.0 162.4 L400.1 165.6 L400.9 168.3 L403.5 169.0 L406.3 172.2 L408.6 173.2 L409.6 175.4 L411.2 177.0 L411.6 180.0 L412.4 181.6 L413.8 185.3 L414.2 186.7 L414.6 188.9 L415.3 192.1 L416.9 193.3 L418.2 196.4 L418.9 200.2 L420.4 201.2 L420.8 205.8 L421.4 206.1 L423.5 209.9 L425.3 213.0 L426.0 216.0 L427.2 216.9 L428.7 218.7 L429.4 221.7 L430.7 225.0 L432.4 226.3 L432.8 228.3 L434.5 231.2 L436.0 234.5 L437.9 236.1 L438.3 239.0 L440.4 239.9 L440.9 242.8 L441.6 243.1 L444.1 246.0 L444.7 245.8 L446.5 249.0 L447.7 251.5 L449.0 251.8 L448.7 253.6 L450.1 256.4 L450.4 257.7 L451.6 261.1 L451.7 264.5 L452.6 264.4 L452.8 268.7 L453.1 270.8 L453.3 272.2 L455.2 275.4 L455.5 276.9 L455.9 280.3 L456.4 282.8 L457.6 286.0 L458.5 286.8 L458.6 288.4 L460.5 290.4 L460.3 292.8 L462.2 296.9 L463.6 299.3 L464.0 299.2 L466.3 302.0 L467.5 304.3 L467.9 306.4 L469.0 310.6 L471.0 311.7 L471.7 313.8 L471.9 317.1 L473.5 319.3 L474.1 320.7 L474.7 321.4 L476.6 325.8 L476.4 328.1 L478.1 328.7 L478.6 332.6 L479.2 334.7 L479.7 335.3 L481.2 337.0 L481.9 341.6 L483.4 344.4 L483.8 345.0 L484.8 347.2 L486.6 349.7 L486.8 351.4 L487.6 354.3 L488.2 355.6 L488.6 359.8 L489.8 360.5 L490.4 362.8 L491.3 364.2 L492.8 367.0 L492.9 370.0 L493.6 370.9 L495.6 372.5 L495.8 376.4 L497.2 376.6 L496.7 379.3 L496.7 381.9 L496.7 384.6 L496.7 387.2 L496.7 389.8 L496.7 392.5 L496.7 395.1 L496.7 397.8 L496.7 400.4 L496.7 403.1 L496.7 405.7 L496.7 408.4 L496.7 411.0"/>
<path stroke-width="9.2" d="M95.3 56.2h0L98.9 55.4L100.8 54.7L103.9 55.0L106.1 54.2L108.0 53.9L111.2 55.2L112.8 56.1L115.5 54.9L117.9 54.5L121.4 54.7L122.9 55.1L125.6 56.1L127.8 56.3L130.2 56.1L133.7 54.3L135.9 54.5L138.0 54.3L140.7 56.4L144.2 56.2L145.3 54.6L149.0 53.9L151.3 54.6L154.1 53.8L156.4 54.7L157.8 53.8L161.4 55.1L162.9 54.8L166.5 54.2L168.5 54.1L170.4 55.8L173.7 54.4L175.2 54.2L178.6 55.4L180.5 54.9L183.6 57.0L186.4 57.4L187.9 56.7L191.3 58.2L193.7 58.1L196.4 59.7L198.9 62.0L200.9 60.9L204.0 63.1L206.5 63.7L207.9 65.7L210.7 64.2L213.2 65.5L215.1 65.4L218.3 65.5L220.3 66.1L223.9 66.6L225.6 66.4L228.2 66.7L230.2 67.1L234.1 66.2L235.9 66.3L238.5 64.9L241.6 65.4L242.9 65.0L245.5 66.8L247.7 65.0L251.2 65.4L252.6 66.8L256.0 67.0L258.7 66.4L261.5 68.4L262.7 67.3L265.9 68.8L268.1 68.2L270.8 68.7L273.5 71.0L275.3 70.6L278.8 69.8L281.4 72.0L283.2 70.6L286.4 71.0L288.2 72.1L291.3 70.4L293.0 70.4L295.8 72.2L298.9 72.5L301.4 73.1L302.7 73.3L306.6 75.7L308.0 75.7L311.1 76.9L313.4 77.2L315.8 79.3L317.7 79.3L321.6 82.0L324.1 83.1L326.4 85.3L329.0 84.8L331.1 87.2L333.7 89.0L336.0 92.3L338.6 91.7L340.9 93.1L344.1 93.7L345.6 95.8L347.8 96.8L351.6 97.9L353.0 99.5L356.0 100.8L357.8 103.3L360.6 107.0L361.8 108.4L362.8 111.0L365.2 113.3L366.0 115.5L366.7 117.6L368.3 119.1L369.8 120.7L370.6 121.9L371.7 124.2L373.2 126.1L373.9 127.1L376.5 128.3L377.2 130.5L378.1 133.3L379.3 134.4L380.4 134.2L382.7 136.9L382.7 138.5L384.6 141.3L385.3 141.9L387.9 145.3L387.9 146.3L389.4 149.2L391.1 151.6L392.7 153.0L393.8 155.8L395.1 157.3L396.3 160.2L397.8 160.7L399.0 162.4L400.1 165.6L400.9 168.3L403.5 169.0L406.3 172.2L408.6 173.2L409.6 175.4L411.2 177.0L411.6 180.0L412.4 181.6L413.8 185.3L414.2 186.7L414.6 188.9L415.3 192.1L416.9 193.3L418.2 196.4L418.9 200.2L420.4 201.2L420.8 205.8L421.4 206.1L423.5 209.9L425.3 213.0L426.0 216.0L427.2 216.9L428.7 218.7L429.4 221.7L430.7 225.0L432.4 226.3L432.8 228.3L434.5 231.2L436.0 234.5L437.9 236.1L438.3 239.0L440.4 239.9L440.9 242.8L441.6 243.1L444.1 246.0L444.7 245.8L446.5 249.0L447.7 251.5L449.0 251.8L448.7 253.6L450.1 256.4L450.4 257.7L451.6 261.1L451.7 264.5L452.6 264.4L452.8 268.7L453.1 270.8L453.3 272.2L455.2 275.4L455.5 276.9L455.9 280.3L456.4 282.8L457.6 286.0L458.5 286.8L458.6 288.4L460.5 290.4L460.3 292.8L462.2 296.9L463.6 299.3L464.0 299.2L466.3 302.0L467.5 304.3L467.9 306.4L469.0 310.6L471.0 311.7L471.7 313.8L471.9 317.1L473.5 319.3L474.1 320.7L474.7 321.4L476.6 325.8L476.4 328.1L478.1 328.7L478.6 332.6L479.2 334.7L479.7 335.3L481.2 337.0L481.9 341.6L483.4 344.4L483.8 345.0L484.8 347.2L486.6 349.7L486.8 351.4L487.6 354.3L488.2 355.6L488.6 359.8L489.8 360.5L490.4 362.8L491.3 364.2L492.8 367.0L492.9 370.0L493.6 370.9L495.6 372.5L495.8 376.4L497.2 376.6L496.7 379.3L496.7 381.9L496.7 384.6L496.7 387.2L496.7 389.8L496.7 392.5L496.7 395.1L496.7 397.8L496.7 400.4L496.7 403.1L496.7 405.7L496.7 408.4L496.7 411.0"/>
</g>
</g>
<rect x="76.8" y="33.8" width="439.59999999999997" height="446.9" fill="none" stroke="#000" stroke-width="1.6"/>
<line x1="95.9" y1="480.7" x2="95.9" y2="487.8" stroke="#000" stroke-width="1.6"/>
<text x="95.3" y="511" text-anchor="middle" letter-spacing="-0.9">0.0</text>
<line x1="176.1" y1="480.7" x2="176.1" y2="487.8" stroke="#000" stroke-width="1.6"/>
<text x="175.5" y="511" text-anchor="middle" letter-spacing="-0.9">0.2</text>
<line x1="256.2" y1="480.7" x2="256.2" y2="487.8" stroke="#000" stroke-width="1.6"/>
<text x="255.6" y="511" text-anchor="middle" letter-spacing="-0.9">0.4</text>
<line x1="336.4" y1="480.7" x2="336.4" y2="487.8" stroke="#000" stroke-width="1.6"/>
<text x="335.8" y="511" text-anchor="middle" letter-spacing="-0.9">0.6</text>
<line x1="416.5" y1="480.7" x2="416.5" y2="487.8" stroke="#000" stroke-width="1.6"/>
<text x="415.9" y="511" text-anchor="middle" letter-spacing="-0.9">0.8</text>
<line x1="496.7" y1="480.7" x2="496.7" y2="487.8" stroke="#000" stroke-width="1.6"/>
<text x="496.1" y="511" text-anchor="middle" letter-spacing="-0.9">1.0</text>
<line x1="69.7" y1="459.6" x2="76.8" y2="459.6" stroke="#000" stroke-width="1.6"/>
<text x="61.4" y="467.2" text-anchor="end" letter-spacing="-0.9">0.0</text>
<line x1="69.7" y1="378.7" x2="76.8" y2="378.7" stroke="#000" stroke-width="1.6"/>
<text x="61.4" y="386.3" text-anchor="end" letter-spacing="-0.9">0.2</text>
<line x1="69.7" y1="297.8" x2="76.8" y2="297.8" stroke="#000" stroke-width="1.6"/>
<text x="61.4" y="305.4" text-anchor="end" letter-spacing="-0.9">0.4</text>
<line x1="69.7" y1="216.9" x2="76.8" y2="216.9" stroke="#000" stroke-width="1.6"/>
<text x="61.4" y="224.5" text-anchor="end" letter-spacing="-0.9">0.6</text>
<line x1="69.7" y1="136.0" x2="76.8" y2="136.0" stroke="#000" stroke-width="1.6"/>
<text x="61.4" y="143.6" text-anchor="end" letter-spacing="-0.9">0.8</text>
<line x1="69.7" y1="55.1" x2="76.8" y2="55.1" stroke="#000" stroke-width="1.6"/>
<text x="61.4" y="62.7" text-anchor="end" letter-spacing="-0.9">1.0</text>
<text x="296.6" y="23.2" text-anchor="middle" font-size="23.5">Precision-Recall</text>
<text x="297.1" y="537.6" text-anchor="middle">Recall</text>
<text transform="translate(18.6 261.2) rotate(-90)" text-anchor="middle">Precision</text>
<rect x="86.2" y="348.2" width="175.8" height="122.30000000000001" rx="4" ry="4" fill="#fff" fill-opacity="0.8" stroke="#ccc" stroke-opacity="0.8" stroke-width="2"/>
<line x1="92.7" y1="363.4" x2="132.7" y2="363.4" stroke="#1f77b4" stroke-width="3" stroke-linecap="square"/>
<circle cx="113.6" cy="363.4" r="3.6" fill="#1f77b4"/>
<text x="148.5" y="372.4">Resnet54</text>
<line x1="92.7" y1="392.6" x2="132.7" y2="392.6" stroke="#ff7f0e" stroke-width="3" stroke-linecap="square"/>
<circle cx="113.6" cy="392.6" r="3.6" fill="#ff7f0e"/>
<text x="148.5" y="401.6">Resnet101</text>
<line x1="92.7" y1="421.8" x2="132.7" y2="421.8" stroke="#2ca02c" stroke-width="3" stroke-linecap="square"/>
<circle cx="113.6" cy="421.8" r="3.6" fill="#2ca02c"/>
<text x="148.5" y="430.8">RPN54</text>
<line x1="92.7" y1="451.0" x2="132.7" y2="451.0" stroke="#d62728" stroke-width="3" stroke-linecap="square"/>
<circle cx="113.6" cy="451.0" r="3.6" fill="#d62728"/>
<text x="148.5" y="460.0">RPN101</text>
<rect x="578.9" y="33.8" width="175.80000000000007" height="446.9" fill="none" stroke="#000" stroke-width="1.6"/>
<rect x="585.9" y="255.5" width="33.3" height="225.2" fill="#1f77b4" fill-opacity="0.7"/>
<rect x="628.4" y="302.8" width="33.3" height="177.9" fill="#ff7f0e" fill-opacity="0.7"/>
<rect x="669.8" y="232.2" width="33.3" height="248.5" fill="#2ca02c" fill-opacity="0.7"/>
<rect x="712.4" y="213.5" width="33.7" height="267.2" fill="#d62728" fill-opacity="0.7"/>
<g stroke="#1f77b4" fill="none"><line x1="603.5" y1="225.5" x2="603.5" y2="289.9" stroke-width="3.8" stroke-opacity="0.7"/><line x1="583.5" y1="225.5" x2="623.5" y2="225.5" stroke-width="2.1"/><line x1="583.5" y1="289.9" x2="623.5" y2="289.9" stroke-width="2.1"/></g>
<g stroke="#ff7f0e" fill="none"><line x1="645.6" y1="264.4" x2="645.6" y2="343.9" stroke-width="3.8" stroke-opacity="0.7"/><line x1="625.6" y1="264.4" x2="665.6" y2="264.4" stroke-width="2.1"/><line x1="625.6" y1="343.9" x2="665.6" y2="343.9" stroke-width="2.1"/></g>
<g stroke="#2ca02c" fill="none"><line x1="687.7" y1="207.2" x2="687.7" y2="260.8" stroke-width="3.8" stroke-opacity="0.7"/><line x1="667.7" y1="207.2" x2="707.7" y2="207.2" stroke-width="2.1"/><line x1="667.7" y1="260.8" x2="707.7" y2="260.8" stroke-width="2.1"/></g>
<g stroke="#d62728" fill="none"><line x1="729.8" y1="186.6" x2="729.8" y2="242.5" stroke-width="3.8" stroke-opacity="0.7"/><line x1="709.8" y1="186.6" x2="749.8" y2="186.6" stroke-width="2.1"/><line x1="709.8" y1="242.5" x2="749.8" y2="242.5" stroke-width="2.1"/></g>
<rect x="578.9" y="33.8" width="175.80000000000007" height="446.9" fill="none" stroke="#000" stroke-width="1.6"/>
<line x1="603.8" y1="480.7" x2="603.8" y2="487.8" stroke="#000" stroke-width="1.6"/>
<text x="603.4" y="511" text-anchor="middle" letter-spacing="-0.9">0</text>
<line x1="688.0" y1="480.7" x2="688.0" y2="487.8" stroke="#000" stroke-width="1.6"/>
<text x="687.6" y="511" text-anchor="middle" letter-spacing="-0.9">2</text>
<line x1="571.8" y1="480.7" x2="578.9" y2="480.7" stroke="#000" stroke-width="1.6"/>
<text x="562.1" y="488.3" text-anchor="end" letter-spacing="-0.9">0.5</text>
<line x1="571.8" y1="391.3" x2="578.9" y2="391.3" stroke="#000" stroke-width="1.6"/>
<text x="562.1" y="398.9" text-anchor="end" letter-spacing="-0.9">0.6</text>
<line x1="571.8" y1="301.9" x2="578.9" y2="301.9" stroke="#000" stroke-width="1.6"/>
<text x="562.1" y="309.5" text-anchor="end" letter-spacing="-0.9">0.7</text>
<line x1="571.8" y1="212.6" x2="578.9" y2="212.6" stroke="#000" stroke-width="1.6"/>
<text x="562.1" y="220.2" text-anchor="end" letter-spacing="-0.9">0.8</text>
<line x1="571.8" y1="123.2" x2="578.9" y2="123.2" stroke="#000" stroke-width="1.6"/>
<text x="562.1" y="130.8" text-anchor="end" letter-spacing="-0.9">0.9</text>
<line x1="571.8" y1="33.8" x2="578.9" y2="33.8" stroke="#000" stroke-width="1.6"/>
<text x="562.1" y="41.4" text-anchor="end" letter-spacing="-0.9">1.0</text>
<text x="666.8" y="23.2" text-anchor="middle" font-size="23.5">PR AUC</text>
<clipPath id="c3"><rect x="817.5" y="33.8" width="439.70000000000005" height="446.9"/></clipPath>
<g clip-path="url(#c3)">
<path d="M836.0 459.6 L836.0 55.1 L1237.4 55.1 L1237.4 459.6 Z" fill="none" stroke="#d3d3d3" stroke-width="3.4"/>
<line x1="836.0" y1="459.6" x2="1237.4" y2="55.1" stroke="#6e6e6e" stroke-width="2.3" stroke-dasharray="10.3 4.5"/>
<g fill="none" stroke="#1f77b4" stroke-width="2.7" stroke-linejoin="round" stroke-linecap="butt">
<path d="M836.0 459.6 L836.1 456.6 L836.1 453.5 L836.2 450.5 L836.2 447.5 L836.3 444.4 L836.4 441.4 L836.4 438.4 L836.5 435.3 L836.5 432.3 L836.6 429.3 L836.7 426.3 L836.7 423.2 L836.8 420.2 L836.8 417.2 L836.9 414.1 L837.0 411.1 L837.0 408.1 L837.1 405.0 L837.1 402.0 L837.2 399.0 L837.3 395.9 L837.3 392.9 L837.4 389.8 L837.5 386.8 L837.5 383.7 L837.6 380.7 L837.7 377.6 L837.7 374.6 L837.8 371.5 L837.9 368.5 L837.9 365.4 L838.0 362.4 L838.1 359.3 L838.2 356.3 L838.2 353.2 L838.3 350.2 L838.4 347.1 L838.4 344.1 L838.5 341.0 L838.6 338.0 L838.6 334.9 L838.7 331.9 L838.8 328.8 L838.8 325.8 L838.9 322.7 L839.0 319.7 L839.0 316.6 L839.1 313.6 L839.2 310.5 L839.3 307.5 L839.3 304.4 L839.4 301.4 L839.5 298.3 L839.6 295.3 L839.7 292.2 L839.8 289.2 L839.9 286.1 L840.0 283.1 L840.2 280.0 L840.3 276.9 L840.4 273.9 L840.5 270.8 L840.6 267.8 L840.7 264.7 L840.8 261.7 L841.0 258.6 L841.1 255.6 L841.2 252.5 L841.3 249.5 L841.5 246.4 L841.6 243.4 L841.8 240.3 L842.0 237.3 L842.1 234.2 L842.3 231.2 L842.5 228.2 L842.7 225.1 L842.9 222.1 L843.0 218.9 L843.0 215.8 L843.4 212.9 L843.6 210.0 L844.0 207.2 L844.4 204.1 L844.4 201.1 L844.8 198.0 L844.6 194.5 L844.7 191.9 L845.0 188.8 L845.7 186.0 L846.0 182.8 L846.0 180.2 L846.6 177.0 L846.1 173.8 L846.7 170.1 L846.6 167.3 L846.9 164.0 L847.3 161.6 L848.2 159.2 L849.5 155.8 L850.1 152.7 L851.1 150.0 L851.6 147.0 L852.8 144.3 L854.3 141.8 L855.0 139.0 L856.9 137.4 L858.4 135.1 L859.8 131.3 L861.0 128.2 L861.4 125.4 L862.8 122.7 L865.0 120.8 L867.8 118.7 L869.8 116.9 L872.1 115.3 L874.3 112.7 L876.0 109.7 L877.4 106.4 L878.8 104.1 L880.6 101.8 L883.1 99.4 L887.0 98.7 L890.2 97.6 L892.1 95.5 L895.0 93.5 L895.8 91.4 L898.2 88.9 L899.7 87.4 L903.5 85.7 L907.3 85.3 L910.8 84.4 L913.8 84.6 L917.1 83.4 L919.7 81.2 L922.2 79.6 L924.0 78.5 L927.2 77.2 L930.6 76.8 L934.3 76.9 L937.3 77.5 L940.2 76.5 L943.8 75.8 L946.0 74.5 L947.6 73.0 L949.7 72.0 L952.5 71.0 L955.7 70.0 L959.4 70.7 L961.6 70.1 L965.6 69.5 L968.0 69.0 L970.5 67.9 L973.6 67.7 L977.5 66.8 L981.0 66.9 L984.4 66.5 L987.8 66.8 L991.2 66.0 L993.5 66.3 L996.4 66.2 L1000.3 65.6 L1003.6 66.1 L1006.6 66.6 L1010.5 67.1 L1013.0 67.1 L1016.2 66.1 L1018.8 65.9 L1021.2 65.9 L1023.7 65.4 L1027.7 64.9 L1030.9 65.7 L1034.4 64.7 L1037.7 62.7 L1040.0 62.2 L1041.4 61.5 L1043.7 60.7 L1046.5 60.3 L1049.7 61.2 L1053.5 61.2 L1057.7 62.1 L1060.6 62.6 L1063.7 61.2 L1066.2 60.9 L1068.4 59.4 L1071.0 58.2 L1075.0 58.0 L1077.8 57.8 L1082.4 58.6 L1085.8 59.5 L1089.0 59.0 L1092.0 59.4 L1094.3 58.5 L1097.1 57.3 L1100.1 56.9 L1103.3 56.9 L1107.0 57.9 L1109.8 58.4 L1113.2 58.3 L1116.2 58.1 L1119.1 56.9 L1121.9 56.3 L1124.5 55.8 L1127.2 55.6 L1130.6 55.6 L1133.7 55.7 L1136.9 55.8 L1139.9 55.8 L1143.1 55.5 L1145.5 55.9 L1148.7 55.1 L1151.9 55.4 L1154.9 55.7 L1158.1 55.3 L1161.0 55.4 L1164.4 55.8 L1167.6 55.5 L1170.2 55.4 L1173.4 55.8 L1176.7 55.4 L1179.8 55.6 L1182.8 55.8 L1185.9 55.8 L1188.9 55.7 L1191.9 55.6 L1194.9 55.4 L1197.7 55.4 L1200.8 55.3 L1204.0 55.6 L1207.2 55.6 L1210.1 55.5 L1213.2 55.5 L1216.1 55.2 L1219.1 55.1 L1222.1 55.1 L1225.2 55.1 L1228.2 55.1 L1231.3 55.1 L1234.4 55.1 L1237.4 55.1"/>
<path d="M836.0 459.6 L836.0 456.5 L836.1 453.5 L836.1 450.4 L836.2 447.4 L836.2 444.3 L836.3 441.3 L836.3 438.2 L836.3 435.1 L836.4 432.1 L836.4 429.0 L836.5 426.0 L836.5 422.9 L836.6 419.8 L836.6 416.8 L836.6 413.7 L836.7 410.7 L836.7 407.6 L836.8 404.6 L836.8 401.5 L836.9 398.4 L836.9 395.4 L837.0 392.3 L837.0 389.2 L837.1 386.2 L837.1 383.1 L837.2 380.0 L837.2 376.9 L837.3 373.9 L837.3 370.8 L837.4 367.7 L837.4 364.7 L837.5 361.6 L837.5 358.5 L837.6 355.4 L837.6 352.4 L837.7 349.3 L837.7 346.2 L837.8 343.2 L837.8 340.1 L837.9 337.0 L837.9 333.9 L838.0 330.9 L838.0 327.8 L838.1 324.7 L838.1 321.7 L838.2 318.6 L838.2 315.5 L838.2 312.5 L838.3 309.4 L838.3 306.3 L838.4 303.2 L838.5 300.2 L838.5 297.1 L838.6 294.0 L838.7 290.9 L838.8 287.9 L838.9 284.8 L839.0 281.7 L839.1 278.6 L839.2 275.6 L839.3 272.5 L839.4 269.4 L839.5 266.4 L839.6 263.3 L839.6 260.2 L839.7 257.1 L839.8 254.1 L839.9 251.0 L840.0 247.9 L840.2 244.8 L840.3 241.8 L840.4 238.7 L840.6 235.6 L840.7 232.5 L840.8 229.5 L841.0 226.4 L841.1 223.3 L841.2 220.2 L841.3 217.2 L841.4 213.9 L841.5 210.8 L841.4 207.9 L841.7 204.7 L841.6 201.5 L842.0 198.4 L841.7 195.1 L842.1 192.2 L842.5 189.0 L842.6 186.0 L843.1 183.2 L843.4 180.3 L844.4 177.6 L844.7 175.2 L844.8 172.5 L846.2 169.5 L846.6 167.3 L847.2 164.2 L847.8 161.6 L848.5 158.8 L849.6 155.8 L849.8 151.9 L849.9 148.8 L850.7 145.0 L850.6 141.6 L851.2 138.2 L851.9 134.6 L852.1 132.3 L853.5 128.8 L854.6 126.5 L855.2 123.0 L856.0 120.8 L857.3 118.2 L859.6 115.5 L862.2 113.7 L864.0 111.5 L867.4 109.9 L870.2 108.5 L872.0 106.6 L875.6 105.0 L877.8 104.3 L880.6 102.1 L883.2 100.6 L885.3 97.5 L888.0 96.1 L890.4 93.3 L891.7 91.5 L893.9 88.9 L895.8 86.5 L898.4 84.6 L900.2 82.5 L903.4 81.3 L905.5 79.8 L907.8 77.9 L911.6 76.1 L913.8 75.8 L917.2 74.6 L921.1 74.9 L924.2 74.0 L927.6 73.6 L931.0 72.9 L934.5 72.9 L937.0 72.7 L940.8 72.2 L943.4 71.8 L946.8 70.5 L949.9 69.8 L952.3 69.3 L955.6 68.2 L957.7 68.1 L960.3 67.4 L963.3 66.5 L966.5 66.7 L969.7 65.3 L972.7 65.0 L974.9 64.4 L978.8 64.3 L982.1 63.0 L984.6 63.0 L987.6 63.2 L990.6 62.6 L994.0 62.9 L996.9 62.4 L999.4 62.2 L1002.6 62.6 L1006.4 61.9 L1009.5 62.9 L1013.0 62.5 L1015.8 62.8 L1019.1 63.6 L1023.0 63.7 L1026.5 62.7 L1029.8 63.0 L1032.3 62.6 L1035.7 61.3 L1039.5 61.3 L1041.5 61.5 L1045.3 61.8 L1047.8 61.1 L1050.2 61.3 L1053.6 60.2 L1056.1 60.5 L1058.4 59.3 L1061.5 59.1 L1063.8 57.8 L1066.5 57.7 L1069.2 56.5 L1072.9 56.0 L1075.2 56.1 L1079.1 56.0 L1082.7 55.8 L1085.6 56.1 L1089.6 56.3 L1092.4 56.7 L1096.6 57.5 L1099.4 57.9 L1103.7 57.7 L1106.9 58.2 L1109.9 57.8 L1112.4 58.4 L1115.7 58.1 L1119.1 57.9 L1121.8 57.4 L1124.6 57.2 L1127.4 56.7 L1129.6 56.2 L1132.2 55.2 L1135.6 55.2 L1138.6 55.1 L1140.8 55.1 L1144.5 55.1 L1147.3 55.1 L1150.2 55.1 L1153.6 55.1 L1157.0 55.1 L1160.3 55.4 L1163.4 55.7 L1166.7 55.6 L1170.2 55.9 L1173.3 56.0 L1176.3 55.8 L1179.4 56.0 L1182.3 55.9 L1185.5 56.0 L1188.6 55.9 L1191.5 55.6 L1194.4 55.4 L1197.5 55.3 L1200.6 55.4 L1203.6 55.3 L1206.7 55.2 L1209.7 55.2 L1212.7 55.2 L1215.8 55.1 L1218.9 55.2 L1222.0 55.2 L1225.1 55.2 L1228.2 55.1 L1231.3 55.1 L1234.3 55.1 L1237.4 55.1"/>
<path d="M836.0 459.6 L836.0 456.5 L836.1 453.5 L836.1 450.4 L836.1 447.3 L836.2 444.3 L836.2 441.2 L836.3 438.1 L836.3 435.1 L836.3 432.0 L836.4 428.9 L836.4 425.8 L836.4 422.8 L836.5 419.7 L836.5 416.6 L836.5 413.6 L836.6 410.5 L836.6 407.4 L836.7 404.4 L836.7 401.3 L836.7 398.2 L836.8 395.2 L836.8 392.1 L836.9 389.0 L836.9 385.9 L836.9 382.8 L837.0 379.8 L837.0 376.7 L837.1 373.6 L837.1 370.5 L837.1 367.4 L837.2 364.4 L837.2 361.3 L837.3 358.2 L837.3 355.1 L837.4 352.0 L837.4 349.0 L837.4 345.9 L837.5 342.8 L837.5 339.7 L837.6 336.6 L837.6 333.6 L837.7 330.5 L837.7 327.4 L837.7 324.3 L837.8 321.2 L837.8 318.2 L837.9 315.1 L837.9 312.0 L837.9 308.9 L838.0 305.9 L838.0 302.8 L838.1 299.7 L838.2 296.6 L838.2 293.5 L838.3 290.4 L838.4 287.4 L838.5 284.3 L838.6 281.2 L838.7 278.1 L838.7 275.0 L838.8 271.9 L838.9 268.9 L839.0 265.8 L839.1 262.7 L839.2 259.6 L839.2 256.5 L839.3 253.4 L839.4 250.4 L839.5 247.3 L839.6 244.2 L839.7 241.1 L839.9 238.0 L840.0 234.9 L840.1 231.9 L840.2 228.8 L840.4 225.7 L840.4 222.6 L840.6 219.5 L840.5 216.5 L840.9 213.3 L840.8 210.3 L841.1 207.0 L841.2 203.9 L841.1 201.0 L841.5 197.7 L841.3 194.6 L841.7 191.8 L842.1 189.3 L842.5 186.1 L843.5 183.6 L843.5 180.7 L843.9 178.0 L843.8 174.6 L844.0 171.0 L843.2 167.5 L843.1 163.8 L844.1 160.4 L844.7 157.5 L844.9 154.8 L847.2 153.4 L847.8 150.3 L849.0 148.0 L849.7 144.8 L850.6 141.4 L850.5 138.5 L851.7 134.5 L852.5 132.7 L853.9 129.9 L855.7 126.8 L856.3 124.2 L858.2 122.0 L859.2 119.3 L859.9 116.4 L861.1 113.2 L863.1 110.7 L864.4 108.1 L867.2 106.0 L869.3 104.2 L872.4 103.1 L876.3 101.4 L878.6 100.0 L881.0 98.3 L883.3 95.6 L884.5 92.3 L886.9 90.1 L889.1 88.5 L891.9 86.0 L894.4 84.9 L897.4 83.7 L901.2 82.9 L904.0 81.2 L906.8 80.3 L908.9 78.5 L911.6 77.2 L914.2 76.6 L917.6 75.7 L920.4 74.8 L924.7 73.9 L927.3 73.5 L930.3 72.2 L933.7 71.8 L935.6 70.6 L938.4 69.7 L940.2 68.0 L943.1 66.5 L946.1 65.8 L949.9 65.9 L953.1 65.8 L956.6 66.1 L960.7 66.4 L963.5 65.8 L966.8 65.5 L968.4 64.7 L970.9 64.1 L974.6 62.6 L977.3 63.1 L981.1 62.9 L984.4 62.3 L987.9 62.9 L990.6 62.1 L994.0 63.0 L996.5 62.3 L999.0 62.2 L1002.9 61.3 L1005.9 61.8 L1008.9 62.3 L1012.0 62.0 L1015.6 63.0 L1019.6 62.5 L1022.5 62.6 L1025.1 61.9 L1027.5 61.2 L1029.7 59.5 L1032.2 58.6 L1036.1 58.1 L1039.2 58.5 L1042.3 58.6 L1045.7 59.9 L1049.3 59.7 L1052.8 59.6 L1055.8 59.7 L1058.1 59.5 L1061.3 59.3 L1063.8 58.8 L1067.3 58.0 L1070.0 57.5 L1073.9 57.2 L1076.9 58.1 L1080.0 57.7 L1083.0 57.3 L1085.8 56.5 L1088.5 56.0 L1092.0 55.8 L1094.2 56.1 L1097.6 56.4 L1101.9 57.0 L1105.2 57.2 L1108.9 57.5 L1111.8 57.5 L1114.8 56.7 L1117.1 56.6 L1120.3 55.7 L1123.1 55.7 L1125.9 55.2 L1128.8 55.2 L1132.5 55.6 L1135.5 55.5 L1139.2 55.7 L1141.8 55.9 L1144.7 55.7 L1147.7 55.8 L1150.8 55.3 L1153.8 55.1 L1157.2 55.6 L1160.0 55.6 L1163.7 55.9 L1167.1 56.1 L1170.1 55.6 L1173.1 55.9 L1175.8 55.7 L1178.5 55.2 L1181.4 55.1 L1184.8 55.1 L1187.8 55.1 L1190.9 55.2 L1194.2 55.4 L1197.5 55.5 L1200.6 55.5 L1203.6 55.4 L1206.7 55.4 L1209.6 55.3 L1212.6 55.1 L1215.7 55.1 L1218.9 55.2 L1222.0 55.1 L1225.1 55.2 L1228.2 55.2 L1231.3 55.2 L1234.3 55.1 L1237.4 55.1"/>
<path d="M836.0 459.6 L836.0 456.5 L836.0 453.4 L836.1 450.3 L836.1 447.2 L836.1 444.2 L836.1 441.1 L836.2 438.0 L836.2 434.9 L836.2 431.8 L836.2 428.7 L836.3 425.6 L836.3 422.5 L836.3 419.4 L836.3 416.4 L836.3 413.3 L836.4 410.2 L836.4 407.1 L836.4 404.0 L836.4 400.9 L836.5 397.8 L836.5 394.7 L836.5 391.6 L836.5 388.5 L836.6 385.4 L836.6 382.3 L836.6 379.2 L836.7 376.1 L836.7 373.0 L836.7 370.0 L836.7 366.9 L836.8 363.8 L836.8 360.7 L836.8 357.6 L836.8 354.5 L836.9 351.4 L836.9 348.3 L836.9 345.2 L836.9 342.1 L837.0 339.0 L837.0 335.9 L837.0 332.8 L837.1 329.7 L837.1 326.6 L837.1 323.5 L837.1 320.4 L837.2 317.3 L837.2 314.2 L837.2 311.1 L837.2 308.0 L837.3 304.9 L837.3 301.8 L837.3 298.7 L837.4 295.6 L837.5 292.5 L837.5 289.4 L837.6 286.3 L837.7 283.2 L837.7 280.1 L837.8 277.0 L837.9 273.9 L837.9 270.8 L838.0 267.7 L838.1 264.6 L838.1 261.5 L838.2 258.4 L838.3 255.3 L838.3 252.2 L838.4 249.1 L838.5 246.0 L838.6 242.9 L838.7 239.8 L838.8 236.7 L838.9 233.6 L838.9 230.5 L839.1 227.4 L839.1 224.3 L839.3 221.2 L839.3 218.1 L839.2 214.8 L839.4 211.8 L839.4 208.5 L839.5 205.3 L839.5 202.6 L840.0 199.7 L840.3 196.8 L840.7 193.9 L841.5 191.3 L842.0 188.2 L842.1 185.9 L842.7 182.8 L842.7 179.2 L842.5 175.7 L842.0 172.1 L841.7 168.7 L841.4 165.6 L841.6 162.3 L842.1 158.4 L841.9 155.4 L842.7 153.1 L844.4 150.2 L845.4 147.2 L846.1 145.2 L847.0 142.9 L848.0 139.2 L849.6 137.1 L849.5 134.2 L850.9 130.3 L851.9 127.5 L852.9 125.0 L854.2 122.6 L855.3 119.6 L856.4 117.2 L858.4 114.3 L860.5 112.5 L861.6 109.3 L864.0 107.2 L865.9 104.9 L867.6 102.4 L870.2 100.6 L872.4 97.6 L873.8 95.6 L876.5 93.0 L878.7 90.8 L880.5 89.5 L883.1 87.9 L886.5 85.4 L889.6 84.8 L892.4 83.3 L896.1 82.3 L899.7 80.8 L902.5 79.2 L905.0 77.2 L907.3 76.3 L909.9 73.8 L912.3 72.5 L915.2 71.4 L917.9 70.2 L921.0 69.8 L923.3 69.6 L927.5 69.0 L930.6 68.3 L934.5 69.0 L938.2 68.7 L940.7 68.1 L944.1 67.4 L947.5 66.5 L949.3 65.2 L952.1 64.3 L954.5 63.0 L956.8 62.4 L960.2 61.1 L963.0 60.9 L965.9 60.7 L968.9 60.5 L971.6 60.2 L975.3 59.7 L978.7 60.4 L981.9 59.8 L986.0 60.6 L988.2 59.8 L991.2 60.0 L995.4 59.3 L997.9 59.5 L1001.2 59.6 L1004.4 59.1 L1008.0 60.1 L1010.4 59.5 L1014.8 60.8 L1017.8 61.3 L1021.5 61.0 L1024.0 60.9 L1027.4 60.6 L1030.1 60.2 L1032.7 58.2 L1035.1 58.5 L1037.8 57.2 L1040.8 57.4 L1043.0 55.9 L1045.8 55.7 L1049.7 56.5 L1052.4 56.7 L1056.6 57.6 L1059.5 57.4 L1063.7 57.8 L1067.1 57.9 L1070.3 57.9 L1073.4 57.4 L1076.2 57.5 L1078.6 56.7 L1081.4 56.7 L1083.8 55.5 L1087.8 55.6 L1090.0 55.5 L1093.5 55.1 L1096.5 55.1 L1100.3 55.8 L1104.6 56.8 L1107.6 56.9 L1111.1 57.3 L1114.1 57.1 L1117.0 56.6 L1119.9 56.5 L1122.7 56.3 L1125.3 55.7 L1128.5 55.7 L1131.6 55.1 L1134.4 55.1 L1137.7 55.1 L1140.8 55.1 L1143.8 55.1 L1147.3 55.4 L1150.0 55.6 L1153.2 55.1 L1156.5 55.3 L1159.8 55.1 L1162.8 55.2 L1165.4 55.1 L1168.7 55.1 L1171.6 55.1 L1174.8 55.3 L1178.3 55.2 L1181.5 55.4 L1184.9 55.7 L1188.3 55.9 L1191.2 56.0 L1194.4 55.7 L1197.6 55.6 L1200.7 55.8 L1203.6 55.5 L1206.5 55.2 L1209.4 55.3 L1212.3 55.1 L1215.4 55.1 L1218.5 55.1 L1221.6 55.1 L1224.8 55.1 L1228.0 55.1 L1231.2 55.1 L1234.3 55.1 L1237.4 55.1"/>
<path d="M836.0 459.6 L836.0 456.5 L836.0 453.4 L836.0 450.3 L836.0 447.2 L836.0 444.1 L836.1 440.9 L836.1 437.8 L836.1 434.7 L836.1 431.6 L836.1 428.5 L836.1 425.4 L836.1 422.3 L836.1 419.2 L836.1 416.1 L836.1 413.0 L836.2 409.8 L836.2 406.7 L836.2 403.6 L836.2 400.5 L836.2 397.4 L836.2 394.3 L836.2 391.2 L836.2 388.1 L836.2 384.9 L836.3 381.8 L836.3 378.7 L836.3 375.6 L836.3 372.5 L836.3 369.4 L836.3 366.3 L836.3 363.2 L836.3 360.0 L836.3 356.9 L836.4 353.8 L836.4 350.7 L836.4 347.6 L836.4 344.5 L836.4 341.4 L836.4 338.3 L836.4 335.1 L836.4 332.0 L836.5 328.9 L836.5 325.8 L836.5 322.7 L836.5 319.6 L836.5 316.5 L836.5 313.4 L836.5 310.2 L836.5 307.1 L836.5 304.0 L836.6 300.9 L836.6 297.8 L836.6 294.7 L836.7 291.5 L836.7 288.4 L836.8 285.3 L836.8 282.2 L836.9 279.1 L836.9 275.9 L837.0 272.8 L837.0 269.7 L837.1 266.6 L837.1 263.5 L837.2 260.3 L837.2 257.2 L837.3 254.1 L837.3 251.0 L837.4 247.9 L837.5 244.7 L837.5 241.6 L837.6 238.5 L837.7 235.4 L837.7 232.3 L837.8 229.1 L837.8 226.0 L837.8 222.9 L837.8 219.6 L837.8 216.6 L838.0 213.3 L838.2 210.5 L838.3 207.4 L838.6 204.6 L839.1 201.6 L839.2 198.3 L839.1 195.2 L838.8 192.0 L839.1 188.9 L838.9 185.8 L839.3 182.7 L839.4 179.1 L839.8 176.8 L840.1 173.6 L839.6 170.7 L840.1 167.5 L840.7 163.9 L840.1 161.5 L841.6 157.6 L841.9 155.5 L843.0 152.4 L844.4 149.1 L844.5 146.4 L846.0 144.0 L845.8 141.3 L847.1 137.7 L847.8 134.3 L848.1 132.2 L848.5 129.0 L850.2 126.3 L850.4 122.8 L851.0 119.9 L852.6 116.6 L853.2 113.4 L853.9 110.7 L855.7 108.1 L856.8 104.8 L859.3 102.9 L862.1 100.6 L864.9 99.6 L867.6 97.8 L870.5 95.9 L873.0 94.4 L875.2 92.4 L876.9 89.8 L879.3 87.4 L881.6 86.1 L884.4 84.9 L888.1 82.9 L890.9 81.5 L894.1 79.7 L896.5 78.7 L899.4 76.3 L901.4 73.5 L903.7 71.6 L905.7 69.6 L909.2 69.9 L913.2 69.7 L916.4 69.4 L920.9 69.4 L924.2 69.3 L926.8 68.4 L929.2 67.2 L931.7 65.1 L934.5 64.3 L937.0 62.8 L939.7 62.5 L943.9 62.1 L947.8 61.5 L951.4 62.5 L953.8 61.4 L957.4 60.9 L959.2 60.5 L960.7 58.6 L962.7 57.8 L966.2 56.4 L969.4 56.1 L973.4 57.5 L977.6 57.6 L981.4 59.4 L986.0 59.9 L989.2 59.9 L991.8 59.1 L993.5 58.9 L996.2 57.2 L998.3 56.5 L1001.6 56.1 L1005.1 56.7 L1008.9 57.5 L1012.4 58.8 L1016.2 59.0 L1020.0 58.4 L1021.6 57.9 L1024.4 56.6 L1026.1 55.1 L1028.2 55.1 L1031.8 55.1 L1035.7 55.3 L1039.3 56.0 L1043.5 57.0 L1048.1 58.5 L1051.1 58.7 L1054.5 58.4 L1056.1 57.3 L1058.4 56.7 L1061.5 55.3 L1064.8 55.7 L1067.5 55.1 L1071.7 55.6 L1075.6 56.1 L1079.1 56.6 L1081.8 56.5 L1084.5 55.6 L1086.5 55.1 L1089.1 55.1 L1091.6 55.1 L1094.3 55.1 L1098.2 55.1 L1102.1 55.1 L1106.3 55.9 L1110.4 56.9 L1113.4 57.1 L1116.6 56.2 L1119.5 56.6 L1121.9 55.7 L1124.9 55.7 L1127.6 55.1 L1130.7 55.1 L1134.0 55.4 L1137.1 55.1 L1140.6 55.7 L1143.7 55.7 L1146.9 55.6 L1149.3 55.1 L1152.4 55.1 L1155.6 55.1 L1158.8 55.1 L1161.8 55.1 L1165.0 55.1 L1168.7 55.6 L1171.7 55.5 L1175.2 55.6 L1178.2 55.4 L1181.3 55.3 L1184.3 55.3 L1187.6 55.4 L1190.5 55.2 L1193.7 55.2 L1196.8 55.3 L1199.7 55.2 L1202.9 55.2 L1205.9 55.1 L1209.0 55.1 L1212.2 55.1 L1215.4 55.1 L1218.5 55.1 L1221.7 55.1 L1224.9 55.1 L1228.0 55.1 L1231.1 55.1 L1234.3 55.1 L1237.4 55.1"/>
</g>
<g fill="none" stroke="#ff7f0e" stroke-width="2.7" stroke-linejoin="round" stroke-linecap="butt">
<path d="M836.0 459.6 L836.0 455.6 L836.1 451.5 L836.1 447.5 L836.1 443.4 L836.1 439.4 L836.2 435.3 L836.2 431.2 L836.2 427.2 L836.2 423.2 L836.3 419.1 L836.3 415.1 L836.3 411.0 L836.3 407.0 L836.4 402.9 L836.4 398.9 L836.4 394.8 L836.4 390.8 L836.5 386.7 L836.5 382.6 L836.5 378.6 L836.5 374.6 L836.6 370.5 L836.6 366.4 L836.6 362.4 L836.6 358.4 L836.7 354.3 L836.7 350.2 L836.7 346.2 L836.7 342.1 L836.8 338.1 L836.8 334.1 L836.8 330.0 L837.0 325.8 L837.2 321.6 L837.4 317.4 L837.5 313.2 L837.7 309.0 L837.9 304.8 L838.1 300.6 L838.7 296.5 L839.3 292.4 L839.9 288.2 L840.4 284.1 L841.0 280.0 L841.6 275.9 L842.2 271.7 L842.8 267.6 L843.4 263.4 L844.0 259.3 L845.0 255.4 L846.0 251.4 L847.0 247.5 L848.0 243.6 L849.0 239.6 L849.9 235.7 L850.7 231.8 L851.4 227.8 L852.1 223.9 L852.9 219.9 L853.7 216.0 L854.4 211.9 L855.3 207.8 L856.3 203.8 L857.2 199.8 L858.3 195.9 L859.4 191.9 L860.1 187.9 L861.1 183.9 L862.2 179.6 L862.5 175.0 L863.0 170.4 L865.8 167.8 L867.3 164.0 L869.6 161.0 L869.5 156.9 L870.1 151.8 L871.9 148.3 L874.1 146.0 L876.2 143.4 L878.8 140.7 L881.2 138.9 L883.8 136.3 L886.4 132.8 L889.2 130.0 L892.8 126.0 L895.7 122.6 L901.0 122.3 L904.9 121.6 L909.4 120.9 L912.6 120.7 L916.8 119.5 L920.6 117.7 L922.2 114.5 L924.9 111.1 L927.8 108.6 L931.3 105.1 L934.7 102.2 L938.1 99.8 L940.9 99.3 L946.2 99.5 L950.7 99.5 L954.6 97.7 L958.1 96.4 L962.4 95.2 L966.3 94.3 L970.1 93.3 L970.8 89.7 L973.4 87.0 L974.3 83.7 L978.5 81.2 L983.5 78.5 L987.1 78.0 L990.5 78.1 L993.7 77.7 L997.9 74.9 L1000.6 72.7 L1004.5 71.2 L1008.2 69.9 L1012.6 70.3 L1017.5 71.3 L1021.2 71.5 L1025.3 71.4 L1030.5 71.8 L1034.1 72.2 L1036.8 71.0 L1039.6 70.6 L1043.6 69.0 L1047.4 68.0 L1051.7 66.9 L1055.4 66.7 L1059.1 66.3 L1062.2 65.7 L1067.8 64.7 L1072.1 64.6 L1077.4 63.9 L1080.4 63.9 L1083.3 62.6 L1086.8 62.5 L1091.2 62.5 L1095.5 62.2 L1099.4 61.6 L1103.3 62.0 L1107.3 62.1 L1111.9 61.5 L1115.2 61.4 L1119.6 61.3 L1122.6 60.2 L1126.0 60.2 L1129.6 59.0 L1133.5 58.4 L1137.0 57.6 L1140.3 57.2 L1144.4 57.1 L1148.3 57.3 L1151.9 57.0 L1156.5 57.4 L1160.4 57.1 L1164.3 57.3 L1168.5 57.5 L1172.7 57.4 L1176.4 57.1 L1180.2 56.6 L1184.0 56.7 L1188.2 56.6 L1192.2 56.3 L1196.3 56.3 L1200.6 56.0 L1204.5 56.0 L1208.7 55.9 L1212.7 55.7 L1216.8 55.6 L1220.8 55.5 L1225.0 55.3 L1229.1 55.2 L1233.2 55.2 L1237.4 55.1"/>
<path d="M836.0 459.6 L836.0 456.6 L836.0 453.7 L836.1 450.7 L836.1 447.8 L836.1 444.8 L836.1 441.8 L836.2 438.9 L836.2 435.9 L836.2 432.9 L836.2 430.0 L836.2 427.0 L836.3 424.1 L836.3 421.1 L836.3 418.1 L836.3 415.2 L836.3 412.2 L836.4 409.2 L836.4 406.3 L836.4 403.3 L836.4 400.4 L836.5 397.4 L836.5 394.4 L836.5 391.5 L836.5 388.5 L836.5 385.5 L836.6 382.6 L836.6 379.6 L836.6 376.7 L836.6 373.7 L836.7 370.7 L836.7 367.8 L836.7 364.8 L836.7 361.8 L836.7 358.9 L836.8 355.9 L836.8 353.0 L836.8 350.0 L836.9 347.0 L837.0 343.9 L837.1 340.9 L837.1 337.8 L837.2 334.8 L837.3 331.8 L837.4 328.7 L837.5 325.7 L837.6 322.7 L837.7 319.6 L837.7 316.6 L837.8 313.5 L837.9 310.5 L838.0 307.5 L838.1 304.4 L838.2 301.4 L838.2 298.3 L838.3 295.3 L838.4 292.3 L838.5 289.2 L838.6 286.2 L838.7 283.2 L838.8 280.1 L838.8 277.1 L838.9 274.0 L839.0 271.0 L839.2 268.1 L839.4 265.1 L839.6 262.2 L839.8 259.2 L840.0 256.3 L840.2 253.4 L840.4 250.4 L840.6 247.5 L840.8 244.5 L841.0 241.6 L841.3 238.6 L841.6 235.7 L841.9 232.7 L842.2 229.8 L842.5 226.8 L842.8 223.8 L843.1 220.8 L843.5 217.9 L843.7 215.0 L844.0 211.9 L844.3 208.9 L844.9 205.8 L845.1 202.8 L846.0 200.1 L846.8 197.2 L847.5 194.6 L847.9 192.1 L848.5 189.0 L849.0 186.1 L849.3 183.3 L849.9 179.5 L850.1 176.1 L850.7 172.9 L851.7 170.4 L852.7 167.1 L855.2 165.1 L856.9 162.0 L858.2 159.8 L860.0 156.1 L860.9 153.5 L863.1 151.6 L865.5 150.0 L867.2 147.4 L869.8 145.4 L872.1 142.6 L873.5 140.0 L874.5 137.6 L875.9 134.4 L878.1 131.6 L879.9 128.4 L881.7 126.5 L883.4 123.8 L885.5 121.6 L886.1 118.9 L887.1 115.7 L889.0 112.9 L889.9 110.8 L893.3 109.2 L895.7 107.0 L898.6 106.2 L902.4 105.1 L906.2 104.2 L909.2 102.1 L910.1 99.7 L910.5 97.2 L912.3 94.3 L912.5 90.3 L915.5 89.4 L918.0 87.1 L921.5 86.1 L924.1 85.1 L926.8 83.9 L929.5 82.6 L931.7 81.1 L935.8 80.1 L939.3 79.3 L943.5 78.1 L946.6 77.5 L950.5 77.8 L952.4 75.9 L954.8 74.7 L957.3 72.5 L959.4 70.8 L961.2 69.3 L963.6 67.8 L965.9 68.1 L969.2 66.8 L973.1 66.3 L975.1 66.4 L978.5 65.5 L981.4 64.6 L984.4 65.0 L988.1 64.8 L991.8 64.7 L995.3 64.4 L998.2 64.8 L1002.3 64.4 L1005.1 64.7 L1007.6 63.0 L1009.2 62.7 L1011.7 60.9 L1014.7 60.9 L1017.9 60.5 L1020.9 60.0 L1024.7 60.0 L1027.5 59.9 L1030.9 60.5 L1033.9 59.9 L1036.3 59.8 L1039.3 59.7 L1043.1 59.6 L1046.5 59.5 L1049.6 59.9 L1053.2 59.6 L1056.1 60.0 L1059.2 59.4 L1061.8 59.3 L1064.7 58.0 L1067.3 57.6 L1069.4 57.9 L1073.0 57.4 L1075.6 57.8 L1079.2 58.0 L1082.2 57.6 L1085.9 58.0 L1088.6 58.0 L1090.2 56.9 L1093.1 56.5 L1095.5 56.8 L1098.9 56.0 L1102.1 56.7 L1105.8 56.6 L1108.4 56.4 L1111.9 56.9 L1115.2 56.5 L1117.2 56.6 L1120.7 56.1 L1123.4 56.1 L1127.1 56.5 L1129.9 56.6 L1133.2 56.5 L1136.8 57.1 L1139.3 56.6 L1142.4 56.1 L1144.8 56.1 L1147.1 55.5 L1149.9 55.3 L1152.7 55.1 L1156.2 55.1 L1159.3 55.3 L1162.3 55.1 L1165.7 55.2 L1168.7 55.3 L1171.8 55.6 L1174.6 55.7 L1178.1 55.5 L1181.1 55.6 L1184.3 56.0 L1187.2 55.8 L1190.1 55.7 L1193.1 55.9 L1195.8 55.6 L1198.5 55.1 L1201.3 55.2 L1204.2 55.1 L1207.2 55.1 L1210.2 55.1 L1213.3 55.1 L1216.5 55.1 L1219.5 55.1 L1222.5 55.2 L1225.4 55.2 L1228.5 55.1 L1231.4 55.2 L1234.4 55.1 L1237.4 55.1"/>
<path d="M836.0 459.6 L836.0 456.6 L836.0 453.7 L836.1 450.7 L836.1 447.8 L836.1 444.8 L836.1 441.8 L836.2 438.9 L836.2 435.9 L836.2 432.9 L836.2 430.0 L836.2 427.0 L836.3 424.1 L836.3 421.1 L836.3 418.1 L836.3 415.2 L836.3 412.2 L836.4 409.2 L836.4 406.3 L836.4 403.3 L836.4 400.4 L836.5 397.4 L836.5 394.4 L836.5 391.5 L836.5 388.5 L836.5 385.5 L836.6 382.6 L836.6 379.6 L836.6 376.7 L836.6 373.7 L836.7 370.7 L836.7 367.8 L836.7 364.8 L836.7 361.8 L836.7 358.9 L836.8 355.9 L836.8 353.0 L836.8 350.0 L836.9 347.0 L836.9 343.9 L837.0 340.9 L837.1 337.8 L837.1 334.8 L837.2 331.7 L837.3 328.7 L837.3 325.7 L837.4 322.6 L837.5 319.6 L837.5 316.5 L837.6 313.5 L837.7 310.4 L837.7 307.4 L837.8 304.3 L837.8 301.3 L837.9 298.3 L838.0 295.2 L838.0 292.2 L838.1 289.1 L838.2 286.1 L838.2 283.0 L838.3 280.0 L838.4 277.1 L838.6 274.2 L838.7 271.2 L838.8 268.3 L838.9 265.4 L839.1 262.5 L839.2 259.6 L839.3 256.7 L839.4 253.8 L839.6 250.8 L839.7 247.9 L839.8 245.0 L840.1 242.0 L840.4 239.0 L840.6 236.0 L840.9 233.0 L841.2 230.0 L841.4 227.0 L841.7 224.0 L842.0 221.0 L842.1 218.0 L842.4 214.9 L842.8 211.8 L843.3 209.2 L843.7 206.2 L844.3 203.1 L844.4 200.3 L844.7 197.3 L845.2 194.1 L845.3 191.0 L845.9 188.1 L846.1 184.9 L847.4 182.5 L848.5 179.4 L849.8 177.0 L850.6 174.9 L851.8 171.8 L852.2 169.2 L853.3 166.0 L854.2 163.8 L854.8 160.7 L856.3 157.4 L857.9 154.6 L859.0 151.8 L860.4 149.4 L861.3 147.1 L862.3 144.3 L862.6 140.7 L863.9 138.1 L864.5 134.6 L865.6 131.3 L866.5 128.7 L867.7 125.8 L868.4 123.8 L870.4 120.8 L871.9 119.9 L875.0 117.0 L877.1 115.7 L879.9 113.0 L882.2 111.3 L884.1 108.2 L885.5 106.8 L887.4 104.5 L889.7 102.7 L891.7 99.7 L893.2 98.4 L895.4 96.2 L898.2 94.1 L901.0 92.8 L903.7 90.7 L906.3 89.5 L909.6 87.5 L911.7 85.5 L914.1 84.2 L916.9 82.1 L918.2 81.0 L921.8 79.5 L925.0 78.6 L927.5 78.8 L930.9 77.7 L933.5 76.8 L936.1 76.1 L939.6 75.9 L941.8 75.6 L945.2 74.5 L948.4 73.3 L950.5 72.5 L953.4 71.1 L955.7 71.2 L959.9 70.6 L962.5 70.3 L965.2 69.0 L969.0 69.2 L971.7 67.9 L974.4 66.7 L976.6 65.0 L979.2 64.5 L981.4 63.0 L984.5 62.0 L986.9 61.0 L990.8 61.5 L993.7 60.7 L997.6 61.9 L1001.3 61.9 L1005.0 62.2 L1008.5 61.7 L1011.8 62.2 L1015.3 61.5 L1018.0 61.5 L1021.0 60.7 L1024.1 59.7 L1027.0 59.6 L1030.0 59.1 L1032.7 59.5 L1036.2 59.9 L1039.2 59.2 L1041.6 58.5 L1043.4 57.9 L1046.6 57.7 L1048.6 56.9 L1052.1 57.5 L1054.8 56.9 L1058.5 57.3 L1061.5 57.2 L1065.0 57.2 L1067.3 58.0 L1071.2 57.2 L1074.5 57.5 L1076.7 56.8 L1079.0 57.3 L1082.5 56.7 L1085.2 56.3 L1088.6 57.1 L1091.1 56.5 L1095.3 57.3 L1098.8 57.1 L1101.8 57.9 L1104.7 58.2 L1107.9 58.0 L1111.2 57.3 L1114.0 57.5 L1115.9 56.2 L1118.7 56.0 L1121.6 55.6 L1124.1 55.2 L1126.7 55.2 L1129.9 55.4 L1133.2 55.8 L1137.0 55.9 L1139.8 55.6 L1143.4 56.1 L1146.7 55.9 L1149.5 56.5 L1152.4 56.2 L1155.5 56.0 L1159.0 56.3 L1162.1 56.1 L1165.3 56.5 L1168.3 56.4 L1171.0 56.4 L1174.1 56.3 L1176.8 55.9 L1179.6 55.7 L1182.5 55.8 L1185.6 55.5 L1188.3 55.3 L1191.7 55.4 L1194.7 55.3 L1197.8 55.3 L1200.9 55.5 L1204.0 55.4 L1207.0 55.5 L1210.1 55.4 L1213.1 55.4 L1216.1 55.3 L1219.1 55.3 L1222.2 55.2 L1225.2 55.2 L1228.3 55.2 L1231.3 55.2 L1234.4 55.1 L1237.4 55.1"/>
<path d="M836.0 459.6 L836.0 456.6 L836.1 453.5 L836.1 450.5 L836.1 447.5 L836.1 444.5 L836.2 441.4 L836.2 438.4 L836.2 435.4 L836.3 432.3 L836.3 429.3 L836.3 426.3 L836.4 423.3 L836.4 420.2 L836.4 417.2 L836.4 414.2 L836.5 411.1 L836.5 408.1 L836.5 405.1 L836.6 402.1 L836.6 399.0 L836.6 396.0 L836.7 393.0 L836.7 389.9 L836.7 386.9 L836.8 383.8 L836.8 380.8 L836.9 377.8 L836.9 374.7 L836.9 371.7 L837.0 368.7 L837.0 365.6 L837.0 362.6 L837.1 359.5 L837.1 356.5 L837.2 353.5 L837.2 350.4 L837.3 347.4 L837.3 344.4 L837.4 341.3 L837.4 338.3 L837.5 335.2 L837.6 332.2 L837.6 329.1 L837.7 326.1 L837.8 323.0 L837.8 320.0 L837.9 317.0 L838.0 313.9 L838.0 310.9 L838.1 307.8 L838.1 304.8 L838.2 301.7 L838.3 298.7 L838.4 295.7 L838.5 292.6 L838.6 289.6 L838.6 286.5 L838.7 283.5 L838.8 280.5 L838.9 277.4 L839.1 274.4 L839.2 271.4 L839.3 268.5 L839.4 265.5 L839.6 262.5 L839.7 259.5 L839.8 256.5 L839.9 253.5 L840.1 250.5 L840.2 247.5 L840.4 244.5 L840.6 241.5 L840.8 238.5 L841.1 235.5 L841.3 232.6 L841.5 229.6 L841.7 226.5 L841.9 223.6 L842.3 220.6 L842.6 217.8 L842.9 215.0 L843.3 212.0 L843.6 209.0 L844.1 205.8 L844.2 202.6 L844.3 199.3 L844.6 196.2 L844.3 192.8 L844.9 189.6 L845.3 186.2 L845.9 183.6 L846.4 180.7 L847.4 178.5 L847.9 175.2 L849.3 172.6 L850.4 170.7 L851.3 167.2 L851.4 164.2 L852.4 161.2 L852.5 158.2 L853.3 155.8 L855.0 152.6 L855.6 149.3 L856.0 146.2 L857.0 143.2 L858.3 141.0 L859.4 138.3 L861.2 135.2 L862.0 132.4 L864.2 129.8 L865.2 126.3 L865.8 124.0 L867.3 120.9 L869.4 118.1 L871.1 116.1 L874.0 114.3 L876.6 112.6 L879.0 110.2 L880.6 108.4 L882.5 106.3 L885.1 104.4 L886.9 102.8 L889.4 100.7 L891.0 98.0 L893.0 96.2 L894.8 94.0 L897.3 92.0 L900.1 89.8 L902.6 88.5 L904.9 87.1 L909.0 85.8 L911.0 85.0 L914.3 83.6 L916.7 82.0 L919.9 80.6 L922.5 79.1 L925.8 77.2 L927.4 76.2 L930.3 74.8 L934.2 74.9 L936.5 73.7 L940.2 73.7 L944.5 73.0 L947.2 73.2 L950.2 72.3 L953.7 71.8 L956.4 70.7 L958.2 68.5 L960.1 67.6 L963.2 66.1 L965.4 64.6 L967.3 63.6 L970.3 62.8 L974.4 62.9 L978.2 63.3 L981.8 63.6 L984.9 63.8 L989.2 63.8 L992.1 63.9 L996.2 63.9 L999.1 63.5 L1000.6 62.2 L1003.9 61.6 L1005.8 60.3 L1008.1 59.2 L1010.7 58.7 L1013.9 58.0 L1016.7 58.5 L1020.6 58.5 L1024.2 58.6 L1028.3 58.8 L1031.1 59.0 L1034.4 59.0 L1037.1 58.4 L1039.8 58.5 L1042.7 58.3 L1044.6 57.1 L1047.6 56.8 L1051.3 57.2 L1054.2 57.2 L1057.4 57.1 L1060.5 57.6 L1064.3 57.9 L1067.9 58.3 L1071.5 59.0 L1074.7 58.8 L1077.2 58.2 L1080.1 57.4 L1082.4 56.3 L1084.4 55.9 L1087.5 55.6 L1090.2 55.1 L1092.6 55.4 L1095.7 55.1 L1099.6 55.4 L1103.5 56.3 L1106.8 56.4 L1110.2 57.4 L1113.2 57.1 L1117.0 57.4 L1119.4 57.5 L1123.0 57.2 L1125.1 57.0 L1127.8 56.0 L1131.1 56.3 L1134.1 56.0 L1136.5 55.5 L1140.0 56.1 L1142.9 56.1 L1146.0 55.9 L1149.3 56.1 L1152.3 55.6 L1155.3 56.0 L1158.3 55.8 L1161.2 55.4 L1164.4 55.8 L1167.0 55.6 L1170.4 55.5 L1173.3 55.5 L1176.5 55.9 L1179.8 56.1 L1182.9 56.2 L1186.2 56.0 L1189.0 55.8 L1192.1 55.7 L1195.1 55.6 L1198.1 55.6 L1200.7 55.5 L1203.9 55.2 L1206.8 55.3 L1209.9 55.2 L1213.0 55.3 L1216.1 55.2 L1219.2 55.2 L1222.2 55.3 L1225.2 55.3 L1228.3 55.2 L1231.3 55.2 L1234.4 55.1 L1237.4 55.1"/>
<path d="M836.0 459.6 L836.0 456.6 L836.1 453.5 L836.1 450.5 L836.1 447.5 L836.2 444.4 L836.2 441.4 L836.3 438.4 L836.3 435.3 L836.3 432.3 L836.4 429.3 L836.4 426.2 L836.4 423.2 L836.5 420.1 L836.5 417.1 L836.6 414.1 L836.6 411.0 L836.6 408.0 L836.7 405.0 L836.7 401.9 L836.7 398.9 L836.8 395.8 L836.9 392.8 L836.9 389.7 L837.0 386.7 L837.0 383.6 L837.1 380.6 L837.1 377.5 L837.2 374.5 L837.2 371.4 L837.3 368.4 L837.3 365.3 L837.4 362.3 L837.4 359.2 L837.5 356.2 L837.6 353.1 L837.6 350.1 L837.7 347.0 L837.7 344.0 L837.8 340.9 L837.9 337.9 L837.9 334.8 L838.0 331.8 L838.0 328.7 L838.1 325.7 L838.2 322.6 L838.2 319.5 L838.3 316.5 L838.3 313.4 L838.4 310.4 L838.5 307.3 L838.5 304.3 L838.6 301.2 L838.7 298.2 L838.8 295.1 L838.9 292.1 L839.0 289.0 L839.1 286.0 L839.2 282.9 L839.4 279.9 L839.5 276.8 L839.6 273.8 L839.7 270.7 L839.8 267.7 L840.0 264.7 L840.1 261.6 L840.2 258.6 L840.3 255.6 L840.5 252.5 L840.6 249.5 L840.8 246.4 L841.0 243.4 L841.1 240.4 L841.3 237.3 L841.5 234.3 L841.8 231.3 L841.9 228.2 L842.1 225.2 L842.5 222.3 L842.6 219.2 L842.8 216.1 L843.0 213.1 L843.3 210.2 L843.4 207.2 L843.9 204.1 L844.2 201.0 L844.5 198.1 L844.5 195.4 L844.8 192.1 L845.3 188.9 L845.1 186.1 L845.8 182.7 L845.7 179.3 L846.0 177.1 L847.0 173.7 L847.5 170.9 L848.1 169.1 L848.3 166.0 L849.9 162.7 L850.0 160.4 L850.9 156.8 L850.9 153.3 L851.1 150.2 L851.4 145.8 L851.4 142.9 L852.7 140.3 L853.3 136.9 L854.8 135.2 L856.6 132.1 L859.0 130.9 L861.5 127.9 L862.4 125.3 L863.8 123.0 L866.6 121.4 L868.5 119.3 L870.1 117.5 L872.8 114.6 L875.3 112.6 L876.5 111.1 L878.6 109.1 L881.2 105.8 L883.0 103.6 L884.0 100.5 L886.0 98.3 L887.0 95.5 L889.2 93.4 L892.4 92.0 L894.8 90.7 L897.1 89.3 L901.1 87.7 L904.4 87.1 L906.3 86.5 L909.6 84.9 L912.8 82.3 L914.4 81.1 L917.0 79.7 L919.8 78.0 L922.7 77.0 L925.9 75.4 L929.4 74.6 L932.8 73.4 L934.9 73.4 L939.0 72.0 L941.4 72.0 L944.8 70.9 L947.9 70.5 L950.9 69.3 L953.8 68.7 L957.9 68.9 L960.8 67.7 L964.8 67.0 L967.1 66.8 L970.2 65.4 L972.6 64.2 L974.3 63.3 L977.2 61.6 L979.4 60.2 L981.4 59.7 L984.2 59.8 L988.0 59.7 L991.4 59.5 L994.5 60.2 L998.4 60.1 L1002.6 60.0 L1005.3 60.4 L1009.1 60.5 L1011.8 59.6 L1015.1 59.8 L1018.5 60.0 L1021.6 59.3 L1025.0 59.9 L1028.3 59.0 L1030.8 59.7 L1033.6 58.6 L1035.9 58.7 L1038.5 57.6 L1041.6 56.8 L1044.3 57.0 L1046.8 56.2 L1050.7 56.6 L1053.9 56.5 L1057.2 57.6 L1060.9 57.2 L1064.2 57.2 L1067.4 58.2 L1070.4 56.8 L1073.2 56.5 L1074.7 56.0 L1077.9 55.1 L1081.1 55.1 L1082.8 55.2 L1087.1 55.1 L1089.5 55.1 L1093.1 55.3 L1096.1 56.3 L1100.3 55.8 L1103.4 56.1 L1106.8 56.0 L1110.1 56.7 L1113.0 56.6 L1116.3 56.3 L1119.9 57.0 L1122.5 57.1 L1126.2 57.6 L1128.7 57.2 L1132.2 56.7 L1134.4 57.0 L1137.2 56.1 L1139.5 55.2 L1142.3 55.1 L1144.6 55.1 L1147.6 55.1 L1151.1 55.1 L1154.2 55.1 L1157.5 55.3 L1160.9 55.7 L1164.4 55.5 L1167.6 55.7 L1170.3 55.5 L1173.3 55.4 L1176.3 55.5 L1179.5 55.7 L1182.6 55.7 L1185.8 55.7 L1188.6 55.4 L1191.8 55.5 L1195.0 55.4 L1198.0 55.4 L1200.9 55.5 L1203.8 55.4 L1206.9 55.2 L1210.0 55.4 L1213.1 55.3 L1216.1 55.2 L1219.2 55.3 L1222.2 55.4 L1225.3 55.3 L1228.4 55.3 L1231.4 55.2 L1234.4 55.1 L1237.4 55.1"/>
</g>
<g fill="none" stroke="#2ca02c" stroke-width="2.7" stroke-linejoin="round" stroke-linecap="butt">
<path d="M836.0 459.6 L836.1 456.6 L836.1 453.6 L836.2 450.5 L836.3 447.5 L836.3 444.5 L836.4 441.5 L836.5 438.5 L836.5 435.4 L836.6 432.4 L836.7 429.4 L836.7 426.4 L836.8 423.3 L836.9 420.3 L836.9 417.3 L837.0 414.3 L837.1 411.3 L837.1 408.2 L837.2 405.2 L837.3 402.2 L837.3 399.2 L837.4 396.1 L837.5 393.1 L837.6 390.0 L837.6 387.0 L837.7 384.0 L837.8 380.9 L837.9 377.9 L837.9 374.8 L838.0 371.8 L838.1 368.8 L838.2 365.7 L838.2 362.7 L838.3 359.6 L838.4 356.6 L838.5 353.5 L838.5 350.5 L838.6 347.5 L838.7 344.4 L838.8 341.4 L838.9 338.3 L838.9 335.3 L839.0 332.2 L839.1 329.2 L839.2 326.2 L839.2 323.1 L839.3 320.1 L839.4 317.0 L839.5 314.0 L839.5 311.0 L839.6 307.9 L839.7 304.9 L839.8 301.8 L839.9 298.8 L840.0 295.8 L840.1 292.7 L840.2 289.7 L840.3 286.6 L840.5 283.6 L840.6 280.5 L840.7 277.5 L840.8 274.5 L841.0 271.4 L841.1 268.4 L841.2 265.3 L841.3 262.3 L841.4 259.2 L841.6 256.2 L841.7 253.2 L841.8 250.1 L842.0 247.1 L842.2 244.0 L842.4 241.0 L842.5 238.0 L842.7 234.9 L842.9 231.9 L843.1 228.8 L843.3 225.8 L843.4 222.7 L843.7 219.7 L844.0 216.7 L844.3 213.8 L844.4 210.7 L844.7 208.0 L845.1 204.9 L845.1 202.0 L845.5 198.7 L845.7 195.6 L845.3 192.2 L845.6 189.4 L845.4 185.7 L845.4 182.5 L845.7 179.6 L846.0 176.9 L846.5 173.7 L847.1 170.8 L847.3 168.0 L847.7 165.7 L848.2 162.7 L850.1 160.0 L850.4 157.0 L851.6 154.1 L852.2 151.1 L853.4 148.5 L854.8 145.8 L856.4 143.3 L857.4 141.2 L858.8 138.7 L860.5 135.7 L860.9 132.4 L862.5 129.9 L863.0 126.5 L863.8 124.5 L865.7 121.7 L867.8 118.4 L869.1 116.8 L871.4 114.3 L874.6 112.2 L876.4 110.8 L879.5 109.0 L881.8 106.2 L883.2 103.8 L886.3 102.1 L888.3 100.4 L889.5 98.1 L891.7 95.1 L894.0 94.1 L897.2 91.6 L899.3 90.6 L902.7 89.6 L905.2 87.8 L908.6 87.8 L911.8 86.8 L914.3 85.3 L918.1 84.2 L921.1 83.6 L923.6 82.5 L926.9 81.3 L929.8 80.8 L933.2 80.1 L935.7 78.9 L938.7 78.6 L941.0 77.7 L943.6 77.3 L946.6 75.4 L948.2 74.1 L951.0 73.3 L953.1 71.3 L955.8 70.9 L958.3 69.7 L961.0 69.1 L964.7 68.9 L968.1 68.9 L971.2 68.6 L975.6 69.4 L979.6 68.7 L982.4 68.6 L985.8 68.9 L989.6 69.2 L992.4 67.8 L995.1 67.2 L997.7 67.4 L1000.8 66.7 L1003.6 67.5 L1007.1 67.2 L1010.0 67.0 L1013.8 66.9 L1016.9 68.2 L1020.1 67.2 L1022.4 68.1 L1025.5 67.5 L1028.9 67.2 L1031.2 66.5 L1034.6 64.5 L1036.8 63.0 L1040.3 62.8 L1043.3 62.8 L1046.3 62.1 L1049.0 62.0 L1051.2 62.0 L1055.1 61.7 L1057.1 62.2 L1060.6 61.6 L1062.6 61.1 L1065.1 59.7 L1068.2 59.1 L1071.8 59.0 L1075.6 59.0 L1079.3 58.5 L1082.8 58.6 L1086.6 60.1 L1090.7 60.3 L1092.9 59.8 L1096.8 59.3 L1098.7 58.9 L1101.4 59.0 L1104.7 58.7 L1106.7 57.9 L1110.1 56.9 L1112.3 57.3 L1115.9 56.2 L1118.4 56.7 L1121.5 56.4 L1124.7 56.1 L1128.0 56.4 L1131.4 55.8 L1133.9 55.6 L1137.0 55.5 L1139.8 55.9 L1143.0 55.6 L1146.0 55.2 L1149.2 55.8 L1151.9 55.8 L1155.3 55.5 L1158.6 56.0 L1161.5 55.7 L1164.7 55.7 L1167.7 56.1 L1170.4 55.7 L1173.5 55.4 L1176.7 55.8 L1179.7 55.5 L1182.9 55.7 L1186.1 55.6 L1188.9 55.9 L1192.3 56.0 L1195.2 56.0 L1198.3 55.8 L1201.3 55.8 L1204.4 55.8 L1207.4 55.6 L1210.2 55.4 L1213.1 55.3 L1216.0 55.2 L1219.1 55.2 L1222.1 55.1 L1225.1 55.1 L1228.2 55.1 L1231.3 55.1 L1234.4 55.1 L1237.4 55.1"/>
<path d="M836.0 459.6 L836.0 456.6 L836.1 453.5 L836.1 450.5 L836.2 447.4 L836.2 444.4 L836.3 441.3 L836.3 438.3 L836.4 435.2 L836.4 432.2 L836.5 429.1 L836.5 426.1 L836.6 423.0 L836.6 420.0 L836.7 416.9 L836.7 413.9 L836.8 410.8 L836.8 407.8 L836.9 404.7 L836.9 401.7 L837.0 398.6 L837.1 395.6 L837.1 392.5 L837.2 389.5 L837.2 386.4 L837.3 383.3 L837.3 380.3 L837.4 377.2 L837.5 374.1 L837.5 371.1 L837.6 368.0 L837.6 365.0 L837.7 361.9 L837.7 358.8 L837.8 355.8 L837.9 352.7 L837.9 349.6 L838.0 346.6 L838.0 343.5 L838.1 340.5 L838.1 337.4 L838.2 334.3 L838.3 331.3 L838.3 328.2 L838.4 325.1 L838.4 322.1 L838.5 319.0 L838.5 316.0 L838.6 312.9 L838.7 309.8 L838.7 306.8 L838.8 303.7 L838.8 300.6 L838.9 297.6 L839.0 294.5 L839.1 291.4 L839.2 288.4 L839.3 285.3 L839.4 282.3 L839.5 279.2 L839.6 276.1 L839.7 273.1 L839.8 270.0 L839.9 266.9 L840.0 263.9 L840.1 260.8 L840.2 257.7 L840.3 254.7 L840.4 251.6 L840.6 248.5 L840.7 245.5 L840.8 242.4 L841.0 239.3 L841.1 236.3 L841.3 233.2 L841.4 230.2 L841.5 227.1 L841.7 224.0 L841.8 220.9 L841.9 217.9 L842.1 214.7 L842.3 211.8 L842.4 208.8 L842.7 205.5 L842.6 202.6 L843.0 199.6 L843.1 196.5 L843.6 193.5 L843.9 190.5 L844.3 187.8 L844.3 185.1 L845.3 182.5 L845.9 179.4 L845.9 176.2 L846.5 173.5 L846.5 170.2 L846.9 167.6 L847.2 163.8 L846.6 160.9 L846.8 157.7 L848.0 153.9 L847.5 150.4 L848.6 146.8 L849.1 144.1 L850.4 141.4 L851.3 138.6 L853.0 136.3 L854.6 133.9 L855.8 132.2 L857.8 130.6 L859.5 128.3 L861.2 125.1 L862.9 122.7 L865.0 120.4 L865.4 117.2 L866.9 114.6 L868.9 111.4 L870.7 108.9 L872.7 106.6 L874.2 104.6 L876.3 101.9 L878.9 101.0 L882.2 99.2 L885.6 96.8 L888.4 95.2 L891.0 94.8 L893.3 93.3 L896.3 91.1 L898.0 88.7 L900.1 87.3 L902.8 84.8 L905.0 82.7 L907.0 81.4 L909.2 79.6 L911.8 78.5 L914.9 77.7 L919.0 77.1 L921.7 76.3 L925.0 76.3 L929.4 74.9 L932.3 74.6 L935.8 75.5 L939.5 74.5 L942.5 73.6 L945.0 73.4 L947.1 72.8 L950.3 71.7 L953.0 70.3 L955.0 69.2 L958.6 68.6 L961.0 67.9 L963.6 66.7 L966.4 66.3 L969.3 65.7 L973.2 66.3 L976.3 65.8 L978.9 65.4 L982.3 65.2 L985.3 64.3 L988.9 64.0 L991.8 64.4 L995.6 64.7 L998.6 64.0 L1001.5 64.3 L1004.9 64.8 L1008.0 64.9 L1011.0 64.4 L1013.6 64.2 L1017.2 63.7 L1020.1 63.7 L1022.8 64.5 L1026.6 63.2 L1029.1 63.2 L1031.5 61.8 L1035.2 60.9 L1038.4 60.6 L1041.7 61.4 L1044.5 61.5 L1048.7 62.1 L1051.6 61.8 L1054.9 61.8 L1057.8 61.6 L1060.5 61.8 L1063.2 61.0 L1065.5 60.0 L1068.3 58.8 L1070.6 57.4 L1073.0 56.8 L1076.5 55.6 L1079.2 55.8 L1082.4 55.9 L1085.5 55.4 L1089.1 56.4 L1093.2 57.4 L1096.9 57.7 L1100.3 58.3 L1103.5 58.7 L1107.2 58.3 L1110.4 58.3 L1113.6 57.6 L1115.4 57.6 L1118.2 56.7 L1121.5 56.5 L1123.6 55.8 L1126.4 55.4 L1129.3 55.8 L1132.9 55.3 L1135.6 55.8 L1139.5 55.3 L1142.8 55.9 L1146.2 56.0 L1149.0 55.8 L1152.2 56.0 L1155.5 56.0 L1158.4 55.9 L1161.2 55.9 L1164.1 55.5 L1166.6 55.1 L1169.4 55.1 L1172.4 55.1 L1175.7 55.1 L1178.7 55.1 L1181.7 55.1 L1184.9 55.3 L1188.2 55.5 L1191.5 55.3 L1194.6 55.5 L1197.8 55.6 L1201.1 55.6 L1204.0 55.7 L1207.0 55.5 L1210.2 55.5 L1213.0 55.4 L1216.1 55.4 L1219.1 55.3 L1222.1 55.2 L1225.1 55.2 L1228.2 55.2 L1231.2 55.1 L1234.3 55.1 L1237.4 55.1"/>
<path d="M836.0 459.6 L836.0 456.5 L836.1 453.5 L836.1 450.4 L836.1 447.3 L836.2 444.2 L836.2 441.2 L836.2 438.1 L836.3 435.0 L836.3 431.9 L836.3 428.9 L836.4 425.8 L836.4 422.7 L836.4 419.6 L836.5 416.6 L836.5 413.5 L836.5 410.4 L836.6 407.4 L836.6 404.3 L836.6 401.2 L836.7 398.1 L836.7 395.0 L836.7 392.0 L836.8 388.9 L836.8 385.8 L836.9 382.7 L836.9 379.6 L836.9 376.5 L837.0 373.5 L837.0 370.4 L837.0 367.3 L837.1 364.2 L837.1 361.1 L837.2 358.0 L837.2 355.0 L837.2 351.9 L837.3 348.8 L837.3 345.7 L837.3 342.6 L837.4 339.5 L837.4 336.5 L837.5 333.4 L837.5 330.3 L837.5 327.2 L837.6 324.1 L837.6 321.0 L837.7 318.0 L837.7 314.9 L837.7 311.8 L837.8 308.7 L837.8 305.6 L837.9 302.5 L837.9 299.4 L838.0 296.4 L838.0 293.3 L838.1 290.2 L838.2 287.1 L838.3 284.0 L838.4 280.9 L838.4 277.8 L838.5 274.8 L838.6 271.7 L838.7 268.6 L838.8 265.5 L838.8 262.4 L838.9 259.3 L839.0 256.2 L839.1 253.1 L839.2 250.1 L839.3 247.0 L839.4 243.9 L839.5 240.8 L839.6 237.7 L839.7 234.6 L839.8 231.5 L839.9 228.4 L840.1 225.4 L840.2 222.2 L840.3 219.2 L840.3 216.0 L840.4 213.0 L840.8 210.1 L840.9 206.9 L841.2 203.8 L841.1 200.9 L841.3 198.0 L841.8 195.0 L841.8 191.9 L842.0 188.9 L842.3 185.6 L842.7 182.9 L842.8 179.3 L842.5 176.7 L843.1 173.4 L843.3 170.1 L842.9 167.0 L843.2 163.8 L844.1 160.6 L844.4 157.9 L844.4 154.8 L846.2 152.1 L847.1 149.2 L848.2 145.7 L848.5 143.1 L849.9 140.5 L850.8 138.2 L851.1 135.4 L852.8 132.5 L854.4 130.3 L855.1 127.7 L856.1 124.2 L858.1 122.5 L859.2 119.7 L860.5 116.4 L861.7 113.5 L863.7 111.2 L864.7 107.5 L866.7 105.3 L868.9 103.5 L871.0 100.4 L873.2 98.4 L875.6 97.2 L878.2 94.9 L880.2 93.6 L883.7 91.4 L885.5 90.1 L888.8 88.3 L891.8 86.7 L894.5 85.8 L898.0 84.2 L901.3 83.0 L903.5 81.3 L906.9 80.4 L909.8 79.2 L912.2 77.9 L915.3 76.2 L917.5 75.5 L921.1 74.7 L923.7 73.4 L926.1 71.5 L928.5 71.0 L931.2 69.8 L934.2 68.4 L936.5 67.8 L940.3 67.8 L942.4 66.1 L946.5 65.3 L949.4 65.4 L952.7 65.2 L955.0 65.1 L959.0 64.1 L962.6 64.3 L965.4 64.4 L968.8 64.3 L971.5 64.4 L975.4 63.3 L978.5 63.2 L981.6 63.6 L985.0 62.6 L987.4 63.2 L990.8 61.8 L993.6 61.6 L995.8 61.8 L998.7 60.8 L1002.3 61.6 L1004.5 61.1 L1007.5 60.1 L1010.4 60.0 L1014.4 61.0 L1016.6 60.1 L1019.9 60.5 L1023.5 60.2 L1027.3 60.0 L1030.4 59.5 L1033.7 58.9 L1036.4 60.0 L1039.7 59.5 L1043.3 60.2 L1046.3 59.1 L1049.5 59.7 L1052.4 59.3 L1055.7 58.8 L1058.3 59.2 L1061.7 59.2 L1063.8 58.4 L1067.2 57.8 L1069.6 57.9 L1073.1 56.6 L1075.7 56.1 L1079.7 56.1 L1082.4 57.0 L1085.8 56.5 L1088.4 56.6 L1092.2 56.0 L1094.7 56.3 L1098.3 56.9 L1101.5 56.2 L1104.8 56.1 L1107.3 56.0 L1110.9 56.5 L1113.9 56.4 L1116.7 56.0 L1120.2 56.1 L1123.1 56.4 L1126.1 56.1 L1128.8 55.8 L1131.8 55.4 L1135.0 55.4 L1138.1 55.8 L1141.3 55.3 L1144.2 55.3 L1147.8 55.4 L1151.0 55.5 L1154.0 55.4 L1157.3 55.5 L1160.0 55.4 L1163.5 55.3 L1166.3 55.6 L1169.6 55.6 L1172.7 55.5 L1175.8 55.3 L1178.7 55.7 L1181.9 55.4 L1185.0 55.6 L1187.9 55.3 L1191.1 55.4 L1194.0 55.3 L1197.1 55.2 L1200.3 55.2 L1203.4 55.2 L1206.5 55.1 L1209.5 55.1 L1212.7 55.2 L1215.7 55.2 L1218.9 55.2 L1221.9 55.1 L1225.1 55.2 L1228.1 55.2 L1231.2 55.2 L1234.3 55.1 L1237.4 55.1"/>
<path d="M836.0 459.6 L836.0 456.5 L836.0 453.4 L836.0 450.3 L836.1 447.2 L836.1 444.1 L836.1 441.0 L836.1 437.9 L836.1 434.8 L836.1 431.7 L836.2 428.6 L836.2 425.5 L836.2 422.4 L836.2 419.3 L836.2 416.2 L836.2 413.1 L836.3 410.0 L836.3 406.9 L836.3 403.8 L836.3 400.7 L836.3 397.6 L836.4 394.5 L836.4 391.4 L836.4 388.3 L836.4 385.2 L836.4 382.1 L836.4 379.0 L836.5 375.9 L836.5 372.8 L836.5 369.7 L836.5 366.6 L836.5 363.5 L836.6 360.4 L836.6 357.3 L836.6 354.1 L836.6 351.0 L836.6 347.9 L836.7 344.8 L836.7 341.7 L836.7 338.6 L836.7 335.5 L836.7 332.4 L836.8 329.3 L836.8 326.2 L836.8 323.1 L836.8 320.0 L836.8 316.9 L836.8 313.8 L836.9 310.7 L836.9 307.6 L836.9 304.5 L836.9 301.4 L837.0 298.3 L837.0 295.1 L837.1 292.0 L837.1 288.9 L837.2 285.8 L837.3 282.7 L837.3 279.6 L837.4 276.5 L837.4 273.4 L837.5 270.3 L837.5 267.2 L837.6 264.0 L837.7 260.9 L837.7 257.8 L837.8 254.7 L837.8 251.6 L837.9 248.5 L838.0 245.4 L838.0 242.3 L838.1 239.2 L838.2 236.1 L838.3 232.9 L838.4 229.8 L838.4 226.7 L838.5 223.5 L838.5 220.4 L838.7 217.5 L838.9 214.3 L839.1 211.4 L839.0 208.1 L839.3 205.0 L839.1 201.9 L839.4 199.0 L839.5 195.8 L839.6 192.5 L839.3 189.3 L839.5 186.1 L839.7 183.2 L839.8 180.1 L840.6 177.1 L840.6 174.6 L840.4 171.5 L841.3 168.1 L842.3 166.0 L842.2 163.6 L843.6 160.5 L843.9 157.0 L845.0 154.7 L844.7 150.4 L845.1 147.0 L844.6 143.8 L844.8 139.1 L845.2 136.4 L845.9 133.8 L847.0 130.9 L848.4 128.6 L850.7 126.9 L852.9 124.7 L854.8 122.4 L855.4 120.4 L855.9 117.0 L857.6 114.0 L857.7 109.6 L859.0 106.9 L859.3 103.1 L862.0 101.2 L864.1 99.5 L867.8 98.3 L871.4 97.1 L874.2 95.4 L876.5 93.8 L879.5 92.1 L880.9 90.1 L883.2 87.8 L885.5 85.2 L887.7 83.5 L890.7 81.5 L893.9 80.2 L897.1 79.0 L900.8 78.4 L903.7 76.4 L907.1 75.5 L910.0 73.4 L911.9 73.0 L914.7 71.0 L916.9 69.7 L918.9 68.1 L922.1 68.1 L925.1 66.6 L928.8 66.7 L932.3 65.9 L935.3 65.1 L939.1 65.1 L941.8 64.2 L945.3 63.5 L948.2 63.1 L951.2 63.1 L954.4 62.3 L958.0 61.7 L960.2 61.4 L962.3 60.5 L965.3 60.1 L967.6 58.8 L971.1 58.5 L973.6 57.7 L977.4 58.7 L980.6 59.0 L984.7 59.3 L988.4 59.8 L992.4 60.3 L996.5 61.3 L998.8 60.9 L1001.2 59.9 L1003.3 59.3 L1005.8 58.0 L1008.6 57.2 L1011.1 57.1 L1014.4 57.1 L1017.9 57.1 L1021.7 58.8 L1026.0 58.2 L1029.1 58.9 L1032.6 59.1 L1035.9 57.5 L1038.2 58.0 L1040.6 57.2 L1042.8 56.3 L1046.1 56.4 L1049.5 56.6 L1052.7 57.1 L1056.8 58.0 L1060.2 58.1 L1064.3 58.5 L1067.2 57.5 L1069.3 57.0 L1072.3 55.9 L1074.7 55.2 L1076.7 55.1 L1080.0 55.1 L1083.7 55.1 L1086.1 55.4 L1090.4 56.0 L1094.2 55.6 L1097.4 56.1 L1100.8 56.4 L1104.5 57.1 L1106.8 57.0 L1110.5 56.2 L1113.4 56.5 L1116.2 55.7 L1119.0 55.9 L1121.6 55.4 L1124.3 55.1 L1127.9 55.1 L1130.7 55.1 L1133.8 55.1 L1136.5 55.1 L1140.1 55.1 L1143.7 55.3 L1147.6 55.9 L1150.7 56.0 L1154.1 56.0 L1157.0 56.3 L1160.3 56.0 L1162.6 55.9 L1165.7 55.1 L1168.2 55.1 L1171.4 55.1 L1174.5 55.1 L1177.8 55.1 L1180.9 55.1 L1184.5 55.2 L1187.8 55.7 L1190.9 55.6 L1194.1 55.4 L1196.9 55.4 L1199.9 55.1 L1202.9 55.2 L1206.1 55.1 L1209.1 55.1 L1212.2 55.1 L1215.6 55.1 L1218.8 55.2 L1221.9 55.3 L1225.0 55.2 L1228.1 55.2 L1231.2 55.1 L1234.3 55.1 L1237.4 55.1"/>
<path d="M836.0 459.6 L836.0 456.5 L836.0 453.3 L836.0 450.2 L836.0 447.1 L836.0 444.0 L836.0 440.8 L836.0 437.7 L836.0 434.6 L836.0 431.5 L836.0 428.3 L836.0 425.2 L836.0 422.1 L836.0 419.0 L836.0 415.8 L836.0 412.7 L836.0 409.6 L836.0 406.5 L836.0 403.3 L836.0 400.2 L836.0 397.1 L836.0 394.0 L836.0 390.8 L836.0 387.7 L836.0 384.6 L836.0 381.5 L836.0 378.3 L836.0 375.2 L836.0 372.1 L836.0 369.0 L836.0 365.8 L836.0 362.7 L836.0 359.6 L836.0 356.5 L836.0 353.3 L836.0 350.2 L836.0 347.1 L836.0 344.0 L836.0 340.8 L836.0 337.7 L836.0 334.6 L836.0 331.5 L836.0 328.3 L836.0 325.2 L836.0 322.1 L836.0 319.0 L836.0 315.8 L836.0 312.7 L836.0 309.6 L836.0 306.5 L836.0 303.3 L836.0 300.2 L836.0 297.1 L836.1 293.9 L836.1 290.8 L836.1 287.7 L836.2 284.5 L836.2 281.4 L836.3 278.3 L836.3 275.1 L836.3 272.0 L836.4 268.9 L836.4 265.7 L836.5 262.6 L836.5 259.5 L836.5 256.3 L836.6 253.2 L836.6 250.1 L836.6 246.9 L836.7 243.8 L836.7 240.7 L836.8 237.5 L836.8 234.4 L836.9 231.3 L836.9 228.1 L836.9 225.0 L836.9 221.9 L837.1 218.7 L837.3 215.7 L837.4 212.7 L837.4 209.7 L837.4 206.4 L837.7 203.5 L837.4 200.2 L837.4 196.6 L837.0 193.4 L836.9 190.2 L837.2 186.7 L837.4 184.1 L837.5 181.2 L837.9 177.7 L838.4 175.3 L839.4 172.8 L840.1 169.8 L840.0 166.9 L840.2 164.7 L840.5 161.1 L841.3 158.6 L841.3 154.2 L842.1 151.5 L841.6 148.3 L842.8 145.0 L843.2 141.3 L843.7 137.8 L844.4 135.1 L844.9 132.3 L845.5 130.1 L847.4 126.4 L848.1 123.7 L849.0 121.0 L850.3 118.2 L850.5 115.0 L851.7 111.7 L852.2 108.9 L854.1 106.1 L855.7 103.2 L856.5 100.5 L858.8 98.2 L861.7 96.8 L864.2 94.8 L867.5 93.7 L870.2 92.4 L872.5 89.9 L875.1 89.1 L878.4 86.4 L880.6 84.8 L884.0 83.0 L886.5 80.8 L888.5 79.2 L892.0 77.6 L895.0 76.1 L897.4 74.4 L900.5 72.4 L902.1 70.4 L905.0 69.3 L908.2 67.7 L910.6 67.2 L914.2 66.3 L917.1 65.8 L920.4 65.2 L923.2 63.9 L927.2 63.2 L929.7 62.9 L933.5 62.8 L936.1 62.0 L939.8 61.4 L942.2 60.6 L945.4 59.4 L948.1 59.3 L951.6 58.8 L954.5 57.6 L957.4 57.3 L960.3 58.0 L963.5 57.5 L966.8 57.9 L971.3 57.1 L973.8 58.2 L976.7 57.2 L980.4 57.5 L982.4 56.7 L985.5 55.7 L987.2 55.1 L990.7 55.3 L993.3 55.1 L996.4 55.1 L999.4 55.1 L1004.1 55.1 L1006.8 55.3 L1010.7 56.5 L1015.3 56.7 L1018.9 56.7 L1021.3 56.9 L1024.6 56.5 L1027.9 56.8 L1029.8 55.6 L1032.4 55.2 L1035.5 55.1 L1038.7 55.1 L1040.9 55.1 L1045.1 55.1 L1048.4 55.4 L1051.7 55.3 L1055.8 56.1 L1059.5 56.0 L1062.8 56.4 L1065.7 56.5 L1068.1 56.3 L1070.1 55.1 L1073.0 55.1 L1075.2 55.1 L1077.7 55.1 L1081.2 55.1 L1084.5 55.1 L1088.3 55.1 L1092.0 55.1 L1096.3 55.2 L1099.4 55.8 L1103.1 57.0 L1107.0 56.6 L1109.8 57.2 L1113.2 56.3 L1115.8 55.6 L1118.5 55.3 L1121.0 55.1 L1123.6 55.1 L1126.6 55.1 L1129.2 55.1 L1133.2 55.1 L1136.1 55.1 L1139.9 55.1 L1143.0 55.8 L1146.3 55.8 L1149.7 55.7 L1153.1 55.8 L1155.9 55.1 L1158.8 55.3 L1161.2 55.1 L1164.6 55.1 L1167.5 55.1 L1170.4 55.1 L1174.1 55.1 L1177.1 55.1 L1180.6 55.2 L1184.0 55.3 L1187.5 55.6 L1190.6 55.7 L1193.7 55.6 L1196.8 55.5 L1199.9 55.3 L1202.9 55.3 L1205.9 55.2 L1209.1 55.1 L1212.0 55.1 L1215.1 55.1 L1218.4 55.1 L1221.6 55.1 L1224.7 55.1 L1227.9 55.1 L1231.1 55.1 L1234.2 55.1 L1237.4 55.1"/>
</g>
<g fill="none" stroke="#d62728" stroke-width="2.7" stroke-linejoin="round" stroke-linecap="butt">
<path d="M836.0 459.6 L836.0 456.6 L836.1 453.5 L836.1 450.5 L836.1 447.4 L836.2 444.4 L836.2 441.3 L836.2 438.3 L836.3 435.2 L836.3 432.2 L836.3 429.1 L836.4 426.1 L836.4 423.0 L836.5 420.0 L836.5 416.9 L836.5 413.9 L836.6 410.8 L836.6 407.8 L836.6 404.7 L836.7 401.6 L836.7 398.6 L836.8 395.5 L836.8 392.5 L836.9 389.4 L836.9 386.3 L837.0 383.3 L837.0 380.2 L837.1 377.1 L837.1 374.1 L837.2 371.0 L837.2 367.9 L837.3 364.9 L837.3 361.8 L837.4 358.7 L837.4 355.7 L837.5 352.6 L837.5 349.5 L837.6 346.5 L837.6 343.4 L837.7 340.3 L837.7 337.3 L837.8 334.2 L837.8 331.1 L837.9 328.1 L838.0 325.0 L838.0 321.9 L838.1 318.9 L838.1 315.8 L838.2 312.7 L838.2 309.6 L838.3 306.6 L838.3 303.5 L838.4 300.4 L838.5 297.4 L838.6 294.3 L838.7 291.2 L838.8 288.2 L838.9 285.1 L839.0 282.0 L839.1 279.0 L839.3 275.9 L839.4 272.8 L839.5 269.8 L839.6 266.7 L839.7 263.6 L839.8 260.6 L839.9 257.5 L840.0 254.4 L840.2 251.4 L840.3 248.3 L840.5 245.2 L840.6 242.1 L840.8 239.1 L841.0 236.0 L841.1 232.9 L841.3 229.9 L841.5 226.8 L841.6 223.6 L841.6 220.5 L841.8 217.3 L841.9 214.5 L842.4 211.5 L842.6 208.7 L843.0 205.9 L843.5 202.7 L843.3 199.8 L843.8 196.5 L843.4 193.1 L843.7 190.2 L843.6 186.7 L844.4 184.0 L844.6 181.3 L845.5 179.2 L845.9 176.5 L846.2 173.2 L846.5 170.4 L846.1 166.6 L845.9 163.1 L845.9 159.1 L845.7 155.3 L846.7 152.8 L847.4 151.2 L849.3 148.9 L850.4 146.1 L852.6 144.0 L853.3 140.9 L853.1 138.0 L854.7 134.3 L855.2 131.5 L856.2 128.1 L857.6 125.7 L859.7 122.9 L861.7 120.9 L864.0 119.1 L866.5 117.7 L868.3 114.8 L869.4 112.2 L871.2 108.9 L872.6 107.1 L873.7 104.4 L876.3 102.2 L878.8 99.9 L881.3 97.8 L883.3 96.8 L886.9 95.0 L888.8 93.2 L891.6 91.2 L893.9 89.4 L896.8 87.6 L899.4 86.3 L901.2 84.6 L904.4 83.2 L907.7 82.2 L910.5 81.1 L913.6 80.1 L916.8 78.8 L920.2 77.1 L921.7 76.4 L925.0 74.7 L928.2 73.7 L930.5 72.7 L933.6 71.5 L937.1 70.2 L939.6 69.2 L942.4 68.3 L945.9 66.9 L948.9 66.8 L951.4 65.8 L954.2 65.3 L958.1 64.3 L961.0 63.7 L963.9 64.0 L967.5 63.0 L970.5 62.1 L972.8 61.7 L976.5 61.0 L979.6 60.7 L982.5 61.2 L986.1 61.3 L990.0 60.9 L992.5 61.5 L996.3 61.0 L999.3 60.4 L1002.2 59.1 L1004.7 58.9 L1006.6 58.6 L1010.0 57.7 L1012.0 57.6 L1015.9 57.7 L1019.9 57.4 L1023.4 57.9 L1025.9 57.5 L1028.6 57.5 L1031.7 57.8 L1033.8 56.3 L1036.8 56.2 L1039.7 56.0 L1042.8 55.4 L1047.1 56.8 L1050.5 56.7 L1054.9 57.4 L1058.7 58.5 L1060.8 58.0 L1063.3 57.1 L1066.0 57.3 L1069.0 56.4 L1071.3 55.7 L1074.2 55.7 L1077.6 55.7 L1081.7 56.1 L1084.8 57.1 L1088.8 56.9 L1091.1 56.8 L1093.3 56.1 L1096.3 55.1 L1098.3 55.1 L1101.0 55.1 L1103.6 55.1 L1107.2 55.1 L1111.5 55.1 L1114.9 55.9 L1118.6 57.0 L1122.4 57.1 L1124.8 56.6 L1127.3 56.1 L1130.5 55.3 L1132.7 55.1 L1136.1 55.1 L1139.1 55.1 L1142.7 55.8 L1146.2 56.3 L1149.5 56.2 L1152.3 56.5 L1155.0 56.4 L1158.1 55.7 L1160.5 55.1 L1163.3 55.1 L1166.0 55.1 L1169.4 55.1 L1172.7 55.1 L1176.2 55.4 L1179.2 55.5 L1182.5 55.6 L1185.6 55.7 L1188.6 55.4 L1191.4 55.3 L1194.4 55.1 L1197.5 55.1 L1200.4 55.3 L1203.7 55.3 L1206.9 55.4 L1210.1 55.3 L1213.1 55.4 L1216.1 55.3 L1219.1 55.3 L1222.1 55.2 L1225.1 55.2 L1228.1 55.1 L1231.2 55.1 L1234.3 55.1 L1237.4 55.1"/>
<path d="M836.0 459.6 L836.0 456.5 L836.1 453.5 L836.1 450.4 L836.1 447.3 L836.1 444.3 L836.2 441.2 L836.2 438.1 L836.2 435.1 L836.2 432.0 L836.3 428.9 L836.3 425.9 L836.3 422.8 L836.3 419.7 L836.4 416.6 L836.4 413.6 L836.4 410.5 L836.4 407.4 L836.5 404.4 L836.5 401.3 L836.5 398.2 L836.6 395.2 L836.6 392.1 L836.6 389.0 L836.7 385.9 L836.7 382.8 L836.7 379.7 L836.8 376.7 L836.8 373.6 L836.9 370.5 L836.9 367.4 L836.9 364.3 L837.0 361.3 L837.0 358.2 L837.0 355.1 L837.1 352.0 L837.1 348.9 L837.2 345.9 L837.2 342.8 L837.2 339.7 L837.3 336.6 L837.3 333.5 L837.3 330.5 L837.4 327.4 L837.4 324.3 L837.5 321.2 L837.5 318.1 L837.5 315.1 L837.6 312.0 L837.6 308.9 L837.7 305.8 L837.7 302.7 L837.7 299.6 L837.8 296.6 L837.9 293.5 L838.0 290.4 L838.1 287.3 L838.2 284.2 L838.3 281.1 L838.4 278.1 L838.5 275.0 L838.6 271.9 L838.7 268.8 L838.8 265.7 L838.9 262.6 L839.0 259.6 L839.1 256.5 L839.2 253.4 L839.3 250.3 L839.4 247.2 L839.5 244.1 L839.7 241.1 L839.8 238.0 L840.0 234.9 L840.1 231.8 L840.3 228.7 L840.4 225.6 L840.6 222.5 L840.6 219.5 L840.8 216.3 L840.9 213.1 L840.9 210.1 L841.2 206.8 L841.2 203.7 L841.4 200.8 L842.0 197.9 L842.4 195.2 L842.6 191.9 L842.8 189.4 L843.2 186.7 L843.5 183.3 L844.5 180.6 L844.4 177.7 L844.2 174.4 L844.5 171.6 L845.0 168.4 L844.4 164.9 L845.4 161.3 L845.0 158.5 L846.2 154.7 L846.5 152.1 L847.0 149.6 L847.3 146.4 L848.4 143.8 L849.9 140.7 L850.3 138.5 L852.0 135.6 L853.6 133.5 L854.4 130.5 L856.5 127.3 L857.9 124.5 L859.1 121.9 L860.2 119.3 L861.5 116.0 L862.7 113.5 L864.7 110.6 L866.5 107.8 L868.2 105.4 L870.0 103.3 L872.2 101.6 L875.4 99.5 L878.1 97.8 L880.5 95.4 L882.7 93.7 L885.1 93.0 L888.0 91.2 L891.0 89.7 L894.3 88.3 L897.0 86.6 L898.8 84.8 L901.7 82.1 L903.6 80.4 L906.6 78.0 L909.0 77.0 L911.1 75.2 L913.6 73.8 L916.8 72.7 L919.7 72.1 L922.0 70.1 L926.3 69.6 L929.4 69.1 L932.2 68.3 L935.9 68.6 L938.9 67.4 L942.5 67.9 L946.3 66.5 L949.0 66.0 L952.3 65.1 L954.7 64.5 L957.4 63.6 L960.8 62.8 L962.7 61.8 L966.1 60.8 L968.8 60.6 L971.8 59.7 L975.5 59.1 L978.7 58.9 L981.5 59.3 L984.5 59.3 L988.4 58.9 L990.6 58.7 L994.8 59.1 L997.7 58.6 L1000.3 58.7 L1003.5 58.6 L1005.9 57.6 L1009.4 57.9 L1012.0 57.4 L1014.5 56.9 L1017.7 56.7 L1020.7 55.9 L1023.8 56.5 L1027.5 56.7 L1030.5 55.9 L1034.4 56.3 L1037.8 56.9 L1041.0 56.6 L1044.2 57.8 L1047.8 58.1 L1051.5 57.9 L1054.9 57.3 L1057.2 57.8 L1059.7 58.0 L1062.5 57.3 L1065.3 56.6 L1068.2 56.0 L1070.4 55.9 L1073.6 55.1 L1076.7 55.1 L1078.6 55.1 L1081.8 55.1 L1085.5 55.1 L1088.3 55.1 L1091.3 55.1 L1094.9 55.3 L1098.7 55.2 L1101.3 55.4 L1105.5 55.7 L1108.4 56.2 L1111.2 56.3 L1115.0 55.8 L1117.8 56.6 L1120.7 56.2 L1123.8 56.1 L1126.8 55.8 L1130.2 55.9 L1133.3 55.5 L1135.8 55.5 L1139.2 55.5 L1142.2 55.3 L1145.2 55.4 L1148.6 55.5 L1151.7 55.7 L1154.4 55.7 L1157.9 55.8 L1160.8 55.7 L1163.7 55.4 L1166.8 55.5 L1169.7 55.2 L1172.7 55.2 L1175.4 55.3 L1178.6 55.1 L1181.6 55.1 L1184.5 55.1 L1187.8 55.1 L1190.7 55.1 L1193.8 55.1 L1197.2 55.1 L1200.3 55.2 L1203.4 55.2 L1206.7 55.4 L1209.8 55.4 L1213.1 55.4 L1216.0 55.4 L1219.2 55.4 L1222.2 55.3 L1225.2 55.2 L1228.3 55.2 L1231.3 55.2 L1234.3 55.1 L1237.4 55.1"/>
<path d="M836.0 459.6 L836.0 456.5 L836.0 453.4 L836.0 450.3 L836.1 447.3 L836.1 444.2 L836.1 441.1 L836.1 438.0 L836.1 434.9 L836.1 431.8 L836.2 428.7 L836.2 425.7 L836.2 422.6 L836.2 419.5 L836.2 416.4 L836.2 413.3 L836.3 410.2 L836.3 407.1 L836.3 404.1 L836.3 401.0 L836.3 397.9 L836.4 394.8 L836.4 391.7 L836.4 388.6 L836.4 385.5 L836.5 382.4 L836.5 379.3 L836.5 376.2 L836.5 373.1 L836.6 370.0 L836.6 367.0 L836.6 363.9 L836.6 360.8 L836.6 357.7 L836.7 354.6 L836.7 351.5 L836.7 348.4 L836.7 345.3 L836.8 342.2 L836.8 339.1 L836.8 336.0 L836.8 332.9 L836.9 329.8 L836.9 326.7 L836.9 323.6 L836.9 320.5 L837.0 317.5 L837.0 314.4 L837.0 311.3 L837.0 308.2 L837.1 305.1 L837.1 302.0 L837.1 298.9 L837.2 295.8 L837.3 292.7 L837.4 289.6 L837.4 286.5 L837.5 283.4 L837.6 280.3 L837.7 277.2 L837.8 274.1 L837.8 271.0 L837.9 267.9 L838.0 264.8 L838.1 261.7 L838.2 258.6 L838.2 255.5 L838.3 252.4 L838.4 249.3 L838.5 246.2 L838.7 243.1 L838.8 240.0 L838.9 236.9 L839.1 233.8 L839.2 230.7 L839.3 227.6 L839.3 224.4 L839.4 221.2 L839.5 218.1 L839.8 215.1 L839.9 212.1 L840.2 209.3 L840.5 206.3 L840.9 203.2 L840.7 200.0 L840.7 196.7 L840.6 193.6 L841.2 190.4 L841.4 187.3 L842.1 185.2 L842.6 182.6 L843.2 179.9 L843.5 176.9 L843.9 173.1 L843.7 170.0 L842.9 166.2 L843.1 163.2 L843.2 159.5 L844.1 157.4 L845.5 155.0 L847.0 152.0 L847.6 148.9 L848.1 146.3 L847.8 142.9 L847.8 139.7 L848.7 136.3 L849.5 132.4 L851.0 130.2 L852.2 127.7 L854.2 125.2 L855.0 122.9 L857.1 119.4 L858.2 117.0 L859.1 113.4 L860.7 111.1 L862.5 108.4 L865.1 105.7 L867.4 104.2 L869.9 101.8 L872.0 99.6 L873.8 98.2 L876.5 95.5 L879.7 93.6 L881.8 91.6 L884.2 90.7 L887.4 88.8 L889.9 86.1 L891.0 83.7 L893.9 81.9 L896.0 80.1 L898.6 78.3 L902.0 76.5 L905.8 75.5 L909.0 75.4 L911.4 74.0 L913.8 72.3 L916.7 70.9 L918.7 69.3 L920.9 67.6 L924.5 67.1 L927.2 67.2 L931.3 66.6 L935.2 67.1 L939.6 66.2 L942.8 66.1 L945.2 64.5 L947.1 62.6 L949.3 62.4 L952.3 61.8 L956.3 61.6 L959.2 61.1 L963.7 61.2 L966.4 60.6 L969.7 60.8 L971.8 59.5 L974.6 58.3 L977.1 58.1 L979.4 56.7 L982.7 56.8 L985.7 57.5 L989.8 57.3 L992.9 58.0 L996.9 57.5 L999.3 56.9 L1001.9 56.8 L1004.4 56.3 L1007.7 55.4 L1010.5 55.9 L1014.0 56.4 L1018.0 56.8 L1021.8 57.0 L1024.9 56.5 L1028.2 57.4 L1030.9 57.2 L1034.0 56.7 L1036.8 56.8 L1040.7 57.2 L1044.0 56.9 L1047.1 56.5 L1048.9 56.4 L1052.3 56.5 L1054.8 55.3 L1058.4 55.5 L1061.8 56.0 L1064.2 56.1 L1068.2 55.9 L1071.4 55.6 L1073.2 55.9 L1076.3 55.3 L1079.1 55.1 L1080.8 55.1 L1084.2 55.1 L1087.8 55.1 L1091.4 55.4 L1095.4 55.5 L1099.2 55.8 L1101.5 55.6 L1104.6 55.7 L1106.8 55.1 L1109.8 55.1 L1112.9 55.1 L1115.8 55.1 L1120.4 56.0 L1123.4 56.0 L1127.2 57.0 L1130.2 57.0 L1132.7 56.6 L1135.2 55.8 L1138.6 55.3 L1141.4 55.1 L1144.5 55.3 L1147.4 55.5 L1151.3 55.4 L1154.3 56.0 L1157.5 56.1 L1160.3 55.5 L1162.8 55.1 L1166.0 55.1 L1168.9 55.1 L1171.8 55.1 L1174.8 55.1 L1178.5 55.2 L1181.9 55.1 L1185.0 55.2 L1187.9 55.4 L1191.1 55.2 L1193.9 55.1 L1197.0 55.1 L1200.1 55.1 L1203.3 55.1 L1206.6 55.2 L1209.5 55.2 L1212.8 55.2 L1215.8 55.2 L1218.9 55.2 L1222.0 55.2 L1225.1 55.2 L1228.2 55.2 L1231.3 55.1 L1234.3 55.1 L1237.4 55.1"/>
<path d="M836.0 459.6 L836.0 456.5 L836.0 453.4 L836.0 450.3 L836.0 447.2 L836.0 444.1 L836.0 441.0 L836.1 437.9 L836.1 434.8 L836.1 431.7 L836.1 428.6 L836.1 425.5 L836.1 422.4 L836.1 419.3 L836.1 416.2 L836.1 413.1 L836.1 410.0 L836.1 406.9 L836.1 403.8 L836.2 400.7 L836.2 397.6 L836.2 394.5 L836.2 391.4 L836.2 388.3 L836.2 385.2 L836.2 382.0 L836.2 378.9 L836.3 375.8 L836.3 372.7 L836.3 369.6 L836.3 366.5 L836.3 363.4 L836.3 360.3 L836.3 357.2 L836.3 354.1 L836.3 351.0 L836.4 347.9 L836.4 344.8 L836.4 341.7 L836.4 338.6 L836.4 335.5 L836.4 332.4 L836.4 329.3 L836.4 326.1 L836.5 323.0 L836.5 319.9 L836.5 316.8 L836.5 313.7 L836.5 310.6 L836.5 307.5 L836.5 304.4 L836.6 301.3 L836.6 298.2 L836.7 295.1 L836.7 292.0 L836.8 288.9 L836.8 285.7 L836.9 282.6 L837.0 279.5 L837.0 276.4 L837.1 273.3 L837.2 270.2 L837.2 267.1 L837.3 264.0 L837.4 260.9 L837.4 257.7 L837.5 254.6 L837.6 251.5 L837.6 248.4 L837.8 245.3 L837.9 242.2 L838.0 239.1 L838.1 236.0 L838.2 232.8 L838.3 229.7 L838.4 226.6 L838.5 223.6 L838.6 220.3 L838.6 217.2 L838.8 214.1 L838.9 211.0 L839.0 207.6 L839.0 204.8 L839.4 201.7 L839.6 199.2 L840.4 196.1 L840.7 193.6 L840.9 190.5 L841.1 187.6 L841.6 184.4 L841.2 180.8 L841.0 177.2 L841.3 174.2 L841.3 170.8 L840.8 167.4 L841.6 164.1 L842.1 161.6 L842.4 158.5 L843.8 155.7 L844.4 153.2 L845.3 151.4 L847.2 148.5 L847.3 145.4 L848.0 141.9 L848.2 138.3 L848.3 135.3 L849.0 132.5 L849.9 128.9 L851.8 126.5 L853.2 123.7 L853.7 120.7 L855.9 118.4 L856.6 115.2 L858.7 112.0 L859.9 110.2 L861.9 106.9 L863.2 104.1 L865.0 101.1 L867.6 99.4 L869.7 97.2 L872.7 95.0 L875.2 93.4 L876.7 91.5 L879.7 89.4 L882.5 86.6 L885.0 84.7 L887.8 83.1 L889.8 81.0 L892.9 79.4 L894.9 77.6 L897.6 76.0 L901.1 74.4 L904.3 73.4 L907.7 72.2 L910.9 71.8 L913.9 71.0 L917.7 71.0 L920.9 70.0 L923.1 68.7 L926.0 67.8 L928.7 66.6 L930.6 64.8 L932.9 64.1 L936.1 62.6 L938.6 61.8 L942.8 60.9 L946.1 61.1 L949.4 60.8 L952.4 60.8 L956.1 61.1 L959.3 60.0 L962.7 59.8 L964.8 59.1 L967.2 57.9 L970.6 57.4 L973.1 56.4 L975.3 55.8 L978.6 55.8 L981.2 55.4 L984.3 55.3 L988.5 55.8 L991.4 56.3 L995.5 57.5 L999.0 57.1 L1003.2 57.7 L1005.8 57.3 L1008.5 56.9 L1011.7 57.2 L1014.1 56.7 L1017.0 56.5 L1020.2 56.3 L1023.7 55.8 L1026.4 55.4 L1029.4 56.1 L1033.4 55.6 L1036.8 56.6 L1039.2 56.1 L1042.6 55.7 L1045.1 56.0 L1048.1 55.4 L1051.0 55.1 L1053.8 55.1 L1056.4 55.1 L1060.1 55.1 L1063.1 55.1 L1066.3 55.7 L1069.4 55.1 L1073.1 55.8 L1076.1 55.5 L1079.1 55.3 L1082.6 55.9 L1084.8 55.3 L1087.9 55.1 L1091.1 55.1 L1094.4 55.1 L1097.5 55.1 L1099.9 55.3 L1103.4 55.5 L1107.0 56.0 L1110.4 55.7 L1114.6 56.5 L1117.4 57.0 L1120.8 56.2 L1123.5 56.1 L1126.0 55.6 L1128.4 55.1 L1131.1 55.1 L1134.4 55.1 L1137.0 55.1 L1140.2 55.1 L1143.7 55.1 L1147.0 55.1 L1150.4 55.1 L1153.3 55.2 L1157.0 55.5 L1160.4 55.8 L1163.4 55.9 L1166.1 55.7 L1168.8 55.4 L1171.8 55.1 L1175.0 55.1 L1178.1 55.1 L1181.0 55.1 L1184.4 55.1 L1187.4 55.1 L1191.0 55.1 L1194.0 55.3 L1197.4 55.5 L1200.4 55.5 L1203.4 55.3 L1206.5 55.4 L1209.5 55.2 L1212.7 55.1 L1215.6 55.1 L1218.7 55.1 L1221.8 55.1 L1224.9 55.1 L1228.0 55.1 L1231.2 55.1 L1234.3 55.1 L1237.4 55.1"/>
<path d="M836.0 459.6 L836.0 456.5 L836.0 453.4 L836.0 450.2 L836.0 447.1 L836.0 444.0 L836.0 440.9 L836.0 437.8 L836.0 434.7 L836.0 431.5 L836.0 428.4 L836.0 425.3 L836.0 422.2 L836.0 419.1 L836.0 416.0 L836.0 412.8 L836.0 409.7 L836.0 406.6 L836.0 403.5 L836.0 400.4 L836.0 397.3 L836.0 394.1 L836.0 391.0 L836.0 387.9 L836.0 384.8 L836.0 381.7 L836.0 378.6 L836.0 375.4 L836.0 372.3 L836.0 369.2 L836.0 366.1 L836.0 363.0 L836.0 359.9 L836.0 356.7 L836.0 353.6 L836.0 350.5 L836.0 347.4 L836.0 344.3 L836.0 341.1 L836.0 338.0 L836.0 334.9 L836.0 331.8 L836.0 328.7 L836.0 325.6 L836.0 322.4 L836.0 319.3 L836.0 316.2 L836.0 313.1 L836.0 310.0 L836.0 306.9 L836.0 303.7 L836.0 300.6 L836.0 297.5 L836.1 294.4 L836.1 291.2 L836.2 288.1 L836.2 285.0 L836.3 281.9 L836.3 278.8 L836.4 275.6 L836.4 272.5 L836.5 269.4 L836.5 266.2 L836.6 263.1 L836.6 260.0 L836.7 256.9 L836.7 253.7 L836.8 250.6 L836.9 247.5 L837.0 244.4 L837.1 241.2 L837.2 238.1 L837.3 235.0 L837.3 231.9 L837.5 228.8 L837.6 225.7 L837.7 222.5 L837.8 219.5 L838.0 216.3 L838.1 213.4 L838.2 210.3 L838.5 207.2 L838.2 204.0 L838.2 200.5 L838.1 197.4 L838.2 194.0 L838.2 191.1 L838.3 187.8 L838.9 184.6 L839.1 181.5 L839.7 179.0 L839.7 176.2 L840.3 173.3 L840.8 170.5 L841.6 167.8 L841.7 164.2 L842.0 161.9 L842.6 158.4 L843.3 155.2 L844.0 152.4 L844.3 149.2 L844.3 145.6 L845.8 143.2 L846.9 140.7 L847.1 137.2 L848.4 134.3 L849.0 131.5 L849.8 128.8 L850.9 125.4 L851.1 122.5 L852.7 119.2 L853.7 115.8 L855.2 113.0 L856.7 109.5 L857.8 107.8 L860.6 104.9 L861.6 102.3 L864.7 100.4 L866.0 97.2 L868.3 95.3 L870.4 92.8 L872.5 89.4 L874.5 86.9 L877.2 84.4 L879.1 82.8 L881.7 81.1 L886.0 80.5 L888.7 79.2 L892.6 77.8 L895.5 76.1 L898.4 74.7 L901.5 73.4 L903.9 71.8 L907.5 70.4 L910.7 69.4 L913.2 69.1 L917.0 68.0 L920.0 67.9 L923.1 66.8 L925.7 66.8 L928.7 65.6 L931.5 64.5 L933.7 62.7 L936.1 62.2 L938.9 59.6 L940.6 58.5 L943.9 57.2 L946.6 56.6 L949.1 57.0 L952.0 56.3 L955.6 56.5 L958.8 56.4 L962.4 56.6 L965.9 56.5 L968.9 57.0 L972.9 57.0 L976.3 56.0 L979.5 56.4 L982.1 57.0 L986.0 56.5 L988.7 57.1 L992.1 56.8 L995.5 56.9 L999.6 57.1 L1002.9 57.0 L1005.5 57.2 L1008.0 56.5 L1009.9 56.2 L1013.4 55.1 L1015.1 55.1 L1017.9 55.1 L1021.0 55.1 L1024.5 55.1 L1028.3 55.1 L1031.2 55.1 L1035.5 55.5 L1038.8 55.1 L1042.3 55.7 L1044.3 56.2 L1048.1 55.1 L1051.2 55.4 L1053.8 55.1 L1056.3 55.4 L1059.2 55.1 L1062.4 55.2 L1065.8 55.6 L1069.5 55.9 L1073.3 56.3 L1075.6 55.6 L1079.3 55.5 L1082.4 55.3 L1084.8 55.1 L1087.7 55.1 L1090.2 55.1 L1093.7 55.1 L1096.1 55.1 L1100.2 55.1 L1103.6 55.6 L1106.6 55.6 L1109.8 55.8 L1113.6 55.8 L1116.9 55.8 L1119.5 56.0 L1122.1 55.7 L1125.0 55.1 L1127.5 55.1 L1130.9 55.1 L1133.9 55.1 L1136.9 55.1 L1140.0 55.1 L1142.9 55.1 L1146.1 55.1 L1149.6 55.1 L1153.0 55.1 L1155.9 55.2 L1159.4 55.1 L1162.4 55.1 L1165.2 55.1 L1168.5 55.1 L1171.7 55.4 L1175.4 55.6 L1178.4 55.3 L1182.0 55.7 L1185.0 55.9 L1188.2 55.7 L1191.0 55.5 L1194.2 55.7 L1196.9 55.2 L1200.0 55.1 L1202.9 55.1 L1205.9 55.1 L1209.0 55.1 L1212.1 55.1 L1215.4 55.1 L1218.5 55.1 L1221.7 55.1 L1224.8 55.1 L1228.0 55.1 L1231.1 55.1 L1234.3 55.1 L1237.4 55.1"/>
</g>
</g>
<rect x="817.5" y="33.8" width="439.70000000000005" height="446.9" fill="none" stroke="#000" stroke-width="1.6"/>
<line x1="836.0" y1="480.7" x2="836.0" y2="487.8" stroke="#000" stroke-width="1.6"/>
<text x="833.7" y="511" text-anchor="middle" letter-spacing="-0.9">0.0</text>
<line x1="916.3" y1="480.7" x2="916.3" y2="487.8" stroke="#000" stroke-width="1.6"/>
<text x="914.0" y="511" text-anchor="middle" letter-spacing="-0.9">0.2</text>
<line x1="996.6" y1="480.7" x2="996.6" y2="487.8" stroke="#000" stroke-width="1.6"/>
<text x="994.3" y="511" text-anchor="middle" letter-spacing="-0.9">0.4</text>
<line x1="1076.8" y1="480.7" x2="1076.8" y2="487.8" stroke="#000" stroke-width="1.6"/>
<text x="1074.5" y="511" text-anchor="middle" letter-spacing="-0.9">0.6</text>
<line x1="1157.1" y1="480.7" x2="1157.1" y2="487.8" stroke="#000" stroke-width="1.6"/>
<text x="1154.8" y="511" text-anchor="middle" letter-spacing="-0.9">0.8</text>
<line x1="1237.4" y1="480.7" x2="1237.4" y2="487.8" stroke="#000" stroke-width="1.6"/>
<text x="1235.1" y="511" text-anchor="middle" letter-spacing="-0.9">1.0</text>
<line x1="810.4" y1="459.6" x2="817.5" y2="459.6" stroke="#000" stroke-width="1.6"/>
<text x="799.9" y="467.2" text-anchor="end" letter-spacing="-0.9">0.0</text>
<line x1="810.4" y1="378.7" x2="817.5" y2="378.7" stroke="#000" stroke-width="1.6"/>
<text x="799.9" y="386.3" text-anchor="end" letter-spacing="-0.9">0.2</text>
<line x1="810.4" y1="297.8" x2="817.5" y2="297.8" stroke="#000" stroke-width="1.6"/>
<text x="799.9" y="305.4" text-anchor="end" letter-spacing="-0.9">0.4</text>
<line x1="810.4" y1="216.9" x2="817.5" y2="216.9" stroke="#000" stroke-width="1.6"/>
<text x="799.9" y="224.5" text-anchor="end" letter-spacing="-0.9">0.6</text>
<line x1="810.4" y1="136.0" x2="817.5" y2="136.0" stroke="#000" stroke-width="1.6"/>
<text x="799.9" y="143.6" text-anchor="end" letter-spacing="-0.9">0.8</text>
<line x1="810.4" y1="55.1" x2="817.5" y2="55.1" stroke="#000" stroke-width="1.6"/>
<text x="799.9" y="62.7" text-anchor="end" letter-spacing="-0.9">1.0</text>
<text x="1034.9" y="23.2" text-anchor="middle" font-size="23.5">ROC</text>
<text x="1035.4" y="537.6" text-anchor="middle">False-Positive Rate</text>
<text transform="translate(757.6 259.6) rotate(-90)" text-anchor="middle">True-Positive Rate</text>
<rect x="1071.2" y="348.2" width="175.5999999999999" height="122.19999999999999" rx="4" ry="4" fill="#fff" fill-opacity="0.8" stroke="#ccc" stroke-opacity="0.8" stroke-width="2"/>
<line x1="1077.7" y1="363.4" x2="1117.7" y2="363.4" stroke="#1f77b4" stroke-width="3" stroke-linecap="square"/>
<text x="1133.5" y="372.4">Resnet54</text>
<line x1="1077.7" y1="392.6" x2="1117.7" y2="392.6" stroke="#ff7f0e" stroke-width="3" stroke-linecap="square"/>
<text x="1133.5" y="401.6">Resnet101</text>
<line x1="1077.7" y1="421.8" x2="1117.7" y2="421.8" stroke="#2ca02c" stroke-width="3" stroke-linecap="square"/>
<text x="1133.5" y="430.8">RPN54</text>
<line x1="1077.7" y1="451.0" x2="1117.7" y2="451.0" stroke="#d62728" stroke-width="3" stroke-linecap="square"/>
<text x="1133.5" y="460.0">RPN101</text>
<rect x="1318" y="33.8" width="177" height="446.9" fill="none" stroke="#000" stroke-width="1.6"/>
<rect x="1326.2" y="74.5" width="33.1" height="406.2" fill="#1f77b4" fill-opacity="0.7"/>
<rect x="1367.4" y="87.9" width="33.4" height="392.8" fill="#ff7f0e" fill-opacity="0.7"/>
<rect x="1410.2" y="70.4" width="33.4" height="410.3" fill="#2ca02c" fill-opacity="0.7"/>
<rect x="1451.3" y="65.2" width="35.0" height="415.5" fill="#d62728" fill-opacity="0.7"/>
<g stroke="#1f77b4" fill="none"><line x1="1342.4" y1="69.1" x2="1342.4" y2="81.0" stroke-width="3.8" stroke-opacity="0.7"/><line x1="1322.4" y1="69.1" x2="1362.4" y2="69.1" stroke-width="2.1"/><line x1="1322.4" y1="81.0" x2="1362.4" y2="81.0" stroke-width="2.1"/></g>
<g stroke="#ff7f0e" fill="none"><line x1="1384.5" y1="75.0" x2="1384.5" y2="102.4" stroke-width="3.8" stroke-opacity="0.7"/><line x1="1364.5" y1="75.0" x2="1404.5" y2="75.0" stroke-width="2.1"/><line x1="1364.5" y1="102.4" x2="1404.5" y2="102.4" stroke-width="2.1"/></g>
<g stroke="#2ca02c" fill="none"><line x1="1426.7" y1="65.2" x2="1426.7" y2="76.8" stroke-width="3.8" stroke-opacity="0.7"/><line x1="1406.7" y1="65.2" x2="1446.7" y2="65.2" stroke-width="2.1"/><line x1="1406.7" y1="76.8" x2="1446.7" y2="76.8" stroke-width="2.1"/></g>
<g stroke="#d62728" fill="none"><line x1="1468.9" y1="61.3" x2="1468.9" y2="69.1" stroke-width="3.8" stroke-opacity="0.7"/><line x1="1448.9" y1="61.3" x2="1488.9" y2="61.3" stroke-width="2.1"/><line x1="1448.9" y1="69.1" x2="1488.9" y2="69.1" stroke-width="2.1"/></g>
<rect x="1318" y="33.8" width="177" height="446.9" fill="none" stroke="#000" stroke-width="1.6"/>
<line x1="1342.7" y1="480.7" x2="1342.7" y2="487.8" stroke="#000" stroke-width="1.6"/>
<text x="1344.0" y="511" text-anchor="middle" letter-spacing="-0.9">0</text>
<line x1="1427.0" y1="480.7" x2="1427.0" y2="487.8" stroke="#000" stroke-width="1.6"/>
<text x="1428.3" y="511" text-anchor="middle" letter-spacing="-0.9">2</text>
<line x1="1310.9" y1="480.7" x2="1318" y2="480.7" stroke="#000" stroke-width="1.6"/>
<text x="1302.1" y="488.3" text-anchor="end" letter-spacing="-0.9">0.5</text>
<line x1="1310.9" y1="391.3" x2="1318" y2="391.3" stroke="#000" stroke-width="1.6"/>
<text x="1302.1" y="398.9" text-anchor="end" letter-spacing="-0.9">0.6</text>
<line x1="1310.9" y1="301.9" x2="1318" y2="301.9" stroke="#000" stroke-width="1.6"/>
<text x="1302.1" y="309.5" text-anchor="end" letter-spacing="-0.9">0.7</text>
<line x1="1310.9" y1="212.6" x2="1318" y2="212.6" stroke="#000" stroke-width="1.6"/>
<text x="1302.1" y="220.2" text-anchor="end" letter-spacing="-0.9">0.8</text>
<line x1="1310.9" y1="123.2" x2="1318" y2="123.2" stroke="#000" stroke-width="1.6"/>
<text x="1302.1" y="130.8" text-anchor="end" letter-spacing="-0.9">0.9</text>
<line x1="1310.9" y1="33.8" x2="1318" y2="33.8" stroke="#000" stroke-width="1.6"/>
<text x="1302.1" y="41.4" text-anchor="end" letter-spacing="-0.9">1.0</text>
<text x="1406.5" y="23.2" text-anchor="middle" font-size="23.5">ROC AUC</text>
</g>
</svg>
</body></html>
